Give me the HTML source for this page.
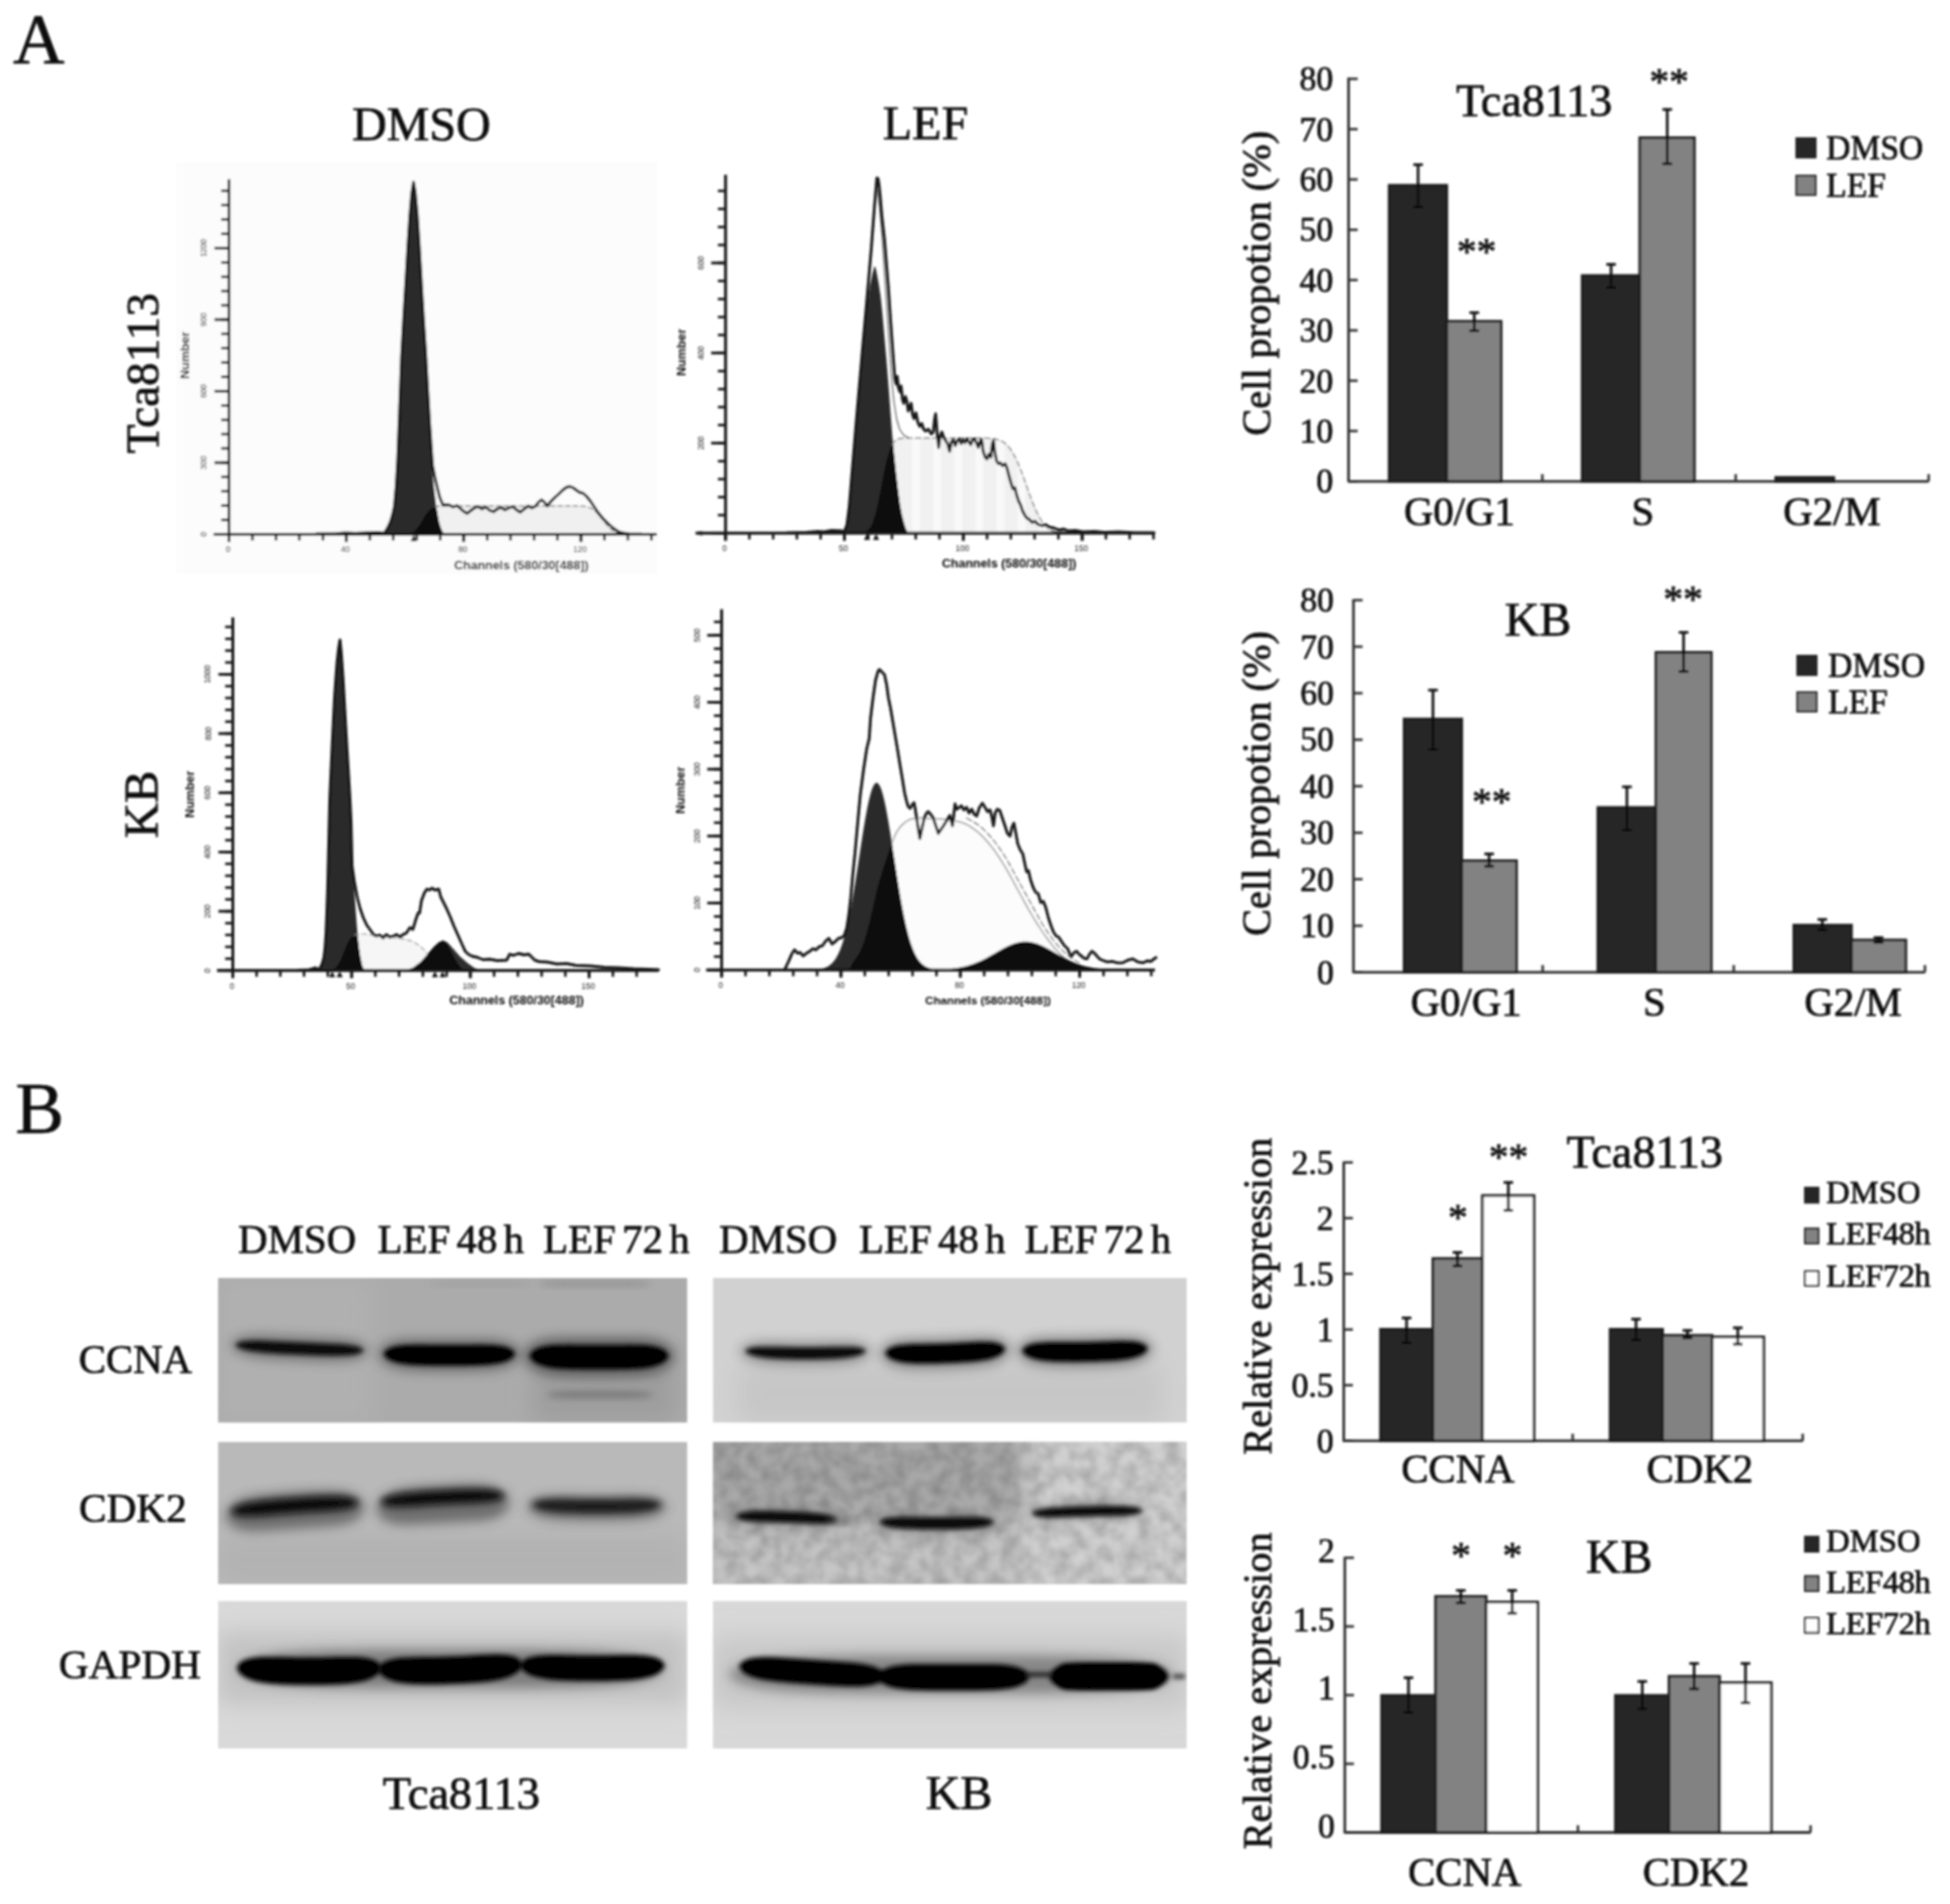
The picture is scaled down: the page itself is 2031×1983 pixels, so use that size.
<!DOCTYPE html>
<html><head><meta charset="utf-8"><title>Figure</title>
<style>html,body{margin:0;padding:0;background:#fff;}svg{display:block;}#wrap{width:2031px;height:1983px;overflow:hidden;}</style>
</head><body><div id="wrap">
<svg width="2031" height="1983" viewBox="0 0 2031 1983">
<rect width="2031" height="1983" fill="#fff"/>
<defs>
<filter id="b1" x="-20%" y="-50%" width="140%" height="200%"><feGaussianBlur stdDeviation="1"/></filter>
<filter id="b2" x="-20%" y="-80%" width="140%" height="260%"><feGaussianBlur stdDeviation="2.2"/></filter>
<filter id="b3" x="-20%" y="-80%" width="140%" height="260%"><feGaussianBlur stdDeviation="3.5"/></filter>
<filter id="b6" x="-20%" y="-100%" width="140%" height="300%"><feGaussianBlur stdDeviation="6"/></filter>
<filter id="b12" x="-30%" y="-100%" width="160%" height="300%"><feGaussianBlur stdDeviation="12"/></filter>
<filter id="noise" x="0" y="0" width="100%" height="100%" color-interpolation-filters="sRGB"><feTurbulence type="fractalNoise" baseFrequency="0.07" numOctaves="3" seed="5" result="n"/><feColorMatrix in="n" type="matrix" values="0 0 0 0 0  0 0 0 0 0  0 0 0 0 0  0.36 0 0 0 -0.115"/><feGaussianBlur stdDeviation="1.6"/></filter>
<filter id="softall" filterUnits="userSpaceOnUse" x="0" y="0" width="2031" height="1983"><feGaussianBlur stdDeviation="0.9"/></filter>
<filter id="soft" x="-5%" y="-5%" width="110%" height="110%"><feGaussianBlur stdDeviation="0.7"/></filter>
</defs>
<g filter="url(#softall)">
<text x="13.5" y="66.2" font-family="'Liberation Serif', serif" font-size="74.5" text-anchor="start" fill="#0a0a0a" stroke="#0a0a0a" stroke-width="0.7">A</text>
<text x="16" y="1180" font-family="'Liberation Serif', serif" font-size="76" text-anchor="start" fill="#0a0a0a" stroke="#0a0a0a" stroke-width="0.7">B</text>
<line x1="1404.6" y1="80.8" x2="1404.6" y2="502.3" stroke="#333" stroke-width="2.8"/>
<line x1="1404.6" y1="501.3" x2="2008.8" y2="501.3" stroke="#333" stroke-width="2.8"/>
<line x1="1404.6" y1="501.3" x2="1414.1" y2="501.3" stroke="#333" stroke-width="2.6"/>
<text x="1388.6" y="513.3" font-family="'Liberation Serif', serif" font-size="35" text-anchor="end" fill="#0a0a0a" stroke="#0a0a0a" stroke-width="0.7">0</text>
<line x1="1404.6" y1="448.9" x2="1414.1" y2="448.9" stroke="#333" stroke-width="2.6"/>
<text x="1388.6" y="460.9" font-family="'Liberation Serif', serif" font-size="35" text-anchor="end" fill="#0a0a0a" stroke="#0a0a0a" stroke-width="0.7">10</text>
<line x1="1404.6" y1="396.5" x2="1414.1" y2="396.5" stroke="#333" stroke-width="2.6"/>
<text x="1388.6" y="408.5" font-family="'Liberation Serif', serif" font-size="35" text-anchor="end" fill="#0a0a0a" stroke="#0a0a0a" stroke-width="0.7">20</text>
<line x1="1404.6" y1="344.1" x2="1414.1" y2="344.1" stroke="#333" stroke-width="2.6"/>
<text x="1388.6" y="356.1" font-family="'Liberation Serif', serif" font-size="35" text-anchor="end" fill="#0a0a0a" stroke="#0a0a0a" stroke-width="0.7">30</text>
<line x1="1404.6" y1="291.7" x2="1414.1" y2="291.7" stroke="#333" stroke-width="2.6"/>
<text x="1388.6" y="303.7" font-family="'Liberation Serif', serif" font-size="35" text-anchor="end" fill="#0a0a0a" stroke="#0a0a0a" stroke-width="0.7">40</text>
<line x1="1404.6" y1="239.3" x2="1414.1" y2="239.3" stroke="#333" stroke-width="2.6"/>
<text x="1388.6" y="251.3" font-family="'Liberation Serif', serif" font-size="35" text-anchor="end" fill="#0a0a0a" stroke="#0a0a0a" stroke-width="0.7">50</text>
<line x1="1404.6" y1="186.89999999999998" x2="1414.1" y2="186.89999999999998" stroke="#333" stroke-width="2.6"/>
<text x="1388.6" y="198.89999999999998" font-family="'Liberation Serif', serif" font-size="35" text-anchor="end" fill="#0a0a0a" stroke="#0a0a0a" stroke-width="0.7">60</text>
<line x1="1404.6" y1="134.5" x2="1414.1" y2="134.5" stroke="#333" stroke-width="2.6"/>
<text x="1388.6" y="146.5" font-family="'Liberation Serif', serif" font-size="35" text-anchor="end" fill="#0a0a0a" stroke="#0a0a0a" stroke-width="0.7">70</text>
<line x1="1404.6" y1="82.09999999999997" x2="1414.1" y2="82.09999999999997" stroke="#333" stroke-width="2.6"/>
<text x="1388.6" y="94.09999999999997" font-family="'Liberation Serif', serif" font-size="35" text-anchor="end" fill="#0a0a0a" stroke="#0a0a0a" stroke-width="0.7">80</text>
<line x1="1606.4" y1="501.3" x2="1606.4" y2="493.8" stroke="#333" stroke-width="2.6"/>
<line x1="1807.8" y1="501.3" x2="1807.8" y2="493.8" stroke="#333" stroke-width="2.6"/>
<line x1="2008.8" y1="501.3" x2="2008.8" y2="493.8" stroke="#333" stroke-width="2.6"/>
<rect x="1446.8" y="193.0" width="60.1" height="308.3" fill="#262626" stroke="#1c1c1c" stroke-width="2.7"/>
<rect x="1506.9" y="334.6" width="56.6" height="166.7" fill="#828282" stroke="#1c1c1c" stroke-width="2.7"/>
<rect x="1647.8" y="287.0" width="60.1" height="214.3" fill="#262626" stroke="#1c1c1c" stroke-width="2.7"/>
<rect x="1707.9" y="143.4" width="56.9" height="357.9" fill="#828282" stroke="#1c1c1c" stroke-width="2.7"/>
<rect x="1849.5" y="497.2" width="60.5" height="4.1" fill="#262626" stroke="#1c1c1c" stroke-width="2.7"/>
<line x1="1477" y1="171.5" x2="1477" y2="215.6" stroke="#0a0a0a" stroke-width="2.7"/>
<line x1="1472" y1="171.5" x2="1482" y2="171.5" stroke="#0a0a0a" stroke-width="2.7"/>
<line x1="1472" y1="215.6" x2="1482" y2="215.6" stroke="#0a0a0a" stroke-width="2.7"/>
<line x1="1535.5" y1="325.7" x2="1535.5" y2="344.4" stroke="#0a0a0a" stroke-width="2.7"/>
<line x1="1530.5" y1="325.7" x2="1540.5" y2="325.7" stroke="#0a0a0a" stroke-width="2.7"/>
<line x1="1530.5" y1="344.4" x2="1540.5" y2="344.4" stroke="#0a0a0a" stroke-width="2.7"/>
<line x1="1678" y1="275.3" x2="1678" y2="299.5" stroke="#0a0a0a" stroke-width="2.7"/>
<line x1="1673" y1="275.3" x2="1683" y2="275.3" stroke="#0a0a0a" stroke-width="2.7"/>
<line x1="1673" y1="299.5" x2="1683" y2="299.5" stroke="#0a0a0a" stroke-width="2.7"/>
<line x1="1736.5" y1="114" x2="1736.5" y2="170.7" stroke="#0a0a0a" stroke-width="2.7"/>
<line x1="1731.5" y1="114" x2="1741.5" y2="114" stroke="#0a0a0a" stroke-width="2.7"/>
<line x1="1731.5" y1="170.7" x2="1741.5" y2="170.7" stroke="#0a0a0a" stroke-width="2.7"/>
<text x="1322.5" y="295" font-family="'Liberation Serif', serif" font-size="42" text-anchor="middle" fill="#0a0a0a" stroke="#0a0a0a" stroke-width="0.7" transform="rotate(-90 1322.5 295)">Cell propotion (%)</text>
<text x="1597.8" y="121" font-family="'Liberation Serif', serif" font-size="48" text-anchor="middle" fill="#0a0a0a" stroke="#0a0a0a" stroke-width="0.7">Tca8113</text>
<rect x="1871.0" y="144.0" width="20.0" height="20.0" fill="#262626" stroke="#222" stroke-width="2"/>
<text x="1902" y="166" font-family="'Liberation Serif', serif" font-size="35" text-anchor="start" fill="#0a0a0a" stroke="#0a0a0a" stroke-width="0.7">DMSO</text>
<rect x="1871.0" y="183.0" width="20.0" height="20.0" fill="#828282" stroke="#222" stroke-width="2"/>
<text x="1902" y="205" font-family="'Liberation Serif', serif" font-size="35" text-anchor="start" fill="#0a0a0a" stroke="#0a0a0a" stroke-width="0.7">LEF</text>
<text x="1520" y="546.6" font-family="'Liberation Serif', serif" font-size="42.5" text-anchor="middle" fill="#0a0a0a" stroke="#0a0a0a" stroke-width="0.7">G0/G1</text>
<text x="1711" y="546.6" font-family="'Liberation Serif', serif" font-size="42.5" text-anchor="middle" fill="#0a0a0a" stroke="#0a0a0a" stroke-width="0.7">S</text>
<text x="1908" y="546.6" font-family="'Liberation Serif', serif" font-size="42.5" text-anchor="middle" fill="#0a0a0a" stroke="#0a0a0a" stroke-width="0.7">G2/M</text>
<text x="1538" y="274.5" font-family="'Liberation Serif', serif" font-size="41" text-anchor="middle" fill="#0a0a0a" stroke="#0a0a0a" stroke-width="0.7">**</text>
<text x="1738.5" y="97.5" font-family="'Liberation Serif', serif" font-size="41" text-anchor="middle" fill="#0a0a0a" stroke="#0a0a0a" stroke-width="0.7">**</text>
<line x1="1409.7" y1="624.1" x2="1409.7" y2="1013.6" stroke="#333" stroke-width="2.8"/>
<line x1="1409.7" y1="1012.6" x2="2004.9" y2="1012.6" stroke="#333" stroke-width="2.8"/>
<line x1="1409.7" y1="1012.6" x2="1419.2" y2="1012.6" stroke="#333" stroke-width="2.6"/>
<text x="1389.2" y="1024.6" font-family="'Liberation Serif', serif" font-size="35" text-anchor="end" fill="#0a0a0a" stroke="#0a0a0a" stroke-width="0.7">0</text>
<line x1="1409.7" y1="964.16" x2="1419.2" y2="964.16" stroke="#333" stroke-width="2.6"/>
<text x="1389.2" y="976.16" font-family="'Liberation Serif', serif" font-size="35" text-anchor="end" fill="#0a0a0a" stroke="#0a0a0a" stroke-width="0.7">10</text>
<line x1="1409.7" y1="915.72" x2="1419.2" y2="915.72" stroke="#333" stroke-width="2.6"/>
<text x="1389.2" y="927.72" font-family="'Liberation Serif', serif" font-size="35" text-anchor="end" fill="#0a0a0a" stroke="#0a0a0a" stroke-width="0.7">20</text>
<line x1="1409.7" y1="867.28" x2="1419.2" y2="867.28" stroke="#333" stroke-width="2.6"/>
<text x="1389.2" y="879.28" font-family="'Liberation Serif', serif" font-size="35" text-anchor="end" fill="#0a0a0a" stroke="#0a0a0a" stroke-width="0.7">30</text>
<line x1="1409.7" y1="818.84" x2="1419.2" y2="818.84" stroke="#333" stroke-width="2.6"/>
<text x="1389.2" y="830.84" font-family="'Liberation Serif', serif" font-size="35" text-anchor="end" fill="#0a0a0a" stroke="#0a0a0a" stroke-width="0.7">40</text>
<line x1="1409.7" y1="770.4" x2="1419.2" y2="770.4" stroke="#333" stroke-width="2.6"/>
<text x="1389.2" y="782.4" font-family="'Liberation Serif', serif" font-size="35" text-anchor="end" fill="#0a0a0a" stroke="#0a0a0a" stroke-width="0.7">50</text>
<line x1="1409.7" y1="721.96" x2="1419.2" y2="721.96" stroke="#333" stroke-width="2.6"/>
<text x="1389.2" y="733.96" font-family="'Liberation Serif', serif" font-size="35" text-anchor="end" fill="#0a0a0a" stroke="#0a0a0a" stroke-width="0.7">60</text>
<line x1="1409.7" y1="673.52" x2="1419.2" y2="673.52" stroke="#333" stroke-width="2.6"/>
<text x="1389.2" y="685.52" font-family="'Liberation Serif', serif" font-size="35" text-anchor="end" fill="#0a0a0a" stroke="#0a0a0a" stroke-width="0.7">70</text>
<line x1="1409.7" y1="625.0799999999999" x2="1419.2" y2="625.0799999999999" stroke="#333" stroke-width="2.6"/>
<text x="1389.2" y="637.0799999999999" font-family="'Liberation Serif', serif" font-size="35" text-anchor="end" fill="#0a0a0a" stroke="#0a0a0a" stroke-width="0.7">80</text>
<line x1="1606.8" y1="1012.6" x2="1606.8" y2="1005.1" stroke="#333" stroke-width="2.6"/>
<line x1="1805.8" y1="1012.6" x2="1805.8" y2="1005.1" stroke="#333" stroke-width="2.6"/>
<line x1="2004.9" y1="1012.6" x2="2004.9" y2="1005.1" stroke="#333" stroke-width="2.6"/>
<rect x="1462.4" y="748.8" width="60.1" height="263.8" fill="#262626" stroke="#1c1c1c" stroke-width="2.7"/>
<rect x="1522.5" y="896.4" width="57.0" height="116.2" fill="#828282" stroke="#1c1c1c" stroke-width="2.7"/>
<rect x="1664.2" y="841.0" width="60.5" height="171.6" fill="#262626" stroke="#1c1c1c" stroke-width="2.7"/>
<rect x="1724.7" y="679.4" width="57.7" height="333.2" fill="#828282" stroke="#1c1c1c" stroke-width="2.7"/>
<rect x="1868.3" y="963.5" width="60.1" height="49.1" fill="#262626" stroke="#1c1c1c" stroke-width="2.7"/>
<rect x="1928.4" y="979.0" width="56.6" height="33.6" fill="#828282" stroke="#1c1c1c" stroke-width="2.7"/>
<line x1="1492.5" y1="718.8" x2="1492.5" y2="780.4" stroke="#0a0a0a" stroke-width="2.7"/>
<line x1="1487.5" y1="718.8" x2="1497.5" y2="718.8" stroke="#0a0a0a" stroke-width="2.7"/>
<line x1="1487.5" y1="780.4" x2="1497.5" y2="780.4" stroke="#0a0a0a" stroke-width="2.7"/>
<line x1="1551" y1="889.3" x2="1551" y2="902.2" stroke="#0a0a0a" stroke-width="2.7"/>
<line x1="1546" y1="889.3" x2="1556" y2="889.3" stroke="#0a0a0a" stroke-width="2.7"/>
<line x1="1546" y1="902.2" x2="1556" y2="902.2" stroke="#0a0a0a" stroke-width="2.7"/>
<line x1="1694.5" y1="819.5" x2="1694.5" y2="864.4" stroke="#0a0a0a" stroke-width="2.7"/>
<line x1="1689.5" y1="819.5" x2="1699.5" y2="819.5" stroke="#0a0a0a" stroke-width="2.7"/>
<line x1="1689.5" y1="864.4" x2="1699.5" y2="864.4" stroke="#0a0a0a" stroke-width="2.7"/>
<line x1="1753.5" y1="658.7" x2="1753.5" y2="699.3" stroke="#0a0a0a" stroke-width="2.7"/>
<line x1="1748.5" y1="658.7" x2="1758.5" y2="658.7" stroke="#0a0a0a" stroke-width="2.7"/>
<line x1="1748.5" y1="699.3" x2="1758.5" y2="699.3" stroke="#0a0a0a" stroke-width="2.7"/>
<line x1="1898" y1="957.6" x2="1898" y2="968.5" stroke="#0a0a0a" stroke-width="2.7"/>
<line x1="1893" y1="957.6" x2="1903" y2="957.6" stroke="#0a0a0a" stroke-width="2.7"/>
<line x1="1893" y1="968.5" x2="1903" y2="968.5" stroke="#0a0a0a" stroke-width="2.7"/>
<line x1="1956.5" y1="976.5" x2="1956.5" y2="981.5" stroke="#0a0a0a" stroke-width="2.7"/>
<line x1="1951.5" y1="976.5" x2="1961.5" y2="976.5" stroke="#0a0a0a" stroke-width="2.7"/>
<line x1="1951.5" y1="981.5" x2="1961.5" y2="981.5" stroke="#0a0a0a" stroke-width="2.7"/>
<text x="1322.5" y="816" font-family="'Liberation Serif', serif" font-size="42" text-anchor="middle" fill="#0a0a0a" stroke="#0a0a0a" stroke-width="0.7" transform="rotate(-90 1322.5 816)">Cell propotion (%)</text>
<text x="1602" y="662" font-family="'Liberation Serif', serif" font-size="50" text-anchor="middle" fill="#0a0a0a" stroke="#0a0a0a" stroke-width="0.7">KB</text>
<rect x="1872.0" y="683.0" width="20.0" height="20.0" fill="#262626" stroke="#222" stroke-width="2"/>
<text x="1904" y="705" font-family="'Liberation Serif', serif" font-size="35" text-anchor="start" fill="#0a0a0a" stroke="#0a0a0a" stroke-width="0.7">DMSO</text>
<rect x="1872.0" y="721.0" width="20.0" height="20.0" fill="#828282" stroke="#222" stroke-width="2"/>
<text x="1904" y="743" font-family="'Liberation Serif', serif" font-size="35" text-anchor="start" fill="#0a0a0a" stroke="#0a0a0a" stroke-width="0.7">LEF</text>
<text x="1527" y="1058.3" font-family="'Liberation Serif', serif" font-size="42.5" text-anchor="middle" fill="#0a0a0a" stroke="#0a0a0a" stroke-width="0.7">G0/G1</text>
<text x="1723" y="1058.3" font-family="'Liberation Serif', serif" font-size="42.5" text-anchor="middle" fill="#0a0a0a" stroke="#0a0a0a" stroke-width="0.7">S</text>
<text x="1930" y="1058.3" font-family="'Liberation Serif', serif" font-size="42.5" text-anchor="middle" fill="#0a0a0a" stroke="#0a0a0a" stroke-width="0.7">G2/M</text>
<text x="1553.7" y="847.5" font-family="'Liberation Serif', serif" font-size="41" text-anchor="middle" fill="#0a0a0a" stroke="#0a0a0a" stroke-width="0.7">**</text>
<text x="1753" y="636.5" font-family="'Liberation Serif', serif" font-size="41" text-anchor="middle" fill="#0a0a0a" stroke="#0a0a0a" stroke-width="0.7">**</text>
<line x1="1399.6" y1="1209.8" x2="1399.6" y2="1501.7" stroke="#333" stroke-width="2.8"/>
<line x1="1399.6" y1="1500.7" x2="1877.6" y2="1500.7" stroke="#333" stroke-width="2.8"/>
<line x1="1399.6" y1="1500.7" x2="1409.1" y2="1500.7" stroke="#333" stroke-width="2.6"/>
<text x="1389.1" y="1512.7" font-family="'Liberation Serif', serif" font-size="35" text-anchor="end" fill="#0a0a0a" stroke="#0a0a0a" stroke-width="0.7">0</text>
<line x1="1399.6" y1="1442.7" x2="1409.1" y2="1442.7" stroke="#333" stroke-width="2.6"/>
<text x="1389.1" y="1454.7" font-family="'Liberation Serif', serif" font-size="35" text-anchor="end" fill="#0a0a0a" stroke="#0a0a0a" stroke-width="0.7">0.5</text>
<line x1="1399.6" y1="1384.7" x2="1409.1" y2="1384.7" stroke="#333" stroke-width="2.6"/>
<text x="1389.1" y="1396.7" font-family="'Liberation Serif', serif" font-size="35" text-anchor="end" fill="#0a0a0a" stroke="#0a0a0a" stroke-width="0.7">1</text>
<line x1="1399.6" y1="1326.7" x2="1409.1" y2="1326.7" stroke="#333" stroke-width="2.6"/>
<text x="1389.1" y="1338.7" font-family="'Liberation Serif', serif" font-size="35" text-anchor="end" fill="#0a0a0a" stroke="#0a0a0a" stroke-width="0.7">1.5</text>
<line x1="1399.6" y1="1268.7" x2="1409.1" y2="1268.7" stroke="#333" stroke-width="2.6"/>
<text x="1389.1" y="1280.7" font-family="'Liberation Serif', serif" font-size="35" text-anchor="end" fill="#0a0a0a" stroke="#0a0a0a" stroke-width="0.7">2</text>
<line x1="1399.6" y1="1210.7" x2="1409.1" y2="1210.7" stroke="#333" stroke-width="2.6"/>
<text x="1389.1" y="1222.7" font-family="'Liberation Serif', serif" font-size="35" text-anchor="end" fill="#0a0a0a" stroke="#0a0a0a" stroke-width="0.7">2.5</text>
<line x1="1638" y1="1500.7" x2="1638" y2="1493.2" stroke="#333" stroke-width="2.6"/>
<line x1="1877.6" y1="1500.7" x2="1877.6" y2="1493.2" stroke="#333" stroke-width="2.6"/>
<rect x="1437.8" y="1384.4" width="54.6" height="116.3" fill="#262626" stroke="#1c1c1c" stroke-width="2.7"/>
<rect x="1492.4" y="1310.7" width="51.6" height="190.0" fill="#828282" stroke="#1c1c1c" stroke-width="2.7"/>
<rect x="1544.0" y="1245.1" width="53.8" height="255.6" fill="#ffffff" stroke="#1c1c1c" stroke-width="2.7"/>
<rect x="1677.0" y="1384.4" width="54.7" height="116.3" fill="#262626" stroke="#1c1c1c" stroke-width="2.7"/>
<rect x="1731.7" y="1390.7" width="51.5" height="110.0" fill="#828282" stroke="#1c1c1c" stroke-width="2.7"/>
<rect x="1783.2" y="1392.3" width="53.8" height="108.4" fill="#ffffff" stroke="#1c1c1c" stroke-width="2.7"/>
<line x1="1465" y1="1372.7" x2="1465" y2="1398.5" stroke="#0a0a0a" stroke-width="2.7"/>
<line x1="1460" y1="1372.7" x2="1470" y2="1372.7" stroke="#0a0a0a" stroke-width="2.7"/>
<line x1="1460" y1="1398.5" x2="1470" y2="1398.5" stroke="#0a0a0a" stroke-width="2.7"/>
<line x1="1518" y1="1304.4" x2="1518" y2="1318.5" stroke="#0a0a0a" stroke-width="2.7"/>
<line x1="1513" y1="1304.4" x2="1523" y2="1304.4" stroke="#0a0a0a" stroke-width="2.7"/>
<line x1="1513" y1="1318.5" x2="1523" y2="1318.5" stroke="#0a0a0a" stroke-width="2.7"/>
<line x1="1571" y1="1231.5" x2="1571" y2="1260.7" stroke="#0a0a0a" stroke-width="2.7"/>
<line x1="1566" y1="1231.5" x2="1576" y2="1231.5" stroke="#0a0a0a" stroke-width="2.7"/>
<line x1="1566" y1="1260.7" x2="1576" y2="1260.7" stroke="#0a0a0a" stroke-width="2.7"/>
<line x1="1704" y1="1373.9" x2="1704" y2="1395.4" stroke="#0a0a0a" stroke-width="2.7"/>
<line x1="1699" y1="1373.9" x2="1709" y2="1373.9" stroke="#0a0a0a" stroke-width="2.7"/>
<line x1="1699" y1="1395.4" x2="1709" y2="1395.4" stroke="#0a0a0a" stroke-width="2.7"/>
<line x1="1757.5" y1="1385.6" x2="1757.5" y2="1393.4" stroke="#0a0a0a" stroke-width="2.7"/>
<line x1="1752.5" y1="1385.6" x2="1762.5" y2="1385.6" stroke="#0a0a0a" stroke-width="2.7"/>
<line x1="1752.5" y1="1393.4" x2="1762.5" y2="1393.4" stroke="#0a0a0a" stroke-width="2.7"/>
<line x1="1810" y1="1382.9" x2="1810" y2="1400" stroke="#0a0a0a" stroke-width="2.7"/>
<line x1="1805" y1="1382.9" x2="1815" y2="1382.9" stroke="#0a0a0a" stroke-width="2.7"/>
<line x1="1805" y1="1400" x2="1815" y2="1400" stroke="#0a0a0a" stroke-width="2.7"/>
<text x="1324" y="1350" font-family="'Liberation Serif', serif" font-size="42" text-anchor="middle" fill="#0a0a0a" stroke="#0a0a0a" stroke-width="0.7" transform="rotate(-90 1324 1350)">Relative expression</text>
<text x="1713" y="1216" font-family="'Liberation Serif', serif" font-size="48" text-anchor="middle" fill="#0a0a0a" stroke="#0a0a0a" stroke-width="0.7">Tca8113</text>
<rect x="1880.0" y="1237.0" width="14.0" height="15.5" fill="#262626" stroke="#222" stroke-width="2"/>
<text x="1902" y="1253" font-family="'Liberation Serif', serif" font-size="34" text-anchor="start" fill="#0a0a0a" stroke="#0a0a0a" stroke-width="0.7">DMSO</text>
<rect x="1880.0" y="1279.5" width="14.0" height="15.5" fill="#828282" stroke="#222" stroke-width="2"/>
<text x="1902" y="1296" font-family="'Liberation Serif', serif" font-size="34" text-anchor="start" fill="#0a0a0a" stroke="#0a0a0a" stroke-width="0.7" letter-spacing="-0.5">LEF48h</text>
<rect x="1880.0" y="1324.0" width="14.0" height="15.0" fill="#ffffff" stroke="#222" stroke-width="2"/>
<text x="1902" y="1340.2" font-family="'Liberation Serif', serif" font-size="34" text-anchor="start" fill="#0a0a0a" stroke="#0a0a0a" stroke-width="0.7" letter-spacing="-0.5">LEF72h</text>
<text x="1518.5" y="1543.7" font-family="'Liberation Serif', serif" font-size="42.5" text-anchor="middle" fill="#0a0a0a" stroke="#0a0a0a" stroke-width="0.7">CCNA</text>
<text x="1770.5" y="1543.7" font-family="'Liberation Serif', serif" font-size="42.5" text-anchor="middle" fill="#0a0a0a" stroke="#0a0a0a" stroke-width="0.7">CDK2</text>
<text x="1518.6" y="1280.5" font-family="'Liberation Serif', serif" font-size="41" text-anchor="middle" fill="#0a0a0a" stroke="#0a0a0a" stroke-width="0.7">*</text>
<text x="1571.3" y="1217.5" font-family="'Liberation Serif', serif" font-size="41" text-anchor="middle" fill="#0a0a0a" stroke="#0a0a0a" stroke-width="0.7">**</text>
<line x1="1400.7" y1="1621.4" x2="1400.7" y2="1909.5" stroke="#333" stroke-width="2.8"/>
<line x1="1400.7" y1="1908.5" x2="1885.8" y2="1908.5" stroke="#333" stroke-width="2.8"/>
<line x1="1400.7" y1="1908.5" x2="1410.2" y2="1908.5" stroke="#333" stroke-width="2.6"/>
<text x="1390.2" y="1913.5" font-family="'Liberation Serif', serif" font-size="35" text-anchor="end" fill="#0a0a0a" stroke="#0a0a0a" stroke-width="0.7">0</text>
<line x1="1400.7" y1="1836.975" x2="1410.2" y2="1836.975" stroke="#333" stroke-width="2.6"/>
<text x="1390.2" y="1841.975" font-family="'Liberation Serif', serif" font-size="35" text-anchor="end" fill="#0a0a0a" stroke="#0a0a0a" stroke-width="0.7">0.5</text>
<line x1="1400.7" y1="1765.45" x2="1410.2" y2="1765.45" stroke="#333" stroke-width="2.6"/>
<text x="1390.2" y="1770.45" font-family="'Liberation Serif', serif" font-size="35" text-anchor="end" fill="#0a0a0a" stroke="#0a0a0a" stroke-width="0.7">1</text>
<line x1="1400.7" y1="1693.925" x2="1410.2" y2="1693.925" stroke="#333" stroke-width="2.6"/>
<text x="1390.2" y="1698.925" font-family="'Liberation Serif', serif" font-size="35" text-anchor="end" fill="#0a0a0a" stroke="#0a0a0a" stroke-width="0.7">1.5</text>
<line x1="1400.7" y1="1622.4" x2="1410.2" y2="1622.4" stroke="#333" stroke-width="2.6"/>
<text x="1390.2" y="1627.4" font-family="'Liberation Serif', serif" font-size="35" text-anchor="end" fill="#0a0a0a" stroke="#0a0a0a" stroke-width="0.7">2</text>
<line x1="1643.5" y1="1908.5" x2="1643.5" y2="1901.0" stroke="#333" stroke-width="2.6"/>
<line x1="1885.8" y1="1908.5" x2="1885.8" y2="1901.0" stroke="#333" stroke-width="2.6"/>
<rect x="1439.0" y="1765.7" width="56.2" height="142.8" fill="#262626" stroke="#1c1c1c" stroke-width="2.7"/>
<rect x="1495.2" y="1662.6" width="52.7" height="245.9" fill="#828282" stroke="#1c1c1c" stroke-width="2.7"/>
<rect x="1547.9" y="1668.5" width="53.8" height="240.0" fill="#ffffff" stroke="#1c1c1c" stroke-width="2.7"/>
<rect x="1682.5" y="1765.7" width="55.8" height="142.8" fill="#262626" stroke="#1c1c1c" stroke-width="2.7"/>
<rect x="1738.3" y="1745.8" width="52.7" height="162.7" fill="#828282" stroke="#1c1c1c" stroke-width="2.7"/>
<rect x="1791.0" y="1752.4" width="53.9" height="156.1" fill="#ffffff" stroke="#1c1c1c" stroke-width="2.7"/>
<line x1="1467" y1="1747.3" x2="1467" y2="1783.6" stroke="#0a0a0a" stroke-width="2.7"/>
<line x1="1462" y1="1747.3" x2="1472" y2="1747.3" stroke="#0a0a0a" stroke-width="2.7"/>
<line x1="1462" y1="1783.6" x2="1472" y2="1783.6" stroke="#0a0a0a" stroke-width="2.7"/>
<line x1="1521.5" y1="1656.4" x2="1521.5" y2="1669.3" stroke="#0a0a0a" stroke-width="2.7"/>
<line x1="1516.5" y1="1656.4" x2="1526.5" y2="1656.4" stroke="#0a0a0a" stroke-width="2.7"/>
<line x1="1516.5" y1="1669.3" x2="1526.5" y2="1669.3" stroke="#0a0a0a" stroke-width="2.7"/>
<line x1="1575" y1="1656.4" x2="1575" y2="1680.2" stroke="#0a0a0a" stroke-width="2.7"/>
<line x1="1570" y1="1656.4" x2="1580" y2="1656.4" stroke="#0a0a0a" stroke-width="2.7"/>
<line x1="1570" y1="1680.2" x2="1580" y2="1680.2" stroke="#0a0a0a" stroke-width="2.7"/>
<line x1="1710.5" y1="1751.2" x2="1710.5" y2="1779.7" stroke="#0a0a0a" stroke-width="2.7"/>
<line x1="1705.5" y1="1751.2" x2="1715.5" y2="1751.2" stroke="#0a0a0a" stroke-width="2.7"/>
<line x1="1705.5" y1="1779.7" x2="1715.5" y2="1779.7" stroke="#0a0a0a" stroke-width="2.7"/>
<line x1="1764.5" y1="1732.5" x2="1764.5" y2="1759" stroke="#0a0a0a" stroke-width="2.7"/>
<line x1="1759.5" y1="1732.5" x2="1769.5" y2="1732.5" stroke="#0a0a0a" stroke-width="2.7"/>
<line x1="1759.5" y1="1759" x2="1769.5" y2="1759" stroke="#0a0a0a" stroke-width="2.7"/>
<line x1="1818" y1="1732.5" x2="1818" y2="1773.5" stroke="#0a0a0a" stroke-width="2.7"/>
<line x1="1813" y1="1732.5" x2="1823" y2="1732.5" stroke="#0a0a0a" stroke-width="2.7"/>
<line x1="1813" y1="1773.5" x2="1823" y2="1773.5" stroke="#0a0a0a" stroke-width="2.7"/>
<text x="1324" y="1761" font-family="'Liberation Serif', serif" font-size="42" text-anchor="middle" fill="#0a0a0a" stroke="#0a0a0a" stroke-width="0.7" transform="rotate(-90 1324 1761)">Relative expression</text>
<text x="1686.5" y="1638" font-family="'Liberation Serif', serif" font-size="50" text-anchor="middle" fill="#0a0a0a" stroke="#0a0a0a" stroke-width="0.7">KB</text>
<rect x="1880.0" y="1600.5" width="14.0" height="15.5" fill="#262626" stroke="#222" stroke-width="2"/>
<text x="1902" y="1616.3" font-family="'Liberation Serif', serif" font-size="34" text-anchor="start" fill="#0a0a0a" stroke="#0a0a0a" stroke-width="0.7">DMSO</text>
<rect x="1880.0" y="1641.5" width="14.0" height="15.5" fill="#828282" stroke="#222" stroke-width="2"/>
<text x="1902" y="1658.6" font-family="'Liberation Serif', serif" font-size="34" text-anchor="start" fill="#0a0a0a" stroke="#0a0a0a" stroke-width="0.7" letter-spacing="-0.5">LEF48h</text>
<rect x="1880.0" y="1685.0" width="14.0" height="15.5" fill="#ffffff" stroke="#222" stroke-width="2"/>
<text x="1902" y="1701.8" font-family="'Liberation Serif', serif" font-size="34" text-anchor="start" fill="#0a0a0a" stroke="#0a0a0a" stroke-width="0.7" letter-spacing="-0.5">LEF72h</text>
<text x="1525.5" y="1963.9" font-family="'Liberation Serif', serif" font-size="42.5" text-anchor="middle" fill="#0a0a0a" stroke="#0a0a0a" stroke-width="0.7">CCNA</text>
<text x="1766.5" y="1963.9" font-family="'Liberation Serif', serif" font-size="42.5" text-anchor="middle" fill="#0a0a0a" stroke="#0a0a0a" stroke-width="0.7">CDK2</text>
<text x="1521.7" y="1633" font-family="'Liberation Serif', serif" font-size="41" text-anchor="middle" fill="#0a0a0a" stroke="#0a0a0a" stroke-width="0.7">*</text>
<text x="1575.2" y="1633" font-family="'Liberation Serif', serif" font-size="41" text-anchor="middle" fill="#0a0a0a" stroke="#0a0a0a" stroke-width="0.7">*</text>
<g>
<rect x="183.0" y="169.0" width="501.0" height="429.0" fill="#fcfcfc"/>
<path d="M415.0,556.4 L415.0,556.4 L416.0,556.4 L417.0,556.4 L418.0,556.4 L419.0,556.4 L420.0,556.3 L421.0,556.3 L422.0,556.3 L423.0,556.2 L424.0,556.1 L425.0,555.9 L426.0,555.7 L427.0,555.5 L428.0,555.1 L429.0,554.7 L430.0,554.1 L431.0,553.5 L432.0,552.7 L433.0,551.7 L434.0,550.6 L435.0,549.4 L436.0,548.0 L437.0,546.5 L438.0,545.0 L439.0,543.3 L440.0,541.6 L441.0,540.0 L442.0,538.3 L443.0,536.8 L444.0,535.3 L445.0,533.9 L446.0,532.7 L447.0,531.6 L448.0,530.6 L449.0,529.8 L450.0,529.2 L451.0,528.6 L452.0,528.2 L453.0,527.8 L454.0,527.6 L455.0,527.4 L456.0,527.2 L457.0,527.1 L458.0,527.0 L459.0,527.0 L460.0,527.0 L461.0,526.9 L462.0,526.9 L463.0,526.9 L464.0,526.9 L465.0,526.9 L466.0,526.9 L467.0,526.9 L468.0,526.9 L469.0,526.9 L470.0,526.9 L471.0,526.9 L472.0,526.9 L473.0,526.9 L474.0,526.9 L475.0,526.9 L476.0,526.9 L477.0,526.9 L478.0,526.9 L479.0,526.9 L480.0,526.9 L481.0,526.9 L482.0,526.9 L483.0,526.9 L484.0,526.9 L485.0,526.9 L486.0,526.9 L487.0,526.9 L488.0,526.9 L489.0,526.9 L490.0,526.9 L491.0,526.9 L492.0,526.9 L493.0,526.9 L494.0,526.9 L495.0,526.9 L496.0,526.9 L497.0,526.9 L498.0,526.9 L499.0,526.9 L500.0,526.9 L501.0,526.9 L502.0,526.9 L503.0,526.9 L504.0,526.9 L505.0,526.9 L506.0,526.9 L507.0,526.9 L508.0,526.9 L509.0,526.9 L510.0,526.9 L511.0,526.9 L512.0,526.9 L513.0,526.9 L514.0,526.9 L515.0,526.9 L516.0,526.9 L517.0,526.9 L518.0,526.9 L519.0,526.9 L520.0,526.9 L521.0,526.9 L522.0,526.9 L523.0,526.9 L524.0,526.9 L525.0,526.9 L526.0,526.9 L527.0,526.9 L528.0,526.9 L529.0,526.9 L530.0,526.9 L531.0,526.9 L532.0,526.9 L533.0,526.9 L534.0,526.9 L535.0,526.9 L536.0,526.9 L537.0,526.9 L538.0,526.9 L539.0,526.9 L540.0,526.9 L541.0,526.9 L542.0,526.9 L543.0,526.9 L544.0,526.9 L545.0,526.9 L546.0,526.9 L547.0,526.9 L548.0,526.9 L549.0,526.9 L550.0,526.9 L551.0,526.9 L552.0,526.9 L553.0,526.9 L554.0,526.9 L555.0,526.9 L556.0,526.9 L557.0,526.9 L558.0,526.9 L559.0,526.9 L560.0,526.9 L561.0,526.9 L562.0,526.9 L563.0,526.9 L564.0,526.9 L565.0,526.9 L566.0,526.9 L567.0,526.9 L568.0,526.9 L569.0,526.9 L570.0,526.9 L571.0,526.9 L572.0,526.9 L573.0,526.9 L574.0,526.9 L575.0,526.9 L576.0,526.9 L577.0,526.9 L578.0,526.9 L579.0,526.9 L580.0,526.9 L581.0,526.9 L582.0,526.9 L583.0,526.9 L584.0,526.9 L585.0,526.9 L586.0,526.9 L587.0,526.9 L588.0,526.9 L589.0,526.9 L590.0,526.9 L591.0,526.9 L592.0,526.9 L593.0,526.9 L594.0,526.9 L595.0,526.9 L596.0,526.9 L597.0,526.9 L598.0,526.9 L599.0,526.9 L600.0,526.9 L601.0,526.9 L602.0,527.0 L603.0,527.0 L604.0,527.0 L605.0,527.1 L606.0,527.1 L607.0,527.2 L608.0,527.3 L609.0,527.4 L610.0,527.6 L611.0,527.8 L612.0,528.0 L613.0,528.3 L614.0,528.7 L615.0,529.1 L616.0,529.6 L617.0,530.2 L618.0,530.8 L619.0,531.6 L620.0,532.4 L621.0,533.3 L622.0,534.3 L623.0,535.4 L624.0,536.6 L625.0,537.8 L626.0,539.1 L627.0,540.3 L628.0,541.6 L629.0,543.0 L630.0,544.2 L631.0,545.5 L632.0,546.7 L633.0,547.9 L634.0,549.0 L635.0,550.0 L636.0,550.9 L637.0,551.7 L638.0,552.5 L639.0,553.1 L640.0,553.7 L641.0,554.2 L642.0,554.6 L643.0,555.0 L644.0,555.3 L645.0,555.5 L646.0,555.7 L647.0,555.9 L648.0,556.0 L649.0,556.1 L650.0,556.2 L651.0,556.2 L652.0,556.3 L653.0,556.3 L654.0,556.3 L655.0,556.4 L656.0,556.4 L657.0,556.4 L658.0,556.4 L659.0,556.4 L660.0,556.4 L660.0,556.4 Z" fill="#f0f0f0"/>
<path d="M399.0,556.4 L399.0,556.4 L401.3,554.7 L404.0,550.0 L406.7,544.0 L408.8,537.0 L410.7,528.0 L412.5,508.0 L414.1,480.0 L416.0,430.0 L418.1,373.3 L420.3,333.0 L422.7,293.3 L424.7,258.0 L426.7,226.7 L428.7,203.0 L430.7,190.7 L432.7,203.0 L434.7,226.7 L436.7,258.0 L438.7,293.3 L441.0,333.0 L443.5,373.3 L445.5,413.0 L447.5,453.3 L449.7,482.0 L452.0,506.7 L454.5,528.0 L457.3,544.0 L459.5,551.0 L461.3,554.7 L463.5,556.4 L463.5,556.4 Z" fill="#2b2b2b"/>
<path d="M415.0,556.4 L415.0,556.4 L416.0,556.4 L417.0,556.4 L418.0,556.4 L419.0,556.4 L420.0,556.3 L421.0,556.3 L422.0,556.3 L423.0,556.2 L424.0,556.1 L425.0,555.9 L426.0,555.7 L427.0,555.5 L428.0,555.1 L429.0,554.7 L430.0,554.1 L431.0,553.5 L432.0,552.7 L433.0,551.7 L434.0,550.6 L435.0,549.4 L436.0,548.0 L437.0,546.5 L438.0,545.0 L439.0,543.3 L440.0,541.6 L441.0,540.0 L442.0,538.3 L443.0,536.8 L444.0,535.3 L445.0,533.9 L446.0,532.7 L447.0,531.6 L448.0,530.6 L449.0,529.8 L450.0,529.2 L451.0,528.6 L452.0,528.2 L453.0,527.8 L454.0,527.6 L455.0,530.9 L456.0,536.6 L457.0,542.3 L458.0,546.2 L459.0,549.4 L460.0,552.0 L461.0,554.1 L462.0,555.2 L463.0,556.0 L463.0,556.4 Z" fill="#0c0c0c"/>
<path d="M453.0,527.8 L454.0,527.6 L455.0,527.4 L456.0,527.2 L457.0,527.1 L458.0,527.0 L459.0,527.0 L460.0,527.0 L461.0,526.9 L462.0,526.9 L463.0,526.9 L464.0,526.9 L465.0,526.9 L466.0,526.9 L467.0,526.9 L468.0,526.9 L469.0,526.9 L470.0,526.9 L471.0,526.9 L472.0,526.9 L473.0,526.9 L474.0,526.9 L475.0,526.9 L476.0,526.9 L477.0,526.9 L478.0,526.9 L479.0,526.9 L480.0,526.9 L481.0,526.9 L482.0,526.9 L483.0,526.9 L484.0,526.9 L485.0,526.9 L486.0,526.9 L487.0,526.9 L488.0,526.9 L489.0,526.9 L490.0,526.9 L491.0,526.9 L492.0,526.9 L493.0,526.9 L494.0,526.9 L495.0,526.9 L496.0,526.9 L497.0,526.9 L498.0,526.9 L499.0,526.9 L500.0,526.9 L501.0,526.9 L502.0,526.9 L503.0,526.9 L504.0,526.9 L505.0,526.9 L506.0,526.9 L507.0,526.9 L508.0,526.9 L509.0,526.9 L510.0,526.9 L511.0,526.9 L512.0,526.9 L513.0,526.9 L514.0,526.9 L515.0,526.9 L516.0,526.9 L517.0,526.9 L518.0,526.9 L519.0,526.9 L520.0,526.9 L521.0,526.9 L522.0,526.9 L523.0,526.9 L524.0,526.9 L525.0,526.9 L526.0,526.9 L527.0,526.9 L528.0,526.9 L529.0,526.9 L530.0,526.9 L531.0,526.9 L532.0,526.9 L533.0,526.9 L534.0,526.9 L535.0,526.9 L536.0,526.9 L537.0,526.9 L538.0,526.9 L539.0,526.9 L540.0,526.9 L541.0,526.9 L542.0,526.9 L543.0,526.9 L544.0,526.9 L545.0,526.9 L546.0,526.9 L547.0,526.9 L548.0,526.9 L549.0,526.9 L550.0,526.9 L551.0,526.9 L552.0,526.9 L553.0,526.9 L554.0,526.9 L555.0,526.9 L556.0,526.9 L557.0,526.9 L558.0,526.9 L559.0,526.9 L560.0,526.9 L561.0,526.9 L562.0,526.9 L563.0,526.9 L564.0,526.9 L565.0,526.9 L566.0,526.9 L567.0,526.9 L568.0,526.9 L569.0,526.9 L570.0,526.9 L571.0,526.9 L572.0,526.9 L573.0,526.9 L574.0,526.9 L575.0,526.9 L576.0,526.9 L577.0,526.9 L578.0,526.9 L579.0,526.9 L580.0,526.9 L581.0,526.9 L582.0,526.9 L583.0,526.9 L584.0,526.9 L585.0,526.9 L586.0,526.9 L587.0,526.9 L588.0,526.9 L589.0,526.9 L590.0,526.9 L591.0,526.9 L592.0,526.9 L593.0,526.9 L594.0,526.9 L595.0,526.9 L596.0,526.9 L597.0,526.9 L598.0,526.9 L599.0,526.9 L600.0,526.9 L601.0,526.9 L602.0,527.0 L603.0,527.0 L604.0,527.0 L605.0,527.1 L606.0,527.1 L607.0,527.2 L608.0,527.3 L609.0,527.4 L610.0,527.6 L611.0,527.8 L612.0,528.0 L613.0,528.3 L614.0,528.7 L615.0,529.1 L616.0,529.6 L617.0,530.2 L618.0,530.8 L619.0,531.6 L620.0,532.4 L621.0,533.3 L622.0,534.3 L623.0,535.4 L624.0,536.6 L625.0,537.8 L626.0,539.1 L627.0,540.3 L628.0,541.6 L629.0,543.0 L630.0,544.2 L631.0,545.5 L632.0,546.7 L633.0,547.9 L634.0,549.0 L635.0,550.0 L636.0,550.9 L637.0,551.7 L638.0,552.5 L639.0,553.1 L640.0,553.7 L641.0,554.2 L642.0,554.6 L643.0,555.0 L644.0,555.3 L645.0,555.5 L646.0,555.7 L647.0,555.9 L648.0,556.0 L649.0,556.1 L650.0,556.2 L651.0,556.2 L652.0,556.3 L653.0,556.3 L654.0,556.3" fill="none" stroke="#777" stroke-width="1.2" stroke-linejoin="round" stroke-linecap="round" stroke-dasharray="5 3"/>
<path d="M330.0,556.0 L350.0,555.8 L360.0,555.0 L370.0,555.5 L385.0,554.8 L395.0,554.5 L399.0,555.4 L401.3,553.7 L404.0,549.0 L406.7,543.0 L408.8,536.0 L410.7,527.0 L412.5,507.0 L414.1,479.0 L416.0,429.0 L418.1,372.3 L420.3,332.0 L422.7,292.3 L424.7,257.0 L426.7,225.7 L428.7,202.0 L430.7,189.7 L432.5,200.0 L434.7,224.0 L436.7,255.0 L438.7,290.0 L441.0,330.0 L443.5,368.0 L445.5,405.0 L447.5,440.0 L449.0,462.0 L450.5,484.6 L453.0,497.0 L455.5,508.0 L458.0,518.0 L461.3,526.0 L464.0,525.5 L468.0,526.0 L472.0,528.0 L476.0,526.5 L480.0,530.0 L483.5,533.0 L486.7,534.7 L490.0,532.0 L494.0,529.0 L498.0,527.5 L502.0,530.0 L506.0,528.0 L510.0,531.5 L514.0,533.0 L518.0,530.0 L522.0,528.5 L526.0,531.0 L530.0,529.0 L534.0,527.5 L538.0,531.0 L542.0,533.5 L546.0,530.0 L550.0,527.0 L554.0,529.0 L558.0,527.0 L560.0,524.0 L564.0,520.5 L567.0,523.0 L570.0,527.0 L574.0,522.0 L578.0,518.0 L582.0,514.5 L586.0,510.5 L590.0,507.5 L593.3,506.7 L597.0,508.0 L601.0,511.0 L604.0,513.0 L607.0,513.5 L611.0,517.0 L615.0,522.0 L619.0,528.0 L623.0,534.0 L628.0,540.0 L633.0,545.0 L638.0,549.5 L643.0,553.0 L648.0,555.0 L655.0,556.0 L668.0,556.2" fill="none" stroke="#161616" stroke-width="2.9" stroke-linejoin="round" stroke-linecap="round"/>
<line x1="238.5" y1="186.7" x2="238.5" y2="563.4" stroke="#161616" stroke-width="3"/>
<line x1="222.6" y1="556.4" x2="683.9" y2="556.4" stroke="#161616" stroke-width="3"/>
<line x1="230.5" y1="556.4" x2="238.5" y2="556.4" stroke="#161616" stroke-width="2.6"/>
<line x1="230.5" y1="541.5" x2="238.5" y2="541.5" stroke="#161616" stroke-width="2.6"/>
<line x1="230.5" y1="526.6" x2="238.5" y2="526.6" stroke="#161616" stroke-width="2.6"/>
<line x1="230.5" y1="511.70000000000005" x2="238.5" y2="511.70000000000005" stroke="#161616" stroke-width="2.6"/>
<line x1="230.5" y1="496.80000000000007" x2="238.5" y2="496.80000000000007" stroke="#161616" stroke-width="2.6"/>
<line x1="230.5" y1="481.9000000000001" x2="238.5" y2="481.9000000000001" stroke="#161616" stroke-width="2.6"/>
<line x1="230.5" y1="467.0000000000001" x2="238.5" y2="467.0000000000001" stroke="#161616" stroke-width="2.6"/>
<line x1="230.5" y1="452.10000000000014" x2="238.5" y2="452.10000000000014" stroke="#161616" stroke-width="2.6"/>
<line x1="230.5" y1="437.20000000000016" x2="238.5" y2="437.20000000000016" stroke="#161616" stroke-width="2.6"/>
<line x1="230.5" y1="422.3000000000002" x2="238.5" y2="422.3000000000002" stroke="#161616" stroke-width="2.6"/>
<line x1="230.5" y1="407.4000000000002" x2="238.5" y2="407.4000000000002" stroke="#161616" stroke-width="2.6"/>
<line x1="230.5" y1="392.5000000000002" x2="238.5" y2="392.5000000000002" stroke="#161616" stroke-width="2.6"/>
<line x1="230.5" y1="377.60000000000025" x2="238.5" y2="377.60000000000025" stroke="#161616" stroke-width="2.6"/>
<line x1="230.5" y1="362.7000000000003" x2="238.5" y2="362.7000000000003" stroke="#161616" stroke-width="2.6"/>
<line x1="230.5" y1="347.8000000000003" x2="238.5" y2="347.8000000000003" stroke="#161616" stroke-width="2.6"/>
<line x1="230.5" y1="332.9000000000003" x2="238.5" y2="332.9000000000003" stroke="#161616" stroke-width="2.6"/>
<line x1="230.5" y1="318.00000000000034" x2="238.5" y2="318.00000000000034" stroke="#161616" stroke-width="2.6"/>
<line x1="230.5" y1="303.10000000000036" x2="238.5" y2="303.10000000000036" stroke="#161616" stroke-width="2.6"/>
<line x1="230.5" y1="288.2000000000004" x2="238.5" y2="288.2000000000004" stroke="#161616" stroke-width="2.6"/>
<line x1="230.5" y1="273.3000000000004" x2="238.5" y2="273.3000000000004" stroke="#161616" stroke-width="2.6"/>
<line x1="230.5" y1="258.40000000000043" x2="238.5" y2="258.40000000000043" stroke="#161616" stroke-width="2.6"/>
<line x1="230.5" y1="243.50000000000043" x2="238.5" y2="243.50000000000043" stroke="#161616" stroke-width="2.6"/>
<line x1="230.5" y1="228.60000000000042" x2="238.5" y2="228.60000000000042" stroke="#161616" stroke-width="2.6"/>
<line x1="230.5" y1="213.70000000000041" x2="238.5" y2="213.70000000000041" stroke="#161616" stroke-width="2.6"/>
<line x1="230.5" y1="198.8000000000004" x2="238.5" y2="198.8000000000004" stroke="#161616" stroke-width="2.6"/>
<line x1="223.5" y1="556.4" x2="238.5" y2="556.4" stroke="#161616" stroke-width="2.8"/>
<text x="215.5" y="556.4" font-family="'Liberation Sans', sans-serif" font-size="8.5" text-anchor="middle" fill="#222" transform="rotate(-90 215.5 556.4)">0</text>
<line x1="223.5" y1="481.9" x2="238.5" y2="481.9" stroke="#161616" stroke-width="2.8"/>
<text x="215.5" y="481.9" font-family="'Liberation Sans', sans-serif" font-size="8.5" text-anchor="middle" fill="#222" transform="rotate(-90 215.5 481.9)">300</text>
<line x1="223.5" y1="407.4" x2="238.5" y2="407.4" stroke="#161616" stroke-width="2.8"/>
<text x="215.5" y="407.4" font-family="'Liberation Sans', sans-serif" font-size="8.5" text-anchor="middle" fill="#222" transform="rotate(-90 215.5 407.4)">600</text>
<line x1="223.5" y1="332.9" x2="238.5" y2="332.9" stroke="#161616" stroke-width="2.8"/>
<text x="215.5" y="332.9" font-family="'Liberation Sans', sans-serif" font-size="8.5" text-anchor="middle" fill="#222" transform="rotate(-90 215.5 332.9)">900</text>
<line x1="223.5" y1="258.4" x2="238.5" y2="258.4" stroke="#161616" stroke-width="2.8"/>
<text x="215.5" y="258.4" font-family="'Liberation Sans', sans-serif" font-size="8.5" text-anchor="middle" fill="#222" transform="rotate(-90 215.5 258.4)">1200</text>
<line x1="238.5" y1="556.4" x2="238.5" y2="562.9" stroke="#161616" stroke-width="2.6"/>
<line x1="262.94" y1="556.4" x2="262.94" y2="562.9" stroke="#161616" stroke-width="2.6"/>
<line x1="287.38" y1="556.4" x2="287.38" y2="562.9" stroke="#161616" stroke-width="2.6"/>
<line x1="311.82" y1="556.4" x2="311.82" y2="562.9" stroke="#161616" stroke-width="2.6"/>
<line x1="336.26" y1="556.4" x2="336.26" y2="562.9" stroke="#161616" stroke-width="2.6"/>
<line x1="360.7" y1="556.4" x2="360.7" y2="562.9" stroke="#161616" stroke-width="2.6"/>
<line x1="385.14" y1="556.4" x2="385.14" y2="562.9" stroke="#161616" stroke-width="2.6"/>
<line x1="409.58" y1="556.4" x2="409.58" y2="562.9" stroke="#161616" stroke-width="2.6"/>
<line x1="434.02" y1="556.4" x2="434.02" y2="562.9" stroke="#161616" stroke-width="2.6"/>
<line x1="458.46" y1="556.4" x2="458.46" y2="562.9" stroke="#161616" stroke-width="2.6"/>
<line x1="482.9" y1="556.4" x2="482.9" y2="562.9" stroke="#161616" stroke-width="2.6"/>
<line x1="507.34" y1="556.4" x2="507.34" y2="562.9" stroke="#161616" stroke-width="2.6"/>
<line x1="531.78" y1="556.4" x2="531.78" y2="562.9" stroke="#161616" stroke-width="2.6"/>
<line x1="556.22" y1="556.4" x2="556.22" y2="562.9" stroke="#161616" stroke-width="2.6"/>
<line x1="580.6600000000001" y1="556.4" x2="580.6600000000001" y2="562.9" stroke="#161616" stroke-width="2.6"/>
<line x1="605.1000000000001" y1="556.4" x2="605.1000000000001" y2="562.9" stroke="#161616" stroke-width="2.6"/>
<line x1="629.5400000000002" y1="556.4" x2="629.5400000000002" y2="562.9" stroke="#161616" stroke-width="2.6"/>
<line x1="653.9800000000002" y1="556.4" x2="653.9800000000002" y2="562.9" stroke="#161616" stroke-width="2.6"/>
<line x1="678.4200000000003" y1="556.4" x2="678.4200000000003" y2="562.9" stroke="#161616" stroke-width="2.6"/>
<line x1="238.5" y1="556.4" x2="238.5" y2="564.4" stroke="#161616" stroke-width="3"/>
<text x="237.5" y="575.4" font-family="'Liberation Sans', sans-serif" font-size="8.5" text-anchor="middle" fill="#222">0</text>
<line x1="360.7" y1="556.4" x2="360.7" y2="564.4" stroke="#161616" stroke-width="3"/>
<text x="359.7" y="575.4" font-family="'Liberation Sans', sans-serif" font-size="8.5" text-anchor="middle" fill="#222">40</text>
<line x1="482.9" y1="556.4" x2="482.9" y2="564.4" stroke="#161616" stroke-width="3"/>
<text x="481.9" y="575.4" font-family="'Liberation Sans', sans-serif" font-size="8.5" text-anchor="middle" fill="#222">80</text>
<line x1="605.1" y1="556.4" x2="605.1" y2="564.4" stroke="#161616" stroke-width="3"/>
<text x="604.1" y="575.4" font-family="'Liberation Sans', sans-serif" font-size="8.5" text-anchor="middle" fill="#222">120</text>
<text x="197" y="370" font-family="'Liberation Sans', sans-serif" font-size="13" text-anchor="middle" fill="#111" font-weight="bold" transform="rotate(-90 197 370)" textLength="49" lengthAdjust="spacingAndGlyphs">Number</text>
<text x="543" y="593" font-family="'Liberation Sans', sans-serif" font-size="12.5" text-anchor="middle" fill="#0c0c0c" font-weight="bold" textLength="140" lengthAdjust="spacingAndGlyphs">Channels (580/30[488])</text>
<path d="M895.0,555.3 L895.0,555.2 L896.0,555.1 L897.0,555.0 L898.0,554.9 L899.0,554.7 L900.0,554.5 L901.0,554.1 L902.0,553.7 L903.0,553.0 L904.0,552.2 L905.0,551.2 L906.0,549.9 L907.0,548.2 L908.0,546.3 L909.0,543.9 L910.0,541.1 L911.0,537.9 L912.0,534.3 L913.0,530.3 L914.0,525.9 L915.0,521.2 L916.0,516.2 L917.0,511.1 L918.0,505.8 L919.0,500.5 L920.0,495.4 L921.0,490.4 L922.0,485.7 L923.0,481.3 L924.0,477.3 L925.0,473.7 L926.0,470.5 L927.0,467.7 L928.0,465.3 L929.0,463.4 L930.0,461.7 L931.0,460.4 L932.0,459.4 L933.0,458.6 L934.0,457.9 L935.0,457.5 L936.0,457.1 L937.0,456.9 L938.0,456.7 L939.0,456.6 L940.0,456.5 L941.0,456.4 L942.0,456.4 L943.0,456.3 L944.0,456.3 L945.0,456.3 L946.0,456.3 L947.0,456.3 L948.0,456.3 L949.0,456.3 L950.0,456.3 L951.0,456.3 L952.0,456.3 L953.0,456.3 L954.0,456.3 L955.0,456.3 L956.0,456.3 L957.0,456.3 L958.0,456.3 L959.0,456.3 L960.0,456.3 L961.0,456.3 L962.0,456.3 L963.0,456.3 L964.0,456.3 L965.0,456.3 L966.0,456.3 L967.0,456.3 L968.0,456.3 L969.0,456.3 L970.0,456.3 L971.0,456.3 L972.0,456.3 L973.0,456.3 L974.0,456.3 L975.0,456.3 L976.0,456.3 L977.0,456.3 L978.0,456.3 L979.0,456.3 L980.0,456.3 L981.0,456.3 L982.0,456.3 L983.0,456.3 L984.0,456.3 L985.0,456.3 L986.0,456.3 L987.0,456.3 L988.0,456.3 L989.0,456.3 L990.0,456.3 L991.0,456.3 L992.0,456.3 L993.0,456.3 L994.0,456.3 L995.0,456.3 L996.0,456.3 L997.0,456.3 L998.0,456.3 L999.0,456.3 L1000.0,456.3 L1001.0,456.3 L1002.0,456.3 L1003.0,456.3 L1004.0,456.3 L1005.0,456.3 L1006.0,456.3 L1007.0,456.3 L1008.0,456.3 L1009.0,456.3 L1010.0,456.3 L1011.0,456.3 L1012.0,456.3 L1013.0,456.3 L1014.0,456.3 L1015.0,456.3 L1016.0,456.3 L1017.0,456.3 L1018.0,456.3 L1019.0,456.3 L1020.0,456.3 L1021.0,456.3 L1022.0,456.3 L1023.0,456.4 L1024.0,456.4 L1025.0,456.4 L1026.0,456.4 L1027.0,456.4 L1028.0,456.5 L1029.0,456.5 L1030.0,456.6 L1031.0,456.6 L1032.0,456.7 L1033.0,456.8 L1034.0,456.9 L1035.0,457.1 L1036.0,457.2 L1037.0,457.4 L1038.0,457.6 L1039.0,457.9 L1040.0,458.2 L1041.0,458.6 L1042.0,459.0 L1043.0,459.4 L1044.0,460.0 L1045.0,460.6 L1046.0,461.3 L1047.0,462.0 L1048.0,462.9 L1049.0,463.9 L1050.0,464.9 L1051.0,466.1 L1052.0,467.4 L1053.0,468.8 L1054.0,470.4 L1055.0,472.0 L1056.0,473.8 L1057.0,475.7 L1058.0,477.7 L1059.0,479.8 L1060.0,482.1 L1061.0,484.4 L1062.0,486.8 L1063.0,489.4 L1064.0,492.0 L1065.0,494.7 L1066.0,497.4 L1067.0,500.2 L1068.0,503.0 L1069.0,505.8 L1070.0,508.6 L1071.0,511.4 L1072.0,514.2 L1073.0,516.9 L1074.0,519.6 L1075.0,522.2 L1076.0,524.8 L1077.0,527.2 L1078.0,529.5 L1079.0,531.8 L1080.0,533.9 L1081.0,535.9 L1082.0,537.8 L1083.0,539.6 L1084.0,541.2 L1085.0,542.8 L1086.0,544.2 L1087.0,545.5 L1088.0,546.7 L1089.0,547.7 L1090.0,548.7 L1091.0,549.6 L1092.0,550.3 L1093.0,551.0 L1094.0,551.6 L1095.0,552.2 L1096.0,552.6 L1097.0,553.0 L1098.0,553.4 L1099.0,553.7 L1100.0,554.0 L1101.0,554.2 L1102.0,554.4 L1103.0,554.5 L1104.0,554.7 L1105.0,554.8 L1106.0,554.9 L1107.0,555.0 L1108.0,555.0 L1109.0,555.1 L1110.0,555.1 L1111.0,555.2 L1112.0,555.2 L1113.0,555.2 L1114.0,555.2 L1115.0,555.2 L1116.0,555.3 L1117.0,555.3 L1118.0,555.3 L1119.0,555.3 L1120.0,555.3 L1120.0,555.3 Z" fill="#f1f1f1"/>
<clipPath id="cS2"><path d="M895.0,555.3 L895.0,555.2 L896.0,555.1 L897.0,555.0 L898.0,554.9 L899.0,554.7 L900.0,554.5 L901.0,554.1 L902.0,553.7 L903.0,553.0 L904.0,552.2 L905.0,551.2 L906.0,549.9 L907.0,548.2 L908.0,546.3 L909.0,543.9 L910.0,541.1 L911.0,537.9 L912.0,534.3 L913.0,530.3 L914.0,525.9 L915.0,521.2 L916.0,516.2 L917.0,511.1 L918.0,505.8 L919.0,500.5 L920.0,495.4 L921.0,490.4 L922.0,485.7 L923.0,481.3 L924.0,477.3 L925.0,473.7 L926.0,470.5 L927.0,467.7 L928.0,465.3 L929.0,463.4 L930.0,461.7 L931.0,460.4 L932.0,459.4 L933.0,458.6 L934.0,457.9 L935.0,457.5 L936.0,457.1 L937.0,456.9 L938.0,456.7 L939.0,456.6 L940.0,456.5 L941.0,456.4 L942.0,456.4 L943.0,456.3 L944.0,456.3 L945.0,456.3 L946.0,456.3 L947.0,456.3 L948.0,456.3 L949.0,456.3 L950.0,456.3 L951.0,456.3 L952.0,456.3 L953.0,456.3 L954.0,456.3 L955.0,456.3 L956.0,456.3 L957.0,456.3 L958.0,456.3 L959.0,456.3 L960.0,456.3 L961.0,456.3 L962.0,456.3 L963.0,456.3 L964.0,456.3 L965.0,456.3 L966.0,456.3 L967.0,456.3 L968.0,456.3 L969.0,456.3 L970.0,456.3 L971.0,456.3 L972.0,456.3 L973.0,456.3 L974.0,456.3 L975.0,456.3 L976.0,456.3 L977.0,456.3 L978.0,456.3 L979.0,456.3 L980.0,456.3 L981.0,456.3 L982.0,456.3 L983.0,456.3 L984.0,456.3 L985.0,456.3 L986.0,456.3 L987.0,456.3 L988.0,456.3 L989.0,456.3 L990.0,456.3 L991.0,456.3 L992.0,456.3 L993.0,456.3 L994.0,456.3 L995.0,456.3 L996.0,456.3 L997.0,456.3 L998.0,456.3 L999.0,456.3 L1000.0,456.3 L1001.0,456.3 L1002.0,456.3 L1003.0,456.3 L1004.0,456.3 L1005.0,456.3 L1006.0,456.3 L1007.0,456.3 L1008.0,456.3 L1009.0,456.3 L1010.0,456.3 L1011.0,456.3 L1012.0,456.3 L1013.0,456.3 L1014.0,456.3 L1015.0,456.3 L1016.0,456.3 L1017.0,456.3 L1018.0,456.3 L1019.0,456.3 L1020.0,456.3 L1021.0,456.3 L1022.0,456.3 L1023.0,456.4 L1024.0,456.4 L1025.0,456.4 L1026.0,456.4 L1027.0,456.4 L1028.0,456.5 L1029.0,456.5 L1030.0,456.6 L1031.0,456.6 L1032.0,456.7 L1033.0,456.8 L1034.0,456.9 L1035.0,457.1 L1036.0,457.2 L1037.0,457.4 L1038.0,457.6 L1039.0,457.9 L1040.0,458.2 L1041.0,458.6 L1042.0,459.0 L1043.0,459.4 L1044.0,460.0 L1045.0,460.6 L1046.0,461.3 L1047.0,462.0 L1048.0,462.9 L1049.0,463.9 L1050.0,464.9 L1051.0,466.1 L1052.0,467.4 L1053.0,468.8 L1054.0,470.4 L1055.0,472.0 L1056.0,473.8 L1057.0,475.7 L1058.0,477.7 L1059.0,479.8 L1060.0,482.1 L1061.0,484.4 L1062.0,486.8 L1063.0,489.4 L1064.0,492.0 L1065.0,494.7 L1066.0,497.4 L1067.0,500.2 L1068.0,503.0 L1069.0,505.8 L1070.0,508.6 L1071.0,511.4 L1072.0,514.2 L1073.0,516.9 L1074.0,519.6 L1075.0,522.2 L1076.0,524.8 L1077.0,527.2 L1078.0,529.5 L1079.0,531.8 L1080.0,533.9 L1081.0,535.9 L1082.0,537.8 L1083.0,539.6 L1084.0,541.2 L1085.0,542.8 L1086.0,544.2 L1087.0,545.5 L1088.0,546.7 L1089.0,547.7 L1090.0,548.7 L1091.0,549.6 L1092.0,550.3 L1093.0,551.0 L1094.0,551.6 L1095.0,552.2 L1096.0,552.6 L1097.0,553.0 L1098.0,553.4 L1099.0,553.7 L1100.0,554.0 L1101.0,554.2 L1102.0,554.4 L1103.0,554.5 L1104.0,554.7 L1105.0,554.8 L1106.0,554.9 L1107.0,555.0 L1108.0,555.0 L1109.0,555.1 L1110.0,555.1 L1111.0,555.2 L1112.0,555.2 L1113.0,555.2 L1114.0,555.2 L1115.0,555.2 L1116.0,555.3 L1117.0,555.3 L1118.0,555.3 L1119.0,555.3 L1120.0,555.3 L1120.0,555.3 Z"/></clipPath>
<path d="M950,555.3 L958,555.3 L958,455.29999999999995 L950,455.29999999999995 Z" fill="#fafafa" opacity="0.9" clip-path="url(#cS2)"/>
<path d="M972,555.3 L980,555.3 L980,455.29999999999995 L972,455.29999999999995 Z" fill="#fafafa" opacity="0.9" clip-path="url(#cS2)"/>
<path d="M994,555.3 L1002,555.3 L1002,455.29999999999995 L994,455.29999999999995 Z" fill="#fafafa" opacity="0.9" clip-path="url(#cS2)"/>
<path d="M1016,555.3 L1024,555.3 L1024,455.29999999999995 L1016,455.29999999999995 Z" fill="#fafafa" opacity="0.9" clip-path="url(#cS2)"/>
<path d="M1038,555.3 L1046,555.3 L1046,455.29999999999995 L1038,455.29999999999995 Z" fill="#fafafa" opacity="0.9" clip-path="url(#cS2)"/>
<path d="M1060,555.3 L1068,555.3 L1068,455.29999999999995 L1060,455.29999999999995 Z" fill="#fafafa" opacity="0.9" clip-path="url(#cS2)"/>
<path d="M1082,555.3 L1090,555.3 L1090,455.29999999999995 L1082,455.29999999999995 Z" fill="#fafafa" opacity="0.9" clip-path="url(#cS2)"/>
<path d="M878.5,555.3 L878.5,555.3 L879.2,554.1 L882.1,546.7 L884.5,528.0 L886.7,501.3 L892.0,437.3 L897.3,376.0 L902.0,325.0 L906.0,298.0 L908.7,285.0 L910.7,277.3 L912.0,279.0 L913.3,285.3 L915.3,296.0 L917.3,309.3 L919.3,329.0 L921.3,352.0 L923.3,375.0 L925.3,400.0 L927.3,427.0 L929.3,453.3 L931.3,474.0 L933.3,493.3 L935.3,510.0 L937.3,525.3 L939.3,536.0 L941.3,544.0 L943.3,550.5 L945.3,554.7 L947.0,555.3 L947.0,555.3 Z" fill="#2b2b2b"/>
<path d="M895.0,555.3 L895.0,555.2 L896.0,555.1 L897.0,555.0 L898.0,554.9 L899.0,554.7 L900.0,554.5 L901.0,554.1 L902.0,553.7 L903.0,553.0 L904.0,552.2 L905.0,551.2 L906.0,549.9 L907.0,548.2 L908.0,546.3 L909.0,543.9 L910.0,541.1 L911.0,537.9 L912.0,534.3 L913.0,530.3 L914.0,525.9 L915.0,521.2 L916.0,516.2 L917.0,511.1 L918.0,505.8 L919.0,500.5 L920.0,495.4 L921.0,490.4 L922.0,485.7 L923.0,481.3 L924.0,477.3 L925.0,473.7 L926.0,470.5 L927.0,467.7 L928.0,465.3 L929.0,463.4 L930.0,461.7 L931.0,470.9 L932.0,480.8 L933.0,490.4 L934.0,499.1 L935.0,507.5 L936.0,515.4 L937.0,523.0 L938.0,529.0 L939.0,534.4 L940.0,538.8 L941.0,542.8 L942.0,546.3 L943.0,549.5 L944.0,552.0 L945.0,554.1 L946.0,554.9 L947.0,555.3 L947.0,555.3 Z" fill="#0c0c0c"/>
<path d="M929.0,463.4 L930.0,461.7 L931.0,460.4 L932.0,459.4 L933.0,458.6 L934.0,457.9 L935.0,457.5 L936.0,457.1 L937.0,456.9 L938.0,456.7 L939.0,456.6 L940.0,456.5 L941.0,456.4 L942.0,456.4 L943.0,456.3 L944.0,456.3 L945.0,456.3 L946.0,456.3 L947.0,456.3 L948.0,456.3 L949.0,456.3 L950.0,456.3 L951.0,456.3 L952.0,456.3 L953.0,456.3 L954.0,456.3 L955.0,456.3 L956.0,456.3 L957.0,456.3 L958.0,456.3 L959.0,456.3 L960.0,456.3 L961.0,456.3 L962.0,456.3 L963.0,456.3 L964.0,456.3 L965.0,456.3 L966.0,456.3 L967.0,456.3 L968.0,456.3 L969.0,456.3 L970.0,456.3 L971.0,456.3 L972.0,456.3 L973.0,456.3 L974.0,456.3 L975.0,456.3 L976.0,456.3 L977.0,456.3 L978.0,456.3 L979.0,456.3 L980.0,456.3 L981.0,456.3 L982.0,456.3 L983.0,456.3 L984.0,456.3 L985.0,456.3 L986.0,456.3 L987.0,456.3 L988.0,456.3 L989.0,456.3 L990.0,456.3 L991.0,456.3 L992.0,456.3 L993.0,456.3 L994.0,456.3 L995.0,456.3 L996.0,456.3 L997.0,456.3 L998.0,456.3 L999.0,456.3 L1000.0,456.3 L1001.0,456.3 L1002.0,456.3 L1003.0,456.3 L1004.0,456.3 L1005.0,456.3 L1006.0,456.3 L1007.0,456.3 L1008.0,456.3 L1009.0,456.3 L1010.0,456.3 L1011.0,456.3 L1012.0,456.3 L1013.0,456.3 L1014.0,456.3 L1015.0,456.3 L1016.0,456.3 L1017.0,456.3 L1018.0,456.3 L1019.0,456.3 L1020.0,456.3 L1021.0,456.3 L1022.0,456.3 L1023.0,456.4 L1024.0,456.4 L1025.0,456.4 L1026.0,456.4 L1027.0,456.4 L1028.0,456.5 L1029.0,456.5 L1030.0,456.6 L1031.0,456.6 L1032.0,456.7 L1033.0,456.8 L1034.0,456.9 L1035.0,457.1 L1036.0,457.2 L1037.0,457.4 L1038.0,457.6 L1039.0,457.9 L1040.0,458.2 L1041.0,458.6 L1042.0,459.0 L1043.0,459.4 L1044.0,460.0 L1045.0,460.6 L1046.0,461.3 L1047.0,462.0 L1048.0,462.9 L1049.0,463.9 L1050.0,464.9 L1051.0,466.1 L1052.0,467.4 L1053.0,468.8 L1054.0,470.4 L1055.0,472.0 L1056.0,473.8 L1057.0,475.7 L1058.0,477.7 L1059.0,479.8 L1060.0,482.1 L1061.0,484.4 L1062.0,486.8 L1063.0,489.4 L1064.0,492.0 L1065.0,494.7 L1066.0,497.4 L1067.0,500.2 L1068.0,503.0 L1069.0,505.8 L1070.0,508.6 L1071.0,511.4 L1072.0,514.2 L1073.0,516.9 L1074.0,519.6 L1075.0,522.2 L1076.0,524.8 L1077.0,527.2 L1078.0,529.5 L1079.0,531.8 L1080.0,533.9 L1081.0,535.9 L1082.0,537.8 L1083.0,539.6 L1084.0,541.2 L1085.0,542.8 L1086.0,544.2 L1087.0,545.5 L1088.0,546.7 L1089.0,547.7 L1090.0,548.7 L1091.0,549.6 L1092.0,550.3 L1093.0,551.0 L1094.0,551.6 L1095.0,552.2 L1096.0,552.6 L1097.0,553.0 L1098.0,553.4 L1099.0,553.7 L1100.0,554.0 L1101.0,554.2 L1102.0,554.4 L1103.0,554.5 L1104.0,554.7 L1105.0,554.8 L1106.0,554.9 L1107.0,555.0 L1108.0,555.0 L1109.0,555.1 L1110.0,555.1 L1111.0,555.2 L1112.0,555.2 L1113.0,555.2 L1114.0,555.2" fill="none" stroke="#666" stroke-width="1.2" stroke-linejoin="round" stroke-linecap="round" stroke-dasharray="6 3"/>
<path d="M913.5,197.0 L916.0,215.0 L918.5,243.0 L921.0,280.0 L923.5,318.0 L926.0,356.0 L928.5,392.0 L931.0,418.0 L934.0,437.0 L937.0,447.0 L941.0,453.0 L946.0,456.0" fill="none" stroke="#555" stroke-width="1.1" stroke-linejoin="round" stroke-linecap="round"/>
<path d="M820.0,555.0 L840.0,554.5 L852.0,553.5 L858.0,554.0 L866.0,552.5 L873.0,552.8 L877.0,553.0 L879.2,554.1 L882.1,546.7 L884.5,528.0 L886.7,501.3 L892.0,437.3 L897.3,376.0 L902.7,314.7 L907.5,258.7 L910.7,216.0 L913.3,185.4 L914.5,186.0 L915.6,193.0 L916.8,205.0 L918.5,225.0 L921.3,250.0 L923.3,275.0 L925.3,300.0 L927.3,330.0 L929.3,358.0 L932.0,394.0 L933.3,400.0 L934.5,392.0 L935.8,404.0 L937.3,408.0 L938.5,402.0 L940.0,416.0 L941.3,420.0 L943.0,413.0 L944.6,418.0 L946.0,428.0 L947.5,424.0 L949.0,420.0 L950.5,432.0 L952.0,436.0 L954.0,430.0 L956.0,440.0 L958.0,444.0 L960.0,441.0 L962.0,447.0 L964.0,449.0 L967.0,447.0 L970.0,452.0 L972.0,450.0 L973.5,436.0 L974.5,431.0 L976.0,450.0 L977.6,466.0 L979.0,455.0 L981.0,450.0 L983.0,456.0 L985.0,459.0 L987.0,462.0 L989.0,470.0 L991.0,460.0 L993.0,458.0 L995.0,464.0 L997.0,459.0 L999.0,457.0 L1001.0,462.0 L1003.0,458.0 L1005.0,461.0 L1007.0,457.0 L1009.0,460.0 L1011.0,463.0 L1013.0,458.0 L1015.0,457.0 L1017.0,461.0 L1019.0,466.0 L1021.0,459.0 L1022.5,458.0 L1024.0,470.0 L1026.0,476.0 L1028.0,478.0 L1030.0,473.0 L1032.0,476.0 L1033.5,462.0 L1034.7,459.0 L1036.0,470.0 L1038.0,480.0 L1040.0,483.0 L1042.0,482.0 L1044.0,485.0 L1047.0,483.0 L1049.0,488.0 L1051.0,496.0 L1053.0,503.0 L1055.0,509.0 L1057.0,508.0 L1059.0,516.0 L1061.0,522.0 L1063.0,526.0 L1065.0,532.0 L1067.0,536.0 L1069.0,539.0 L1072.0,541.0 L1075.0,544.0 L1078.0,543.0 L1081.0,546.0 L1085.0,547.5 L1089.0,546.5 L1093.0,549.0 L1098.0,550.0 L1103.0,552.0 L1108.0,551.0 L1113.0,553.0 L1120.0,552.5 L1128.0,554.0 L1140.0,553.5 L1150.0,554.5 L1165.0,554.0 L1180.0,554.8 L1202.0,555.0" fill="none" stroke="#161616" stroke-width="2.9" stroke-linejoin="round" stroke-linecap="round"/>
<line x1="755.7" y1="182" x2="755.7" y2="562.3" stroke="#161616" stroke-width="3"/>
<line x1="724.5" y1="555.3" x2="1202.9" y2="555.3" stroke="#161616" stroke-width="3"/>
<line x1="747.7" y1="555.3" x2="755.7" y2="555.3" stroke="#161616" stroke-width="2.6"/>
<line x1="747.7" y1="536.54" x2="755.7" y2="536.54" stroke="#161616" stroke-width="2.6"/>
<line x1="747.7" y1="517.78" x2="755.7" y2="517.78" stroke="#161616" stroke-width="2.6"/>
<line x1="747.7" y1="499.02" x2="755.7" y2="499.02" stroke="#161616" stroke-width="2.6"/>
<line x1="747.7" y1="480.26" x2="755.7" y2="480.26" stroke="#161616" stroke-width="2.6"/>
<line x1="747.7" y1="461.5" x2="755.7" y2="461.5" stroke="#161616" stroke-width="2.6"/>
<line x1="747.7" y1="442.74" x2="755.7" y2="442.74" stroke="#161616" stroke-width="2.6"/>
<line x1="747.7" y1="423.98" x2="755.7" y2="423.98" stroke="#161616" stroke-width="2.6"/>
<line x1="747.7" y1="405.22" x2="755.7" y2="405.22" stroke="#161616" stroke-width="2.6"/>
<line x1="747.7" y1="386.46000000000004" x2="755.7" y2="386.46000000000004" stroke="#161616" stroke-width="2.6"/>
<line x1="747.7" y1="367.70000000000005" x2="755.7" y2="367.70000000000005" stroke="#161616" stroke-width="2.6"/>
<line x1="747.7" y1="348.94000000000005" x2="755.7" y2="348.94000000000005" stroke="#161616" stroke-width="2.6"/>
<line x1="747.7" y1="330.18000000000006" x2="755.7" y2="330.18000000000006" stroke="#161616" stroke-width="2.6"/>
<line x1="747.7" y1="311.4200000000001" x2="755.7" y2="311.4200000000001" stroke="#161616" stroke-width="2.6"/>
<line x1="747.7" y1="292.6600000000001" x2="755.7" y2="292.6600000000001" stroke="#161616" stroke-width="2.6"/>
<line x1="747.7" y1="273.9000000000001" x2="755.7" y2="273.9000000000001" stroke="#161616" stroke-width="2.6"/>
<line x1="747.7" y1="255.1400000000001" x2="755.7" y2="255.1400000000001" stroke="#161616" stroke-width="2.6"/>
<line x1="747.7" y1="236.3800000000001" x2="755.7" y2="236.3800000000001" stroke="#161616" stroke-width="2.6"/>
<line x1="747.7" y1="217.62000000000012" x2="755.7" y2="217.62000000000012" stroke="#161616" stroke-width="2.6"/>
<line x1="747.7" y1="198.86000000000013" x2="755.7" y2="198.86000000000013" stroke="#161616" stroke-width="2.6"/>
<line x1="740.7" y1="555.3" x2="755.7" y2="555.3" stroke="#161616" stroke-width="2.8"/>
<text x="732.7" y="555.3" font-family="'Liberation Sans', sans-serif" font-size="8.5" text-anchor="middle" fill="#222" transform="rotate(-90 732.7 555.3)">0</text>
<line x1="740.7" y1="461.5" x2="755.7" y2="461.5" stroke="#161616" stroke-width="2.8"/>
<text x="732.7" y="461.5" font-family="'Liberation Sans', sans-serif" font-size="8.5" text-anchor="middle" fill="#222" transform="rotate(-90 732.7 461.5)">200</text>
<line x1="740.7" y1="367.7" x2="755.7" y2="367.7" stroke="#161616" stroke-width="2.8"/>
<text x="732.7" y="367.7" font-family="'Liberation Sans', sans-serif" font-size="8.5" text-anchor="middle" fill="#222" transform="rotate(-90 732.7 367.7)">400</text>
<line x1="740.7" y1="273.9" x2="755.7" y2="273.9" stroke="#161616" stroke-width="2.8"/>
<text x="732.7" y="273.9" font-family="'Liberation Sans', sans-serif" font-size="8.5" text-anchor="middle" fill="#222" transform="rotate(-90 732.7 273.9)">600</text>
<line x1="755.7" y1="555.3" x2="755.7" y2="561.8" stroke="#161616" stroke-width="2.6"/>
<line x1="780.46" y1="555.3" x2="780.46" y2="561.8" stroke="#161616" stroke-width="2.6"/>
<line x1="805.22" y1="555.3" x2="805.22" y2="561.8" stroke="#161616" stroke-width="2.6"/>
<line x1="829.98" y1="555.3" x2="829.98" y2="561.8" stroke="#161616" stroke-width="2.6"/>
<line x1="854.74" y1="555.3" x2="854.74" y2="561.8" stroke="#161616" stroke-width="2.6"/>
<line x1="879.5" y1="555.3" x2="879.5" y2="561.8" stroke="#161616" stroke-width="2.6"/>
<line x1="904.26" y1="555.3" x2="904.26" y2="561.8" stroke="#161616" stroke-width="2.6"/>
<line x1="929.02" y1="555.3" x2="929.02" y2="561.8" stroke="#161616" stroke-width="2.6"/>
<line x1="953.78" y1="555.3" x2="953.78" y2="561.8" stroke="#161616" stroke-width="2.6"/>
<line x1="978.54" y1="555.3" x2="978.54" y2="561.8" stroke="#161616" stroke-width="2.6"/>
<line x1="1003.3" y1="555.3" x2="1003.3" y2="561.8" stroke="#161616" stroke-width="2.6"/>
<line x1="1028.06" y1="555.3" x2="1028.06" y2="561.8" stroke="#161616" stroke-width="2.6"/>
<line x1="1052.82" y1="555.3" x2="1052.82" y2="561.8" stroke="#161616" stroke-width="2.6"/>
<line x1="1077.58" y1="555.3" x2="1077.58" y2="561.8" stroke="#161616" stroke-width="2.6"/>
<line x1="1102.34" y1="555.3" x2="1102.34" y2="561.8" stroke="#161616" stroke-width="2.6"/>
<line x1="1127.1" y1="555.3" x2="1127.1" y2="561.8" stroke="#161616" stroke-width="2.6"/>
<line x1="1151.86" y1="555.3" x2="1151.86" y2="561.8" stroke="#161616" stroke-width="2.6"/>
<line x1="1176.62" y1="555.3" x2="1176.62" y2="561.8" stroke="#161616" stroke-width="2.6"/>
<line x1="1201.3799999999999" y1="555.3" x2="1201.3799999999999" y2="561.8" stroke="#161616" stroke-width="2.6"/>
<line x1="755.7" y1="555.3" x2="755.7" y2="563.3" stroke="#161616" stroke-width="3"/>
<text x="754.7" y="574.3" font-family="'Liberation Sans', sans-serif" font-size="8.5" text-anchor="middle" fill="#222">0</text>
<line x1="879.5" y1="555.3" x2="879.5" y2="563.3" stroke="#161616" stroke-width="3"/>
<text x="878.5" y="574.3" font-family="'Liberation Sans', sans-serif" font-size="8.5" text-anchor="middle" fill="#222">50</text>
<line x1="1003.3" y1="555.3" x2="1003.3" y2="563.3" stroke="#161616" stroke-width="3"/>
<text x="1002.3" y="574.3" font-family="'Liberation Sans', sans-serif" font-size="8.5" text-anchor="middle" fill="#222">100</text>
<line x1="1127.1" y1="555.3" x2="1127.1" y2="563.3" stroke="#161616" stroke-width="3"/>
<text x="1126.1" y="574.3" font-family="'Liberation Sans', sans-serif" font-size="8.5" text-anchor="middle" fill="#222">150</text>
<text x="714" y="367" font-family="'Liberation Sans', sans-serif" font-size="13" text-anchor="middle" fill="#111" font-weight="bold" transform="rotate(-90 714 367)" textLength="49" lengthAdjust="spacingAndGlyphs">Number</text>
<text x="1051" y="591" font-family="'Liberation Sans', sans-serif" font-size="12.5" text-anchor="middle" fill="#0c0c0c" font-weight="bold" textLength="140" lengthAdjust="spacingAndGlyphs">Channels (580/30[488])</text>
<path d="M340.0,1010.8 L340.0,1010.7 L341.0,1010.7 L342.0,1010.7 L343.0,1010.6 L344.0,1010.4 L345.0,1010.2 L346.0,1009.9 L347.0,1009.5 L348.0,1009.0 L349.0,1008.3 L350.0,1007.3 L351.0,1006.2 L352.0,1004.8 L353.0,1003.1 L354.0,1001.2 L355.0,999.1 L356.0,996.8 L357.0,994.3 L358.0,991.8 L359.0,989.3 L360.0,986.8 L361.0,984.5 L362.0,982.4 L363.0,980.5 L364.0,978.8 L365.0,977.4 L366.0,976.3 L367.0,975.3 L368.0,974.6 L369.0,974.1 L370.0,973.7 L371.0,973.4 L372.0,973.2 L373.0,973.0 L374.0,972.9 L375.0,972.9 L376.0,972.9 L377.0,972.8 L378.0,972.8 L379.0,972.8 L380.0,972.8 L381.0,972.9 L382.0,973.0 L383.0,973.2 L384.0,973.3 L385.0,973.4 L386.0,973.5 L387.0,973.6 L388.0,973.8 L389.0,973.9 L390.0,974.0 L391.0,974.1 L392.0,974.2 L393.0,974.4 L394.0,974.5 L395.0,974.6 L396.0,974.7 L397.0,974.8 L398.0,975.0 L399.0,975.1 L400.0,975.2 L401.0,975.3 L402.0,975.4 L403.0,975.6 L404.0,975.7 L405.0,975.8 L406.0,975.9 L407.0,976.1 L408.0,976.2 L409.0,976.3 L410.0,976.4 L411.0,976.6 L412.0,976.7 L413.0,976.8 L414.0,977.0 L415.0,977.1 L416.0,977.2 L417.0,977.4 L418.0,977.6 L419.0,977.7 L420.0,977.9 L421.0,978.1 L422.0,978.3 L423.0,978.6 L424.0,978.8 L425.0,979.1 L426.0,979.4 L427.0,979.7 L428.0,980.1 L429.0,980.5 L430.0,980.9 L431.0,981.4 L432.0,981.9 L433.0,982.5 L434.0,983.1 L435.0,983.8 L436.0,984.5 L437.0,985.2 L438.0,986.0 L439.0,986.9 L440.0,987.8 L441.0,988.7 L442.0,989.7 L443.0,990.7 L444.0,991.7 L445.0,992.7 L446.0,993.8 L447.0,994.8 L448.0,995.9 L449.0,996.9 L450.0,998.0 L451.0,999.0 L452.0,1000.0 L453.0,1000.9 L454.0,1001.8 L455.0,1002.7 L456.0,1003.5 L457.0,1004.3 L458.0,1005.0 L459.0,1005.7 L460.0,1006.3 L461.0,1006.9 L462.0,1007.4 L463.0,1007.8 L464.0,1008.3 L465.0,1008.6 L466.0,1009.0 L467.0,1009.2 L468.0,1009.5 L469.0,1009.7 L470.0,1009.9 L470.0,1010.8 Z" fill="#f6f6f6"/>
<path d="M330.0,1010.8 L330.0,1010.8 L333.3,1009.5 L335.5,1005.0 L337.3,998.7 L338.5,989.0 L339.5,974.7 L340.4,953.0 L341.3,926.7 L342.4,880.0 L343.5,833.3 L344.7,806.0 L345.9,780.0 L347.2,753.0 L348.5,726.7 L349.9,706.0 L351.2,689.3 L352.7,676.0 L354.1,667.5 L355.6,683.0 L357.3,708.0 L359.3,744.0 L361.3,780.0 L363.0,810.0 L364.5,838.7 L365.6,862.0 L366.7,886.7 L368.3,915.0 L369.9,940.0 L371.2,958.0 L372.5,974.7 L373.8,986.0 L375.2,996.0 L377.0,1005.0 L378.7,1009.5 L381.0,1010.8 L381.0,1010.8 Z" fill="#2b2b2b"/>
<path d="M340.0,1010.8 L340.0,1010.7 L341.0,1010.7 L342.0,1010.7 L343.0,1010.6 L344.0,1010.4 L345.0,1010.2 L346.0,1009.9 L347.0,1009.5 L348.0,1009.0 L349.0,1008.3 L350.0,1007.3 L351.0,1006.2 L352.0,1004.8 L353.0,1003.1 L354.0,1001.2 L355.0,999.1 L356.0,996.8 L357.0,994.3 L358.0,991.8 L359.0,989.3 L360.0,986.8 L361.0,984.5 L362.0,982.4 L363.0,980.5 L364.0,978.8 L365.0,977.4 L366.0,976.3 L367.0,975.3 L368.0,974.6 L369.0,974.1 L370.0,973.7 L371.0,973.4 L372.0,973.2 L373.0,979.0 L374.0,987.4 L375.0,994.6 L376.0,1000.0 L377.0,1005.0 L378.0,1007.6 L379.0,1009.7 L380.0,1010.2 L381.0,1010.8 L381.0,1010.8 Z" fill="#0c0c0c"/>
<path d="M369.0,974.1 L370.0,973.7 L371.0,973.4 L372.0,973.2 L373.0,973.0 L374.0,972.9 L375.0,972.9 L376.0,972.9 L377.0,972.8 L378.0,972.8 L379.0,972.8 L380.0,972.8 L381.0,972.9 L382.0,973.0 L383.0,973.2 L384.0,973.3 L385.0,973.4 L386.0,973.5 L387.0,973.6 L388.0,973.8 L389.0,973.9 L390.0,974.0 L391.0,974.1 L392.0,974.2 L393.0,974.4 L394.0,974.5 L395.0,974.6 L396.0,974.7 L397.0,974.8 L398.0,975.0 L399.0,975.1 L400.0,975.2 L401.0,975.3 L402.0,975.4 L403.0,975.6 L404.0,975.7 L405.0,975.8 L406.0,975.9 L407.0,976.1 L408.0,976.2 L409.0,976.3 L410.0,976.4 L411.0,976.6 L412.0,976.7 L413.0,976.8 L414.0,977.0 L415.0,977.1 L416.0,977.2 L417.0,977.4 L418.0,977.6 L419.0,977.7 L420.0,977.9 L421.0,978.1 L422.0,978.3 L423.0,978.6 L424.0,978.8 L425.0,979.1 L426.0,979.4 L427.0,979.7 L428.0,980.1 L429.0,980.5 L430.0,980.9 L431.0,981.4 L432.0,981.9 L433.0,982.5 L434.0,983.1 L435.0,983.8 L436.0,984.5 L437.0,985.2 L438.0,986.0 L439.0,986.9 L440.0,987.8 L441.0,988.7 L442.0,989.7 L443.0,990.7 L444.0,991.7 L445.0,992.7 L446.0,993.8 L447.0,994.8 L448.0,995.9 L449.0,996.9 L450.0,998.0 L451.0,999.0 L452.0,1000.0 L453.0,1000.9 L454.0,1001.8 L455.0,1002.7 L456.0,1003.5 L457.0,1004.3 L458.0,1005.0 L459.0,1005.7 L460.0,1006.3 L461.0,1006.9 L462.0,1007.4 L463.0,1007.8 L464.0,1008.3 L465.0,1008.6 L466.0,1009.0 L467.0,1009.2 L468.0,1009.5 L469.0,1009.7 L470.0,1009.9" fill="none" stroke="#888" stroke-width="1.1" stroke-linejoin="round" stroke-linecap="round" stroke-dasharray="5 3"/>
<path d="M419.0,1010.8 L419.0,1010.8 L425.0,1009.5 L430.0,1008.0 L438.0,1002.0 L446.0,993.0 L452.0,986.0 L457.0,981.5 L461.5,979.4 L466.0,981.5 L472.0,988.0 L479.0,996.0 L487.0,1003.0 L494.0,1008.0 L499.0,1010.0 L503.0,1010.8 L503.0,1010.8 Z" fill="#2e2e2e"/>
<path d="M419.0,1010.8 L419.0,1010.8 L425.0,1009.5 L430.0,1008.0 L438.0,1002.0 L446.0,993.0 L452.0,986.0 L457.0,981.5 L461.5,979.4 L465.0,982.5 L469.0,989.0 L473.0,997.0 L477.0,1004.0 L481.0,1009.0 L484.0,1010.8 L484.0,1010.8 Z" fill="#0a0a0a"/>
<path d="M310.0,1010.5 L322.0,1010.0 L329.0,1008.0 L330.0,1009.8 L333.3,1008.5 L335.5,1004.0 L337.3,997.7 L338.5,988.0 L339.5,973.7 L340.4,952.0 L341.3,925.7 L342.4,879.0 L343.5,832.3 L344.7,805.0 L345.9,779.0 L347.2,752.0 L348.5,725.7 L349.9,705.0 L351.2,688.3 L352.7,675.0 L354.1,666.5 L355.6,682.0 L357.3,707.0 L359.3,743.0 L361.3,778.0 L363.0,806.0 L364.5,832.0 L365.6,855.0 L366.7,902.0 L369.0,918.0 L372.0,934.0 L375.0,946.0 L378.5,956.0 L382.0,963.5 L386.0,969.0 L389.0,973.5 L392.0,974.9 L395.5,973.9 L399.0,976.9 L402.5,973.4 L406.0,976.2 L409.5,975.2 L413.0,973.3 L416.5,976.0 L420.0,973.2 L423.0,972.0 L427.0,966.0 L430.0,968.0 L433.0,958.0 L435.4,951.0 L437.0,951.0 L439.0,938.0 L442.0,930.0 L444.6,926.0 L447.0,927.0 L450.0,925.0 L453.0,927.0 L457.0,926.0 L459.0,934.0 L462.0,940.0 L465.0,946.0 L469.0,955.0 L473.0,965.0 L477.0,974.0 L481.0,983.0 L484.6,990.8 L488.0,994.0 L492.0,996.0 L497.0,997.0 L503.0,999.5 L510.0,999.0 L518.0,1000.5 L527.7,1000.0 L530.8,993.8 L535.0,995.0 L540.0,993.0 L546.0,994.5 L550.8,993.8 L554.0,997.0 L557.0,1000.0 L561.5,1001.5 L570.0,1002.0 L580.0,1004.0 L590.0,1003.5 L600.0,1005.5 L615.0,1006.0 L630.0,1007.5 L645.0,1008.0 L660.0,1009.0 L675.0,1009.5 L686.0,1010.0" fill="none" stroke="#161616" stroke-width="2.9" stroke-linejoin="round" stroke-linecap="round"/>
<line x1="242.5" y1="643" x2="242.5" y2="1017.8" stroke="#161616" stroke-width="3"/>
<line x1="226" y1="1010.8" x2="686" y2="1010.8" stroke="#161616" stroke-width="3"/>
<line x1="234.5" y1="1010.8" x2="242.5" y2="1010.8" stroke="#161616" stroke-width="2.6"/>
<line x1="234.5" y1="998.4599999999999" x2="242.5" y2="998.4599999999999" stroke="#161616" stroke-width="2.6"/>
<line x1="234.5" y1="986.1199999999999" x2="242.5" y2="986.1199999999999" stroke="#161616" stroke-width="2.6"/>
<line x1="234.5" y1="973.7799999999999" x2="242.5" y2="973.7799999999999" stroke="#161616" stroke-width="2.6"/>
<line x1="234.5" y1="961.4399999999998" x2="242.5" y2="961.4399999999998" stroke="#161616" stroke-width="2.6"/>
<line x1="234.5" y1="949.0999999999998" x2="242.5" y2="949.0999999999998" stroke="#161616" stroke-width="2.6"/>
<line x1="234.5" y1="936.7599999999998" x2="242.5" y2="936.7599999999998" stroke="#161616" stroke-width="2.6"/>
<line x1="234.5" y1="924.4199999999997" x2="242.5" y2="924.4199999999997" stroke="#161616" stroke-width="2.6"/>
<line x1="234.5" y1="912.0799999999997" x2="242.5" y2="912.0799999999997" stroke="#161616" stroke-width="2.6"/>
<line x1="234.5" y1="899.7399999999997" x2="242.5" y2="899.7399999999997" stroke="#161616" stroke-width="2.6"/>
<line x1="234.5" y1="887.3999999999996" x2="242.5" y2="887.3999999999996" stroke="#161616" stroke-width="2.6"/>
<line x1="234.5" y1="875.0599999999996" x2="242.5" y2="875.0599999999996" stroke="#161616" stroke-width="2.6"/>
<line x1="234.5" y1="862.7199999999996" x2="242.5" y2="862.7199999999996" stroke="#161616" stroke-width="2.6"/>
<line x1="234.5" y1="850.3799999999995" x2="242.5" y2="850.3799999999995" stroke="#161616" stroke-width="2.6"/>
<line x1="234.5" y1="838.0399999999995" x2="242.5" y2="838.0399999999995" stroke="#161616" stroke-width="2.6"/>
<line x1="234.5" y1="825.6999999999995" x2="242.5" y2="825.6999999999995" stroke="#161616" stroke-width="2.6"/>
<line x1="234.5" y1="813.3599999999994" x2="242.5" y2="813.3599999999994" stroke="#161616" stroke-width="2.6"/>
<line x1="234.5" y1="801.0199999999994" x2="242.5" y2="801.0199999999994" stroke="#161616" stroke-width="2.6"/>
<line x1="234.5" y1="788.6799999999994" x2="242.5" y2="788.6799999999994" stroke="#161616" stroke-width="2.6"/>
<line x1="234.5" y1="776.3399999999993" x2="242.5" y2="776.3399999999993" stroke="#161616" stroke-width="2.6"/>
<line x1="234.5" y1="763.9999999999993" x2="242.5" y2="763.9999999999993" stroke="#161616" stroke-width="2.6"/>
<line x1="234.5" y1="751.6599999999993" x2="242.5" y2="751.6599999999993" stroke="#161616" stroke-width="2.6"/>
<line x1="234.5" y1="739.3199999999993" x2="242.5" y2="739.3199999999993" stroke="#161616" stroke-width="2.6"/>
<line x1="234.5" y1="726.9799999999992" x2="242.5" y2="726.9799999999992" stroke="#161616" stroke-width="2.6"/>
<line x1="234.5" y1="714.6399999999992" x2="242.5" y2="714.6399999999992" stroke="#161616" stroke-width="2.6"/>
<line x1="234.5" y1="702.2999999999992" x2="242.5" y2="702.2999999999992" stroke="#161616" stroke-width="2.6"/>
<line x1="234.5" y1="689.9599999999991" x2="242.5" y2="689.9599999999991" stroke="#161616" stroke-width="2.6"/>
<line x1="234.5" y1="677.6199999999991" x2="242.5" y2="677.6199999999991" stroke="#161616" stroke-width="2.6"/>
<line x1="234.5" y1="665.2799999999991" x2="242.5" y2="665.2799999999991" stroke="#161616" stroke-width="2.6"/>
<line x1="234.5" y1="652.939999999999" x2="242.5" y2="652.939999999999" stroke="#161616" stroke-width="2.6"/>
<line x1="227.5" y1="1010.8" x2="242.5" y2="1010.8" stroke="#161616" stroke-width="2.8"/>
<text x="219.5" y="1010.8" font-family="'Liberation Sans', sans-serif" font-size="8.5" text-anchor="middle" fill="#222" transform="rotate(-90 219.5 1010.8)">0</text>
<line x1="227.5" y1="949.1" x2="242.5" y2="949.1" stroke="#161616" stroke-width="2.8"/>
<text x="219.5" y="949.1" font-family="'Liberation Sans', sans-serif" font-size="8.5" text-anchor="middle" fill="#222" transform="rotate(-90 219.5 949.1)">200</text>
<line x1="227.5" y1="887.4" x2="242.5" y2="887.4" stroke="#161616" stroke-width="2.8"/>
<text x="219.5" y="887.4" font-family="'Liberation Sans', sans-serif" font-size="8.5" text-anchor="middle" fill="#222" transform="rotate(-90 219.5 887.4)">400</text>
<line x1="227.5" y1="825.7" x2="242.5" y2="825.7" stroke="#161616" stroke-width="2.8"/>
<text x="219.5" y="825.7" font-family="'Liberation Sans', sans-serif" font-size="8.5" text-anchor="middle" fill="#222" transform="rotate(-90 219.5 825.7)">600</text>
<line x1="227.5" y1="764" x2="242.5" y2="764" stroke="#161616" stroke-width="2.8"/>
<text x="219.5" y="764" font-family="'Liberation Sans', sans-serif" font-size="8.5" text-anchor="middle" fill="#222" transform="rotate(-90 219.5 764)">800</text>
<line x1="227.5" y1="702.3" x2="242.5" y2="702.3" stroke="#161616" stroke-width="2.8"/>
<text x="219.5" y="702.3" font-family="'Liberation Sans', sans-serif" font-size="8.5" text-anchor="middle" fill="#222" transform="rotate(-90 219.5 702.3)">1000</text>
<line x1="242.5" y1="1010.8" x2="242.5" y2="1017.3" stroke="#161616" stroke-width="2.6"/>
<line x1="267.24" y1="1010.8" x2="267.24" y2="1017.3" stroke="#161616" stroke-width="2.6"/>
<line x1="291.98" y1="1010.8" x2="291.98" y2="1017.3" stroke="#161616" stroke-width="2.6"/>
<line x1="316.72" y1="1010.8" x2="316.72" y2="1017.3" stroke="#161616" stroke-width="2.6"/>
<line x1="341.46000000000004" y1="1010.8" x2="341.46000000000004" y2="1017.3" stroke="#161616" stroke-width="2.6"/>
<line x1="366.20000000000005" y1="1010.8" x2="366.20000000000005" y2="1017.3" stroke="#161616" stroke-width="2.6"/>
<line x1="390.94000000000005" y1="1010.8" x2="390.94000000000005" y2="1017.3" stroke="#161616" stroke-width="2.6"/>
<line x1="415.68000000000006" y1="1010.8" x2="415.68000000000006" y2="1017.3" stroke="#161616" stroke-width="2.6"/>
<line x1="440.4200000000001" y1="1010.8" x2="440.4200000000001" y2="1017.3" stroke="#161616" stroke-width="2.6"/>
<line x1="465.1600000000001" y1="1010.8" x2="465.1600000000001" y2="1017.3" stroke="#161616" stroke-width="2.6"/>
<line x1="489.9000000000001" y1="1010.8" x2="489.9000000000001" y2="1017.3" stroke="#161616" stroke-width="2.6"/>
<line x1="514.6400000000001" y1="1010.8" x2="514.6400000000001" y2="1017.3" stroke="#161616" stroke-width="2.6"/>
<line x1="539.3800000000001" y1="1010.8" x2="539.3800000000001" y2="1017.3" stroke="#161616" stroke-width="2.6"/>
<line x1="564.1200000000001" y1="1010.8" x2="564.1200000000001" y2="1017.3" stroke="#161616" stroke-width="2.6"/>
<line x1="588.8600000000001" y1="1010.8" x2="588.8600000000001" y2="1017.3" stroke="#161616" stroke-width="2.6"/>
<line x1="613.6000000000001" y1="1010.8" x2="613.6000000000001" y2="1017.3" stroke="#161616" stroke-width="2.6"/>
<line x1="638.3400000000001" y1="1010.8" x2="638.3400000000001" y2="1017.3" stroke="#161616" stroke-width="2.6"/>
<line x1="663.0800000000002" y1="1010.8" x2="663.0800000000002" y2="1017.3" stroke="#161616" stroke-width="2.6"/>
<line x1="242.5" y1="1010.8" x2="242.5" y2="1018.8" stroke="#161616" stroke-width="3"/>
<text x="241.5" y="1029.8" font-family="'Liberation Sans', sans-serif" font-size="8.5" text-anchor="middle" fill="#222">0</text>
<line x1="366.2" y1="1010.8" x2="366.2" y2="1018.8" stroke="#161616" stroke-width="3"/>
<text x="365.2" y="1029.8" font-family="'Liberation Sans', sans-serif" font-size="8.5" text-anchor="middle" fill="#222">50</text>
<line x1="489.9" y1="1010.8" x2="489.9" y2="1018.8" stroke="#161616" stroke-width="3"/>
<text x="488.9" y="1029.8" font-family="'Liberation Sans', sans-serif" font-size="8.5" text-anchor="middle" fill="#222">100</text>
<line x1="613.6" y1="1010.8" x2="613.6" y2="1018.8" stroke="#161616" stroke-width="3"/>
<text x="612.6" y="1029.8" font-family="'Liberation Sans', sans-serif" font-size="8.5" text-anchor="middle" fill="#222">150</text>
<text x="202" y="827.2" font-family="'Liberation Sans', sans-serif" font-size="13" text-anchor="middle" fill="#111" font-weight="bold" transform="rotate(-90 202 827.2)" textLength="49" lengthAdjust="spacingAndGlyphs">Number</text>
<text x="538" y="1046" font-family="'Liberation Sans', sans-serif" font-size="12.5" text-anchor="middle" fill="#0c0c0c" font-weight="bold" textLength="140" lengthAdjust="spacingAndGlyphs">Channels (580/30[488])</text>
<path d="M880.0,1010.2 L880.0,1010.2 L881.6,1010.2 L884.0,1009.0 L885.3,1007.4 L886.8,1005.2 L888.4,1002.6 L890.0,1000.0 L891.7,997.6 L893.5,995.1 L895.4,992.1 L897.3,988.0 L898.9,983.7 L900.4,978.8 L902.1,973.3 L903.7,967.4 L905.3,961.3 L906.9,954.8 L908.5,947.6 L910.1,940.4 L911.7,933.2 L913.3,926.7 L914.9,920.7 L916.6,914.9 L918.3,909.5 L919.9,904.5 L921.3,900.0 L923.2,894.0 L924.8,889.1 L926.7,884.0 L928.1,880.3 L929.6,876.3 L931.2,872.3 L932.9,868.6 L934.7,865.3 L936.1,863.3 L937.5,861.5 L939.1,859.8 L940.6,858.3 L942.2,856.9 L943.8,855.7 L945.3,854.7 L946.8,853.9 L948.3,853.3 L949.9,852.8 L951.4,852.5 L952.9,852.3 L954.5,852.1 L956.0,852.0 L957.5,851.9 L959.0,851.9 L960.4,852.0 L961.9,852.1 L963.5,852.3 L965.0,852.4 L966.7,852.5 L968.2,852.6 L969.8,852.6 L971.5,852.6 L973.2,852.7 L974.9,852.7 L976.6,852.8 L978.3,852.9 L980.0,853.0 L981.7,853.1 L983.3,853.3 L985.0,853.4 L986.6,853.6 L988.3,853.8 L990.0,854.1 L991.6,854.4 L993.3,854.7 L995.0,855.1 L996.6,855.4 L998.3,855.8 L1000.0,856.2 L1001.7,856.7 L1003.4,857.3 L1005.0,857.9 L1006.7,858.7 L1008.4,859.6 L1010.0,860.5 L1011.7,861.6 L1013.4,862.7 L1015.0,863.9 L1016.7,865.2 L1018.3,866.5 L1020.0,868.0 L1021.7,869.5 L1023.3,871.2 L1025.0,872.9 L1026.6,874.7 L1028.3,876.6 L1030.0,878.5 L1031.6,880.6 L1033.3,882.7 L1035.0,884.9 L1036.6,887.2 L1038.3,889.6 L1040.0,892.1 L1041.7,894.7 L1043.4,897.3 L1045.0,900.0 L1046.7,902.7 L1048.4,905.5 L1050.0,908.4 L1051.7,911.4 L1053.4,914.5 L1055.0,917.5 L1056.7,920.6 L1058.3,923.7 L1060.0,926.7 L1061.7,929.7 L1063.3,932.8 L1065.0,935.8 L1066.6,938.9 L1068.3,941.9 L1070.0,944.9 L1071.6,947.8 L1073.3,950.7 L1075.0,953.5 L1076.6,956.3 L1078.3,959.1 L1080.0,961.8 L1081.7,964.4 L1083.4,967.0 L1085.0,969.5 L1086.7,972.0 L1088.4,974.4 L1090.0,976.7 L1091.7,979.0 L1093.4,981.2 L1095.0,983.4 L1096.7,985.4 L1098.3,987.4 L1100.0,989.3 L1101.7,991.1 L1103.3,992.8 L1105.0,994.4 L1106.6,996.0 L1108.3,997.4 L1110.0,998.8 L1111.6,1000.1 L1113.3,1001.3 L1115.0,1002.4 L1116.6,1003.5 L1118.3,1004.4 L1120.0,1005.3 L1121.7,1006.0 L1123.4,1006.8 L1125.0,1007.4 L1126.7,1008.0 L1128.5,1008.5 L1130.3,1008.9 L1132.3,1009.3 L1134.2,1009.5 L1136.0,1009.7 L1137.6,1009.9 L1139.0,1010.1 L1140.0,1010.2 L1140.0,1010.2 Z" fill="#fcfcfc"/>
<path d="M880.0,1010.2 L881.6,1010.2 L884.0,1009.0 L885.3,1007.4 L886.8,1005.2 L888.4,1002.6 L890.0,1000.0 L891.7,997.6 L893.5,995.1 L895.4,992.1 L897.3,988.0 L898.9,983.7 L900.4,978.8 L902.1,973.3 L903.7,967.4 L905.3,961.3 L906.9,954.8 L908.5,947.6 L910.1,940.4 L911.7,933.2 L913.3,926.7 L914.9,920.7 L916.6,914.9 L918.3,909.5 L919.9,904.5 L921.3,900.0 L923.2,894.0 L924.8,889.1 L926.7,884.0 L928.1,880.3 L929.6,876.3 L931.2,872.3 L932.9,868.6 L934.7,865.3 L936.1,863.3 L937.5,861.5 L939.1,859.8 L940.6,858.3 L942.2,856.9 L943.8,855.7 L945.3,854.7 L946.8,853.9 L948.3,853.3 L949.9,852.8 L951.4,852.5 L952.9,852.3 L954.5,852.1 L956.0,852.0 L957.5,851.9 L959.0,851.9 L960.4,852.0 L961.9,852.1 L963.5,852.3 L965.0,852.4 L966.7,852.5 L968.2,852.6 L969.8,852.6 L971.5,852.6 L973.2,852.7 L974.9,852.7 L976.6,852.8 L978.3,852.9 L980.0,853.0 L981.7,853.1 L983.3,853.3 L985.0,853.4 L986.6,853.6 L988.3,853.8 L990.0,854.1 L991.6,854.4 L993.3,854.7 L995.0,855.1 L996.6,855.4 L998.3,855.8 L1000.0,856.2 L1001.7,856.7 L1003.4,857.3 L1005.0,857.9 L1006.7,858.7 L1008.4,859.6 L1010.0,860.5 L1011.7,861.6 L1013.4,862.7 L1015.0,863.9 L1016.7,865.2 L1018.3,866.5 L1020.0,868.0 L1021.7,869.5 L1023.3,871.2 L1025.0,872.9 L1026.6,874.7 L1028.3,876.6 L1030.0,878.5 L1031.6,880.6 L1033.3,882.7 L1035.0,884.9 L1036.6,887.2 L1038.3,889.6 L1040.0,892.1 L1041.7,894.7 L1043.4,897.3 L1045.0,900.0 L1046.7,902.7 L1048.4,905.5 L1050.0,908.4 L1051.7,911.4 L1053.4,914.5 L1055.0,917.5 L1056.7,920.6 L1058.3,923.7 L1060.0,926.7 L1061.7,929.7 L1063.3,932.8 L1065.0,935.8 L1066.6,938.9 L1068.3,941.9 L1070.0,944.9 L1071.6,947.8 L1073.3,950.7 L1075.0,953.5 L1076.6,956.3 L1078.3,959.1 L1080.0,961.8 L1081.7,964.4 L1083.4,967.0 L1085.0,969.5 L1086.7,972.0 L1088.4,974.4 L1090.0,976.7 L1091.7,979.0 L1093.4,981.2 L1095.0,983.4 L1096.7,985.4 L1098.3,987.4 L1100.0,989.3 L1101.7,991.1 L1103.3,992.8 L1105.0,994.4 L1106.6,996.0 L1108.3,997.4 L1110.0,998.8 L1111.6,1000.1 L1113.3,1001.3 L1115.0,1002.4 L1116.6,1003.5 L1118.3,1004.4 L1120.0,1005.3 L1121.7,1006.0 L1123.4,1006.8 L1125.0,1007.4 L1126.7,1008.0 L1128.5,1008.5 L1130.3,1008.9 L1132.3,1009.3 L1134.2,1009.5 L1136.0,1009.7 L1137.6,1009.9 L1139.0,1010.1 L1140.0,1010.2" fill="none" stroke="#8a8a8a" stroke-width="1.3" stroke-linejoin="round" stroke-linecap="round"/>
<path d="M852.0,1010.2 L852.0,1009.6 L853.0,1009.4 L854.0,1009.3 L855.0,1009.1 L856.0,1008.9 L857.0,1008.7 L858.0,1008.4 L859.0,1008.0 L860.0,1007.6 L861.0,1007.2 L862.0,1006.7 L863.0,1006.1 L864.0,1005.4 L865.0,1004.6 L866.0,1003.8 L867.0,1002.8 L868.0,1001.6 L869.0,1000.4 L870.0,999.0 L871.0,997.4 L872.0,995.6 L873.0,993.7 L874.0,991.6 L875.0,989.2 L876.0,986.6 L877.0,983.8 L878.0,980.8 L879.0,977.4 L880.0,973.9 L881.0,970.0 L882.0,965.9 L883.0,961.6 L884.0,956.9 L885.0,952.0 L886.0,946.9 L887.0,941.5 L888.0,935.9 L889.0,930.0 L890.0,924.0 L891.0,917.8 L892.0,911.5 L893.0,905.0 L894.0,898.5 L895.0,891.9 L896.0,885.4 L897.0,878.8 L898.0,872.4 L899.0,866.1 L900.0,860.0 L901.0,854.1 L902.0,848.4 L903.0,843.1 L904.0,838.1 L905.0,833.5 L906.0,829.4 L907.0,825.7 L908.0,822.6 L909.0,820.0 L910.0,817.9 L911.0,816.4 L912.0,815.5 L913.0,815.2 L914.0,815.5 L915.0,816.4 L916.0,817.9 L917.0,820.0 L918.0,822.6 L919.0,825.7 L920.0,829.4 L921.0,833.5 L922.0,838.1 L923.0,843.1 L924.0,848.4 L925.0,854.1 L926.0,860.0 L927.0,866.1 L928.0,872.4 L929.0,878.8 L930.0,885.4 L931.0,891.9 L932.0,898.5 L933.0,905.0 L934.0,911.5 L935.0,917.8 L936.0,924.0 L937.0,930.0 L938.0,935.9 L939.0,941.5 L940.0,946.9 L941.0,952.0 L942.0,956.9 L943.0,961.6 L944.0,965.9 L945.0,970.0 L946.0,973.9 L947.0,977.4 L948.0,980.8 L949.0,983.8 L950.0,986.6 L951.0,989.2 L952.0,991.6 L953.0,993.7 L954.0,995.6 L955.0,997.4 L956.0,999.0 L957.0,1000.4 L958.0,1001.6 L959.0,1002.8 L960.0,1003.8 L961.0,1004.6 L962.0,1005.4 L963.0,1006.1 L964.0,1006.7 L965.0,1007.2 L966.0,1007.6 L967.0,1008.0 L968.0,1008.4 L969.0,1008.7 L970.0,1008.9 L971.0,1009.1 L972.0,1009.3 L973.0,1009.4 L974.0,1009.6 L975.0,1009.7 L976.0,1009.8 L976.0,1010.2 Z" fill="#2b2b2b"/>
<path d="M880.0,1010.2 L880.0,1010.2 L881.0,1010.2 L882.0,1010.0 L883.0,1009.5 L884.0,1009.0 L885.0,1007.8 L886.0,1006.4 L887.0,1004.8 L888.0,1003.2 L889.0,1001.6 L890.0,1000.0 L891.0,998.6 L892.0,997.2 L893.0,995.8 L894.0,994.3 L895.0,992.7 L896.0,990.8 L897.0,988.6 L898.0,986.1 L899.0,983.3 L900.0,980.2 L901.0,976.9 L902.0,973.5 L903.0,969.9 L904.0,966.2 L905.0,962.4 L906.0,958.4 L907.0,954.3 L908.0,949.9 L909.0,945.4 L910.0,940.8 L911.0,936.4 L912.0,932.0 L913.0,927.9 L914.0,924.1 L915.0,920.5 L916.0,917.1 L917.0,913.7 L918.0,910.5 L919.0,907.3 L920.0,904.1 L921.0,900.9 L922.0,897.8 L923.0,894.6 L924.0,891.6 L925.0,888.6 L926.0,885.9 L927.0,883.2 L928.0,880.5 L929.0,878.8 L930.0,885.4 L931.0,891.9 L932.0,898.5 L933.0,905.0 L934.0,911.5 L935.0,917.8 L936.0,924.0 L937.0,930.0 L938.0,935.9 L939.0,941.5 L940.0,946.9 L941.0,952.0 L942.0,956.9 L943.0,961.6 L944.0,965.9 L945.0,970.0 L946.0,973.9 L947.0,977.4 L948.0,980.8 L949.0,983.8 L950.0,986.6 L951.0,989.2 L952.0,991.6 L953.0,993.7 L954.0,995.6 L955.0,997.4 L956.0,999.0 L957.0,1000.4 L958.0,1001.6 L959.0,1002.8 L960.0,1003.8 L961.0,1004.6 L962.0,1005.4 L963.0,1006.1 L964.0,1006.7 L965.0,1007.2 L966.0,1007.6 L967.0,1008.0 L968.0,1008.4 L969.0,1008.7 L970.0,1008.9 L971.0,1009.1 L972.0,1009.3 L973.0,1009.4 L974.0,1009.6 L975.0,1009.7 L976.0,1009.8 L977.0,1009.8 L978.0,1009.9 L978.0,1010.2 Z" fill="#0c0c0c"/>
<path d="M968.0,1010.2 L968.0,1010.0 L969.0,1010.0 L970.0,1010.0 L971.0,1010.0 L972.0,1010.0 L973.0,1009.9 L974.0,1009.9 L975.0,1009.9 L976.0,1009.8 L977.0,1009.8 L978.0,1009.8 L979.0,1009.7 L980.0,1009.7 L981.0,1009.6 L982.0,1009.6 L983.0,1009.5 L984.0,1009.4 L985.0,1009.4 L986.0,1009.3 L987.0,1009.2 L988.0,1009.1 L989.0,1009.1 L990.0,1009.0 L991.0,1008.9 L992.0,1008.7 L993.0,1008.6 L994.0,1008.5 L995.0,1008.4 L996.0,1008.2 L997.0,1008.1 L998.0,1007.9 L999.0,1007.7 L1000.0,1007.5 L1001.0,1007.3 L1002.0,1007.1 L1003.0,1006.9 L1004.0,1006.7 L1005.0,1006.5 L1006.0,1006.2 L1007.0,1005.9 L1008.0,1005.7 L1009.0,1005.4 L1010.0,1005.1 L1011.0,1004.8 L1012.0,1004.4 L1013.0,1004.1 L1014.0,1003.7 L1015.0,1003.4 L1016.0,1003.0 L1017.0,1002.6 L1018.0,1002.2 L1019.0,1001.7 L1020.0,1001.3 L1021.0,1000.9 L1022.0,1000.4 L1023.0,999.9 L1024.0,999.4 L1025.0,998.9 L1026.0,998.4 L1027.0,997.9 L1028.0,997.4 L1029.0,996.8 L1030.0,996.3 L1031.0,995.7 L1032.0,995.2 L1033.0,994.6 L1034.0,994.0 L1035.0,993.5 L1036.0,992.9 L1037.0,992.3 L1038.0,991.7 L1039.0,991.2 L1040.0,990.6 L1041.0,990.0 L1042.0,989.4 L1043.0,988.9 L1044.0,988.3 L1045.0,987.8 L1046.0,987.3 L1047.0,986.7 L1048.0,986.2 L1049.0,985.8 L1050.0,985.3 L1051.0,984.8 L1052.0,984.4 L1053.0,984.0 L1054.0,983.6 L1055.0,983.2 L1056.0,982.8 L1057.0,982.5 L1058.0,982.2 L1059.0,981.9 L1060.0,981.7 L1061.0,981.4 L1062.0,981.2 L1063.0,981.1 L1064.0,980.9 L1065.0,980.8 L1066.0,980.8 L1067.0,980.7 L1068.0,980.7 L1069.0,980.7 L1070.0,980.8 L1071.0,980.8 L1072.0,980.9 L1073.0,981.1 L1074.0,981.2 L1075.0,981.4 L1076.0,981.7 L1077.0,981.9 L1078.0,982.2 L1079.0,982.5 L1080.0,982.8 L1081.0,983.2 L1082.0,983.6 L1083.0,984.0 L1084.0,984.4 L1085.0,984.8 L1086.0,985.3 L1087.0,985.8 L1088.0,986.2 L1089.0,986.7 L1090.0,987.3 L1091.0,987.8 L1092.0,988.3 L1093.0,988.9 L1094.0,989.4 L1095.0,990.0 L1096.0,990.6 L1097.0,991.2 L1098.0,991.7 L1099.0,992.3 L1100.0,992.9 L1101.0,993.5 L1102.0,994.0 L1103.0,994.6 L1104.0,995.2 L1105.0,995.7 L1106.0,996.3 L1107.0,996.8 L1108.0,997.4 L1109.0,997.9 L1110.0,998.4 L1111.0,998.9 L1112.0,999.4 L1113.0,999.9 L1114.0,1000.4 L1115.0,1000.9 L1116.0,1001.3 L1117.0,1001.7 L1118.0,1002.2 L1119.0,1002.6 L1120.0,1003.0 L1121.0,1003.4 L1122.0,1003.7 L1123.0,1004.1 L1124.0,1004.4 L1125.0,1004.8 L1126.0,1005.1 L1127.0,1005.4 L1128.0,1005.7 L1129.0,1005.9 L1130.0,1006.2 L1131.0,1006.5 L1132.0,1006.7 L1133.0,1006.9 L1134.0,1007.1 L1135.0,1007.3 L1136.0,1007.5 L1137.0,1007.7 L1138.0,1007.9 L1139.0,1008.1 L1140.0,1008.2 L1141.0,1008.4 L1142.0,1008.5 L1143.0,1008.6 L1144.0,1008.7 L1145.0,1008.9 L1146.0,1009.0 L1147.0,1009.1 L1148.0,1009.1 L1149.0,1009.2 L1150.0,1009.3 L1151.0,1009.4 L1152.0,1009.4 L1153.0,1009.5 L1154.0,1009.6 L1155.0,1009.6 L1156.0,1009.7 L1157.0,1009.7 L1158.0,1009.8 L1159.0,1009.8 L1160.0,1009.8 L1161.0,1009.9 L1162.0,1009.9 L1163.0,1009.9 L1164.0,1010.0 L1165.0,1010.0 L1166.0,1010.0 L1166.0,1010.2 Z" fill="#0e0e0e"/>
<path d="M1006.7,852.0 L1007.7,852.6 L1009.1,853.3 L1010.7,854.2 L1012.5,855.2 L1014.4,856.3 L1016.4,857.4 L1018.2,858.7 L1020.0,860.0 L1021.7,861.4 L1023.3,862.8 L1025.0,864.4 L1026.6,866.0 L1028.3,867.7 L1030.0,869.5 L1031.6,871.3 L1033.3,873.3 L1035.0,875.3 L1036.6,877.5 L1038.3,879.7 L1040.0,882.0 L1041.7,884.4 L1043.4,886.8 L1045.0,889.4 L1046.7,892.0 L1048.4,894.7 L1050.0,897.6 L1051.7,900.6 L1053.4,903.7 L1055.0,906.8 L1056.7,909.9 L1058.3,913.0 L1060.0,916.0 L1061.7,919.0 L1063.3,922.0 L1065.0,925.0 L1066.6,928.0 L1068.3,931.0 L1070.0,934.0 L1071.6,937.0 L1073.3,940.0 L1075.0,943.0 L1076.6,946.1 L1078.3,949.2 L1080.0,952.3 L1081.7,955.4 L1083.4,958.4 L1085.0,961.3 L1086.7,964.0 L1088.4,966.6 L1090.0,969.2 L1091.7,971.6 L1093.4,974.0 L1095.0,976.3 L1096.7,978.5 L1098.3,980.7 L1100.0,982.7 L1101.7,984.7 L1103.4,986.6 L1105.1,988.4 L1106.8,990.1 L1108.5,991.7 L1110.2,993.2 L1111.8,994.7 L1113.3,996.0 L1115.1,997.4 L1116.9,998.7 L1118.6,999.8 L1120.3,1000.8 L1121.8,1001.7 L1123.1,1002.4 L1124.0,1003.0" fill="none" stroke="#777" stroke-width="1.2" stroke-linejoin="round" stroke-linecap="round" stroke-dasharray="6 3"/>
<path d="M817.3,1009.9 L821.3,1001.3 L824.8,993.3 L827.5,989.3 L830.7,992.8 L833.3,992.0 L836.5,995.5 L840.0,992.8 L843.5,990.7 L846.7,988.0 L849.9,989.3 L853.3,985.9 L856.8,984.8 L860.0,980.0 L863.2,977.3 L866.7,983.2 L870.1,980.5 L873.3,977.3 L876.0,976.8 L879.2,974.7 L881.9,966.7 L884.0,953.3 L886.1,934.7 L888.0,913.3 L890.7,886.7 L893.3,857.3 L896.0,828.0 L899.5,801.3 L902.7,780.0 L905.3,769.3 L906.7,748.0 L909.3,726.7 L912.0,708.0 L914.7,698.7 L916.0,697.3 L918.7,700.0 L921.3,702.7 L923.5,713.3 L925.3,726.7 L927.5,737.3 L929.3,748.0 L932.0,764.0 L934.7,780.0 L937.3,796.0 L940.0,812.0 L942.1,825.3 L944.0,833.3 L945.9,840.0 L948.0,841.9 L950.1,838.1 L952.0,836.0 L953.3,842.7 L954.7,852.0 L956.5,864.0 L958.1,873.3 L960.0,864.0 L962.7,852.0 L964.8,847.2 L966.7,845.3 L969.3,848.0 L972.0,852.0 L974.7,860.0 L977.3,868.0 L980.0,864.0 L982.7,860.0 L985.9,854.7 L989.3,849.3 L990.7,854.7 L992.0,860.0 L993.3,849.3 L994.7,837.3 L996.5,842.7 L998.7,841.3 L1001.3,839.2 L1004.0,843.5 L1006.7,840.8 L1009.3,846.7 L1012.0,842.7 L1014.7,848.0 L1017.3,849.9 L1020.0,841.3 L1023.2,836.5 L1025.9,840.8 L1028.5,845.3 L1031.2,843.5 L1033.3,852.0 L1034.7,860.0 L1036.5,846.7 L1038.7,842.7 L1041.3,844.0 L1044.0,852.0 L1046.7,860.0 L1049.3,868.0 L1052.0,870.7 L1054.1,861.3 L1056.0,857.3 L1058.1,868.0 L1060.0,878.7 L1062.7,885.3 L1065.3,889.3 L1067.5,900.0 L1069.3,908.0 L1071.2,906.7 L1073.3,916.0 L1076.0,924.0 L1078.7,929.3 L1081.3,930.7 L1084.0,940.0 L1086.7,938.7 L1089.3,945.3 L1092.0,956.0 L1094.7,964.0 L1097.3,970.7 L1100.0,974.7 L1102.7,976.0 L1105.3,980.0 L1108.5,984.8 L1112.0,988.0 L1114.1,993.3 L1116.0,996.0 L1118.7,992.0 L1121.3,990.7 L1124.0,993.9 L1126.7,996.0 L1129.3,998.1 L1132.0,998.7 L1134.7,993.9 L1137.3,990.7 L1140.0,992.8 L1142.7,996.0 L1145.3,998.7 L1148.0,1000.0 L1153.3,1001.9 L1158.7,1001.3 L1164.0,1002.9 L1169.3,1002.7 L1174.7,1000.0 L1180.0,998.7 L1185.3,1001.9 L1190.7,1002.7 L1194.7,1000.8 L1198.7,1001.3 L1201.3,999.2 L1204.0,997.3" fill="none" stroke="#161616" stroke-width="2.9" stroke-linejoin="round" stroke-linecap="round"/>
<line x1="751.6" y1="634.6" x2="751.6" y2="1017.2" stroke="#161616" stroke-width="3"/>
<line x1="735.5" y1="1010.2" x2="1203" y2="1010.2" stroke="#161616" stroke-width="3"/>
<line x1="743.6" y1="1010.2" x2="751.6" y2="1010.2" stroke="#161616" stroke-width="2.6"/>
<line x1="743.6" y1="996.26" x2="751.6" y2="996.26" stroke="#161616" stroke-width="2.6"/>
<line x1="743.6" y1="982.3199999999999" x2="751.6" y2="982.3199999999999" stroke="#161616" stroke-width="2.6"/>
<line x1="743.6" y1="968.3799999999999" x2="751.6" y2="968.3799999999999" stroke="#161616" stroke-width="2.6"/>
<line x1="743.6" y1="954.4399999999998" x2="751.6" y2="954.4399999999998" stroke="#161616" stroke-width="2.6"/>
<line x1="743.6" y1="940.4999999999998" x2="751.6" y2="940.4999999999998" stroke="#161616" stroke-width="2.6"/>
<line x1="743.6" y1="926.5599999999997" x2="751.6" y2="926.5599999999997" stroke="#161616" stroke-width="2.6"/>
<line x1="743.6" y1="912.6199999999997" x2="751.6" y2="912.6199999999997" stroke="#161616" stroke-width="2.6"/>
<line x1="743.6" y1="898.6799999999996" x2="751.6" y2="898.6799999999996" stroke="#161616" stroke-width="2.6"/>
<line x1="743.6" y1="884.7399999999996" x2="751.6" y2="884.7399999999996" stroke="#161616" stroke-width="2.6"/>
<line x1="743.6" y1="870.7999999999995" x2="751.6" y2="870.7999999999995" stroke="#161616" stroke-width="2.6"/>
<line x1="743.6" y1="856.8599999999994" x2="751.6" y2="856.8599999999994" stroke="#161616" stroke-width="2.6"/>
<line x1="743.6" y1="842.9199999999994" x2="751.6" y2="842.9199999999994" stroke="#161616" stroke-width="2.6"/>
<line x1="743.6" y1="828.9799999999993" x2="751.6" y2="828.9799999999993" stroke="#161616" stroke-width="2.6"/>
<line x1="743.6" y1="815.0399999999993" x2="751.6" y2="815.0399999999993" stroke="#161616" stroke-width="2.6"/>
<line x1="743.6" y1="801.0999999999992" x2="751.6" y2="801.0999999999992" stroke="#161616" stroke-width="2.6"/>
<line x1="743.6" y1="787.1599999999992" x2="751.6" y2="787.1599999999992" stroke="#161616" stroke-width="2.6"/>
<line x1="743.6" y1="773.2199999999991" x2="751.6" y2="773.2199999999991" stroke="#161616" stroke-width="2.6"/>
<line x1="743.6" y1="759.2799999999991" x2="751.6" y2="759.2799999999991" stroke="#161616" stroke-width="2.6"/>
<line x1="743.6" y1="745.339999999999" x2="751.6" y2="745.339999999999" stroke="#161616" stroke-width="2.6"/>
<line x1="743.6" y1="731.399999999999" x2="751.6" y2="731.399999999999" stroke="#161616" stroke-width="2.6"/>
<line x1="743.6" y1="717.4599999999989" x2="751.6" y2="717.4599999999989" stroke="#161616" stroke-width="2.6"/>
<line x1="743.6" y1="703.5199999999988" x2="751.6" y2="703.5199999999988" stroke="#161616" stroke-width="2.6"/>
<line x1="743.6" y1="689.5799999999988" x2="751.6" y2="689.5799999999988" stroke="#161616" stroke-width="2.6"/>
<line x1="743.6" y1="675.6399999999987" x2="751.6" y2="675.6399999999987" stroke="#161616" stroke-width="2.6"/>
<line x1="743.6" y1="661.6999999999987" x2="751.6" y2="661.6999999999987" stroke="#161616" stroke-width="2.6"/>
<line x1="743.6" y1="647.7599999999986" x2="751.6" y2="647.7599999999986" stroke="#161616" stroke-width="2.6"/>
<line x1="736.6" y1="1010.2" x2="751.6" y2="1010.2" stroke="#161616" stroke-width="2.8"/>
<text x="728.6" y="1010.2" font-family="'Liberation Sans', sans-serif" font-size="8.5" text-anchor="middle" fill="#222" transform="rotate(-90 728.6 1010.2)">0</text>
<line x1="736.6" y1="940.5" x2="751.6" y2="940.5" stroke="#161616" stroke-width="2.8"/>
<text x="728.6" y="940.5" font-family="'Liberation Sans', sans-serif" font-size="8.5" text-anchor="middle" fill="#222" transform="rotate(-90 728.6 940.5)">100</text>
<line x1="736.6" y1="870.8" x2="751.6" y2="870.8" stroke="#161616" stroke-width="2.8"/>
<text x="728.6" y="870.8" font-family="'Liberation Sans', sans-serif" font-size="8.5" text-anchor="middle" fill="#222" transform="rotate(-90 728.6 870.8)">200</text>
<line x1="736.6" y1="801.1" x2="751.6" y2="801.1" stroke="#161616" stroke-width="2.8"/>
<text x="728.6" y="801.1" font-family="'Liberation Sans', sans-serif" font-size="8.5" text-anchor="middle" fill="#222" transform="rotate(-90 728.6 801.1)">300</text>
<line x1="736.6" y1="731.4" x2="751.6" y2="731.4" stroke="#161616" stroke-width="2.8"/>
<text x="728.6" y="731.4" font-family="'Liberation Sans', sans-serif" font-size="8.5" text-anchor="middle" fill="#222" transform="rotate(-90 728.6 731.4)">400</text>
<line x1="736.6" y1="661.7" x2="751.6" y2="661.7" stroke="#161616" stroke-width="2.8"/>
<text x="728.6" y="661.7" font-family="'Liberation Sans', sans-serif" font-size="8.5" text-anchor="middle" fill="#222" transform="rotate(-90 728.6 661.7)">500</text>
<line x1="751.6" y1="1010.2" x2="751.6" y2="1016.7" stroke="#161616" stroke-width="2.6"/>
<line x1="776.46" y1="1010.2" x2="776.46" y2="1016.7" stroke="#161616" stroke-width="2.6"/>
<line x1="801.32" y1="1010.2" x2="801.32" y2="1016.7" stroke="#161616" stroke-width="2.6"/>
<line x1="826.1800000000001" y1="1010.2" x2="826.1800000000001" y2="1016.7" stroke="#161616" stroke-width="2.6"/>
<line x1="851.0400000000001" y1="1010.2" x2="851.0400000000001" y2="1016.7" stroke="#161616" stroke-width="2.6"/>
<line x1="875.9000000000001" y1="1010.2" x2="875.9000000000001" y2="1016.7" stroke="#161616" stroke-width="2.6"/>
<line x1="900.7600000000001" y1="1010.2" x2="900.7600000000001" y2="1016.7" stroke="#161616" stroke-width="2.6"/>
<line x1="925.6200000000001" y1="1010.2" x2="925.6200000000001" y2="1016.7" stroke="#161616" stroke-width="2.6"/>
<line x1="950.4800000000001" y1="1010.2" x2="950.4800000000001" y2="1016.7" stroke="#161616" stroke-width="2.6"/>
<line x1="975.3400000000001" y1="1010.2" x2="975.3400000000001" y2="1016.7" stroke="#161616" stroke-width="2.6"/>
<line x1="1000.2000000000002" y1="1010.2" x2="1000.2000000000002" y2="1016.7" stroke="#161616" stroke-width="2.6"/>
<line x1="1025.0600000000002" y1="1010.2" x2="1025.0600000000002" y2="1016.7" stroke="#161616" stroke-width="2.6"/>
<line x1="1049.92" y1="1010.2" x2="1049.92" y2="1016.7" stroke="#161616" stroke-width="2.6"/>
<line x1="1074.78" y1="1010.2" x2="1074.78" y2="1016.7" stroke="#161616" stroke-width="2.6"/>
<line x1="1099.6399999999999" y1="1010.2" x2="1099.6399999999999" y2="1016.7" stroke="#161616" stroke-width="2.6"/>
<line x1="1124.4999999999998" y1="1010.2" x2="1124.4999999999998" y2="1016.7" stroke="#161616" stroke-width="2.6"/>
<line x1="1149.3599999999997" y1="1010.2" x2="1149.3599999999997" y2="1016.7" stroke="#161616" stroke-width="2.6"/>
<line x1="1174.2199999999996" y1="1010.2" x2="1174.2199999999996" y2="1016.7" stroke="#161616" stroke-width="2.6"/>
<line x1="1199.0799999999995" y1="1010.2" x2="1199.0799999999995" y2="1016.7" stroke="#161616" stroke-width="2.6"/>
<line x1="751.6" y1="1010.2" x2="751.6" y2="1018.2" stroke="#161616" stroke-width="3"/>
<text x="750.6" y="1029.2" font-family="'Liberation Sans', sans-serif" font-size="8.5" text-anchor="middle" fill="#222">0</text>
<line x1="875.9" y1="1010.2" x2="875.9" y2="1018.2" stroke="#161616" stroke-width="3"/>
<text x="874.9" y="1029.2" font-family="'Liberation Sans', sans-serif" font-size="8.5" text-anchor="middle" fill="#222">40</text>
<line x1="1000.2" y1="1010.2" x2="1000.2" y2="1018.2" stroke="#161616" stroke-width="3"/>
<text x="999.2" y="1029.2" font-family="'Liberation Sans', sans-serif" font-size="8.5" text-anchor="middle" fill="#222">80</text>
<line x1="1124.5" y1="1010.2" x2="1124.5" y2="1018.2" stroke="#161616" stroke-width="3"/>
<text x="1123.5" y="1029.2" font-family="'Liberation Sans', sans-serif" font-size="8.5" text-anchor="middle" fill="#222">120</text>
<text x="713" y="823" font-family="'Liberation Sans', sans-serif" font-size="13" text-anchor="middle" fill="#111" font-weight="bold" transform="rotate(-90 713 823)" textLength="49" lengthAdjust="spacingAndGlyphs">Number</text>
<text x="1029" y="1046" font-family="'Liberation Sans', sans-serif" font-size="11.696428571428571" text-anchor="middle" fill="#0c0c0c" font-weight="bold" textLength="131" lengthAdjust="spacingAndGlyphs">Channels (580/30[488])</text>
</g>
<g>
<path d="M427.6,563.4 L434.0,563.4 L430.8,557.4 Z" fill="#111"/>
<path d="M909.3,562.3 L915.7,562.3 L912.5,556.3 Z" fill="#111"/>
<path d="M899.8,562.3 L906.2,562.3 L903,556.3 Z" fill="#111"/>
<path d="M350.6,1017.8 L357.0,1017.8 L353.8,1011.8 Z" fill="#111"/>
<path d="M342.8,1017.8 L349.2,1017.8 L346,1011.8 Z" fill="#111"/>
<path d="M457.8,1017.8 L464.2,1017.8 L461,1011.8 Z" fill="#111"/>
<path d="M449.8,1017.8 L456.2,1017.8 L453,1011.8 Z" fill="#111"/>
</g>
<text x="439" y="146.3" font-family="'Liberation Serif', serif" font-size="50" text-anchor="middle" fill="#0a0a0a" stroke="#0a0a0a" stroke-width="0.7">DMSO</text>
<text x="964" y="145" font-family="'Liberation Serif', serif" font-size="50" text-anchor="middle" fill="#0a0a0a" stroke="#0a0a0a" stroke-width="0.7">LEF</text>
<text x="165" y="388.7" font-family="'Liberation Serif', serif" font-size="49.3" text-anchor="middle" fill="#0a0a0a" stroke="#0a0a0a" stroke-width="0.7" transform="rotate(-90 165 388.7)">Tca8113</text>
<text x="164" y="837.7" font-family="'Liberation Serif', serif" font-size="50.5" text-anchor="middle" fill="#0a0a0a" stroke="#0a0a0a" stroke-width="0.7" transform="rotate(-90 164 837.7)">KB</text>
<clipPath id="cL1"><rect x="227.2" y="1331" width="488.5" height="150.5"/></clipPath>
<rect x="227.2" y="1331.0" width="488.5" height="150.5" fill="#ababab"/>
<g clip-path="url(#cL1)">
<rect x="227.2" y="1331.0" width="160.0" height="150.5" fill="#b0b0b0" filter="url(#b12)"/>
<rect x="555.0" y="1420.0" width="150.0" height="62.0" fill="#9e9e9e" filter="url(#b12)"/>
<path d="M445.0,1337.0 L447.8,1336.2 L450.5,1335.8 L453.2,1335.6 L456.0,1335.4 L458.8,1335.3 L461.5,1335.2 L464.2,1335.1 L467.0,1335.1 L469.8,1335.1 L472.5,1335.0 L475.2,1335.0 L478.0,1335.0 L480.8,1335.0 L483.5,1335.0 L486.2,1335.0 L489.0,1335.0 L491.8,1335.0 L494.5,1335.0 L497.2,1335.0 L500.0,1335.0 L502.8,1335.0 L505.5,1335.0 L508.2,1335.0 L511.0,1335.0 L513.8,1335.0 L516.5,1335.0 L519.2,1335.0 L522.0,1335.0 L524.8,1335.0 L527.5,1335.0 L530.2,1335.1 L533.0,1335.1 L535.8,1335.1 L538.5,1335.2 L541.2,1335.3 L544.0,1335.4 L546.8,1335.6 L549.5,1335.8 L552.2,1336.2 L555.0,1337.0 L555.0,1337.0 L552.2,1337.8 L549.5,1338.2 L546.8,1338.4 L544.0,1338.6 L541.2,1338.7 L538.5,1338.8 L535.8,1338.9 L533.0,1338.9 L530.2,1338.9 L527.5,1339.0 L524.8,1339.0 L522.0,1339.0 L519.2,1339.0 L516.5,1339.0 L513.8,1339.0 L511.0,1339.0 L508.2,1339.0 L505.5,1339.0 L502.8,1339.0 L500.0,1339.0 L497.2,1339.0 L494.5,1339.0 L491.8,1339.0 L489.0,1339.0 L486.2,1339.0 L483.5,1339.0 L480.8,1339.0 L478.0,1339.0 L475.2,1339.0 L472.5,1339.0 L469.8,1338.9 L467.0,1338.9 L464.2,1338.9 L461.5,1338.8 L458.8,1338.7 L456.0,1338.6 L453.2,1338.4 L450.5,1338.2 L447.8,1337.8 L445.0,1337.0 Z" fill="#999" filter="url(#b3)" opacity="0.8"/>
<path d="M561.0,1337.0 L564.0,1336.0 L566.9,1335.5 L569.9,1335.2 L572.8,1335.0 L575.8,1334.9 L578.7,1334.8 L581.6,1334.7 L584.6,1334.6 L587.5,1334.6 L590.5,1334.5 L593.5,1334.5 L596.4,1334.5 L599.4,1334.5 L602.3,1334.5 L605.2,1334.5 L608.2,1334.5 L611.1,1334.5 L614.1,1334.5 L617.0,1334.5 L620.0,1334.5 L623.0,1334.5 L625.9,1334.5 L628.9,1334.5 L631.8,1334.5 L634.8,1334.5 L637.7,1334.5 L640.6,1334.5 L643.6,1334.5 L646.5,1334.5 L649.5,1334.5 L652.5,1334.6 L655.4,1334.6 L658.4,1334.7 L661.3,1334.8 L664.2,1334.9 L667.2,1335.0 L670.1,1335.2 L673.1,1335.5 L676.0,1336.0 L679.0,1337.0 L679.0,1337.0 L676.0,1338.0 L673.1,1338.5 L670.1,1338.8 L667.2,1339.0 L664.2,1339.1 L661.3,1339.2 L658.4,1339.3 L655.4,1339.4 L652.5,1339.4 L649.5,1339.5 L646.5,1339.5 L643.6,1339.5 L640.6,1339.5 L637.7,1339.5 L634.8,1339.5 L631.8,1339.5 L628.9,1339.5 L625.9,1339.5 L623.0,1339.5 L620.0,1339.5 L617.0,1339.5 L614.1,1339.5 L611.1,1339.5 L608.2,1339.5 L605.2,1339.5 L602.3,1339.5 L599.4,1339.5 L596.4,1339.5 L593.5,1339.5 L590.5,1339.5 L587.5,1339.4 L584.6,1339.4 L581.6,1339.3 L578.7,1339.2 L575.8,1339.1 L572.8,1339.0 L569.9,1338.8 L566.9,1338.5 L564.0,1338.0 L561.0,1337.0 Z" fill="#8a8a8a" filter="url(#b3)" opacity="0.9"/>
<path d="M240.0,1403.5 L243.6,1398.4 L247.2,1396.3 L250.8,1394.9 L254.4,1394.0 L258.0,1393.3 L261.6,1392.8 L265.2,1392.5 L268.8,1392.2 L272.4,1392.1 L276.0,1392.0 L279.6,1391.9 L283.2,1391.9 L286.8,1391.9 L290.4,1391.9 L294.0,1391.9 L297.6,1392.0 L301.2,1392.0 L304.8,1392.0 L308.4,1392.0 L312.0,1392.0 L315.6,1392.0 L319.2,1392.0 L322.8,1392.0 L326.4,1392.0 L330.0,1391.9 L333.6,1391.9 L337.2,1391.9 L340.8,1391.9 L344.4,1391.9 L348.0,1392.0 L351.6,1392.1 L355.2,1392.2 L358.8,1392.5 L362.4,1392.8 L366.0,1393.3 L369.6,1394.0 L373.2,1394.9 L376.8,1396.3 L380.4,1398.4 L384.0,1403.5 L384.0,1403.5 L380.4,1408.8 L376.8,1411.1 L373.2,1412.6 L369.6,1413.8 L366.0,1414.6 L362.4,1415.2 L358.8,1415.7 L355.2,1416.1 L351.6,1416.3 L348.0,1416.5 L344.4,1416.7 L340.8,1416.8 L337.2,1416.8 L333.6,1416.9 L330.0,1416.9 L326.4,1417.0 L322.8,1417.0 L319.2,1417.0 L315.6,1417.0 L312.0,1417.0 L308.4,1417.0 L304.8,1417.0 L301.2,1417.0 L297.6,1417.0 L294.0,1416.9 L290.4,1416.9 L286.8,1416.8 L283.2,1416.8 L279.6,1416.7 L276.0,1416.5 L272.4,1416.3 L268.8,1416.1 L265.2,1415.7 L261.6,1415.2 L258.0,1414.6 L254.4,1413.8 L250.8,1412.6 L247.2,1411.1 L243.6,1408.8 L240.0,1403.5 Z" fill="#3a3a3a" filter="url(#b6)" opacity="0.5" transform="rotate(2.5 312 1403.5)"/>
<path d="M245.0,1403.5 L248.3,1400.9 L251.7,1399.8 L255.1,1399.2 L258.4,1398.7 L261.8,1398.4 L265.1,1398.2 L268.4,1398.0 L271.8,1397.9 L275.1,1397.9 L278.5,1397.9 L281.9,1397.9 L285.2,1397.9 L288.6,1397.9 L291.9,1397.9 L295.2,1397.9 L298.6,1398.0 L301.9,1398.0 L305.3,1398.0 L308.6,1398.0 L312.0,1398.0 L315.4,1398.0 L318.7,1398.0 L322.1,1398.0 L325.4,1398.0 L328.8,1397.9 L332.1,1397.9 L335.4,1397.9 L338.8,1397.9 L342.1,1397.9 L345.5,1397.9 L348.9,1397.9 L352.2,1397.9 L355.6,1398.0 L358.9,1398.2 L362.2,1398.4 L365.6,1398.7 L368.9,1399.2 L372.3,1399.8 L375.6,1400.9 L379.0,1403.5 L379.0,1403.5 L375.6,1406.3 L372.3,1407.5 L368.9,1408.4 L365.6,1409.0 L362.2,1409.5 L358.9,1409.8 L355.6,1410.1 L352.2,1410.3 L348.9,1410.5 L345.5,1410.6 L342.1,1410.7 L338.8,1410.8 L335.4,1410.9 L332.1,1410.9 L328.8,1410.9 L325.4,1411.0 L322.1,1411.0 L318.7,1411.0 L315.4,1411.0 L312.0,1411.0 L308.6,1411.0 L305.3,1411.0 L301.9,1411.0 L298.6,1411.0 L295.2,1410.9 L291.9,1410.9 L288.6,1410.9 L285.2,1410.8 L281.9,1410.7 L278.5,1410.6 L275.1,1410.5 L271.8,1410.3 L268.4,1410.1 L265.1,1409.8 L261.8,1409.5 L258.4,1409.0 L255.1,1408.4 L251.7,1407.5 L248.3,1406.3 L245.0,1403.5 Z" fill="#0a0a0a" filter="url(#b2)" opacity="1.0" transform="rotate(2.5 312 1403.5)"/>
<path d="M393.0,1410.0 L396.8,1403.1 L400.5,1400.2 L404.2,1398.4 L408.0,1397.1 L411.8,1396.2 L415.5,1395.5 L419.2,1395.1 L423.0,1394.8 L426.8,1394.6 L430.5,1394.4 L434.2,1394.4 L438.0,1394.4 L441.8,1394.4 L445.5,1394.4 L449.2,1394.4 L453.0,1394.4 L456.8,1394.5 L460.5,1394.5 L464.2,1394.5 L468.0,1394.5 L471.8,1394.5 L475.5,1394.5 L479.2,1394.5 L483.0,1394.4 L486.8,1394.4 L490.5,1394.4 L494.2,1394.4 L498.0,1394.4 L501.8,1394.4 L505.5,1394.4 L509.2,1394.6 L513.0,1394.8 L516.8,1395.1 L520.5,1395.5 L524.2,1396.2 L528.0,1397.1 L531.8,1398.4 L535.5,1400.2 L539.2,1403.1 L543.0,1410.0 L543.0,1410.0 L539.2,1417.2 L535.5,1420.3 L531.8,1422.5 L528.0,1424.0 L524.2,1425.2 L520.5,1426.0 L516.8,1426.7 L513.0,1427.2 L509.2,1427.5 L505.5,1427.8 L501.8,1428.0 L498.0,1428.2 L494.2,1428.3 L490.5,1428.3 L486.8,1428.4 L483.0,1428.4 L479.2,1428.5 L475.5,1428.5 L471.8,1428.5 L468.0,1428.5 L464.2,1428.5 L460.5,1428.5 L456.8,1428.5 L453.0,1428.4 L449.2,1428.4 L445.5,1428.3 L441.8,1428.3 L438.0,1428.2 L434.2,1428.0 L430.5,1427.8 L426.8,1427.5 L423.0,1427.2 L419.2,1426.7 L415.5,1426.0 L411.8,1425.2 L408.0,1424.0 L404.2,1422.5 L400.5,1420.3 L396.8,1417.2 L393.0,1410.0 Z" fill="#3a3a3a" filter="url(#b6)" opacity="0.55"/>
<path d="M399.0,1410.0 L402.4,1405.6 L405.9,1403.8 L409.4,1402.6 L412.8,1401.8 L416.2,1401.3 L419.7,1400.9 L423.1,1400.6 L426.6,1400.5 L430.1,1400.4 L433.5,1400.3 L436.9,1400.3 L440.4,1400.3 L443.9,1400.4 L447.3,1400.4 L450.8,1400.4 L454.2,1400.4 L457.6,1400.5 L461.1,1400.5 L464.6,1400.5 L468.0,1400.5 L471.4,1400.5 L474.9,1400.5 L478.4,1400.5 L481.8,1400.4 L485.2,1400.4 L488.7,1400.4 L492.1,1400.4 L495.6,1400.3 L499.1,1400.3 L502.5,1400.3 L505.9,1400.4 L509.4,1400.5 L512.9,1400.6 L516.3,1400.9 L519.8,1401.3 L523.2,1401.8 L526.6,1402.6 L530.1,1403.8 L533.5,1405.6 L537.0,1410.0 L537.0,1410.0 L533.5,1414.7 L530.1,1416.8 L526.6,1418.2 L523.2,1419.2 L519.8,1420.0 L516.3,1420.6 L512.9,1421.1 L509.4,1421.4 L505.9,1421.7 L502.5,1421.9 L499.1,1422.1 L495.6,1422.2 L492.1,1422.3 L488.7,1422.3 L485.2,1422.4 L481.8,1422.4 L478.4,1422.5 L474.9,1422.5 L471.4,1422.5 L468.0,1422.5 L464.6,1422.5 L461.1,1422.5 L457.6,1422.5 L454.2,1422.4 L450.8,1422.4 L447.3,1422.3 L443.9,1422.3 L440.4,1422.2 L436.9,1422.1 L433.5,1421.9 L430.1,1421.7 L426.6,1421.4 L423.1,1421.1 L419.7,1420.6 L416.2,1420.0 L412.8,1419.2 L409.4,1418.2 L405.9,1416.8 L402.4,1414.7 L399.0,1410.0 Z" fill="#030303" filter="url(#b2)" opacity="1.0"/>
<path d="M544.0,1412.0 L548.0,1403.4 L552.0,1399.9 L556.0,1397.5 L560.0,1395.9 L564.0,1394.7 L568.0,1393.9 L572.0,1393.3 L576.0,1392.9 L580.0,1392.7 L584.0,1392.5 L588.0,1392.4 L592.0,1392.4 L596.0,1392.4 L600.0,1392.4 L604.0,1392.4 L608.0,1392.4 L612.0,1392.5 L616.0,1392.5 L620.0,1392.5 L624.0,1392.5 L628.0,1392.5 L632.0,1392.5 L636.0,1392.5 L640.0,1392.4 L644.0,1392.4 L648.0,1392.4 L652.0,1392.4 L656.0,1392.4 L660.0,1392.4 L664.0,1392.5 L668.0,1392.7 L672.0,1392.9 L676.0,1393.3 L680.0,1393.9 L684.0,1394.7 L688.0,1395.9 L692.0,1397.5 L696.0,1399.9 L700.0,1403.4 L704.0,1412.0 L704.0,1412.0 L700.0,1420.9 L696.0,1424.7 L692.0,1427.3 L688.0,1429.2 L684.0,1430.6 L680.0,1431.6 L676.0,1432.4 L672.0,1433.0 L668.0,1433.4 L664.0,1433.7 L660.0,1434.0 L656.0,1434.1 L652.0,1434.3 L648.0,1434.3 L644.0,1434.4 L640.0,1434.4 L636.0,1434.5 L632.0,1434.5 L628.0,1434.5 L624.0,1434.5 L620.0,1434.5 L616.0,1434.5 L612.0,1434.5 L608.0,1434.4 L604.0,1434.4 L600.0,1434.3 L596.0,1434.3 L592.0,1434.1 L588.0,1434.0 L584.0,1433.7 L580.0,1433.4 L576.0,1433.0 L572.0,1432.4 L568.0,1431.6 L564.0,1430.6 L560.0,1429.2 L556.0,1427.3 L552.0,1424.7 L548.0,1420.9 L544.0,1412.0 Z" fill="#3a3a3a" filter="url(#b6)" opacity="0.6"/>
<path d="M551.0,1412.0 L554.6,1406.7 L558.3,1404.6 L562.0,1403.2 L565.6,1402.2 L569.2,1401.6 L572.9,1401.1 L576.5,1400.8 L580.2,1400.6 L583.9,1400.4 L587.5,1400.4 L591.1,1400.3 L594.8,1400.3 L598.5,1400.4 L602.1,1400.4 L605.8,1400.4 L609.4,1400.4 L613.0,1400.5 L616.7,1400.5 L620.4,1400.5 L624.0,1400.5 L627.6,1400.5 L631.3,1400.5 L635.0,1400.5 L638.6,1400.4 L642.2,1400.4 L645.9,1400.4 L649.5,1400.4 L653.2,1400.3 L656.9,1400.3 L660.5,1400.4 L664.1,1400.4 L667.8,1400.6 L671.5,1400.8 L675.1,1401.1 L678.8,1401.6 L682.4,1402.2 L686.0,1403.2 L689.7,1404.6 L693.4,1406.7 L697.0,1412.0 L697.0,1412.0 L693.4,1417.6 L689.7,1420.0 L686.0,1421.6 L682.4,1422.8 L678.8,1423.7 L675.1,1424.4 L671.5,1425.0 L667.8,1425.4 L664.1,1425.7 L660.5,1425.9 L656.9,1426.1 L653.2,1426.2 L649.5,1426.3 L645.9,1426.3 L642.2,1426.4 L638.6,1426.4 L635.0,1426.5 L631.3,1426.5 L627.6,1426.5 L624.0,1426.5 L620.4,1426.5 L616.7,1426.5 L613.0,1426.5 L609.4,1426.4 L605.8,1426.4 L602.1,1426.3 L598.5,1426.3 L594.8,1426.2 L591.1,1426.1 L587.5,1425.9 L583.9,1425.7 L580.2,1425.4 L576.5,1425.0 L572.9,1424.4 L569.2,1423.7 L565.6,1422.8 L562.0,1421.6 L558.3,1420.0 L554.6,1417.6 L551.0,1412.0 Z" fill="#010101" filter="url(#b2)" opacity="1.0"/>
<path d="M569.0,1452.5 L571.8,1451.2 L574.6,1450.7 L577.4,1450.4 L580.2,1450.1 L583.0,1449.9 L585.8,1449.8 L588.6,1449.7 L591.4,1449.6 L594.2,1449.6 L597.0,1449.6 L599.8,1449.5 L602.6,1449.5 L605.4,1449.5 L608.2,1449.5 L611.0,1449.5 L613.8,1449.5 L616.6,1449.5 L619.4,1449.5 L622.2,1449.5 L625.0,1449.5 L627.8,1449.5 L630.6,1449.5 L633.4,1449.5 L636.2,1449.5 L639.0,1449.5 L641.8,1449.5 L644.6,1449.5 L647.4,1449.5 L650.2,1449.5 L653.0,1449.6 L655.8,1449.6 L658.6,1449.6 L661.4,1449.7 L664.2,1449.8 L667.0,1449.9 L669.8,1450.1 L672.6,1450.4 L675.4,1450.7 L678.2,1451.2 L681.0,1452.5 L681.0,1452.5 L678.2,1453.8 L675.4,1454.3 L672.6,1454.6 L669.8,1454.9 L667.0,1455.1 L664.2,1455.2 L661.4,1455.3 L658.6,1455.4 L655.8,1455.4 L653.0,1455.4 L650.2,1455.5 L647.4,1455.5 L644.6,1455.5 L641.8,1455.5 L639.0,1455.5 L636.2,1455.5 L633.4,1455.5 L630.6,1455.5 L627.8,1455.5 L625.0,1455.5 L622.2,1455.5 L619.4,1455.5 L616.6,1455.5 L613.8,1455.5 L611.0,1455.5 L608.2,1455.5 L605.4,1455.5 L602.6,1455.5 L599.8,1455.5 L597.0,1455.4 L594.2,1455.4 L591.4,1455.4 L588.6,1455.3 L585.8,1455.2 L583.0,1455.1 L580.2,1454.9 L577.4,1454.6 L574.6,1454.3 L571.8,1453.8 L569.0,1452.5 Z" fill="#6c6c6c" filter="url(#b3)" opacity="0.9"/>
</g>
<clipPath id="cL2"><rect x="227.2" y="1501.8" width="488.5" height="148"/></clipPath>
<rect x="227.2" y="1501.8" width="488.5" height="148.0" fill="#b9b9b9"/>
<g clip-path="url(#cL2)">
<rect x="227.2" y="1600.0" width="488.5" height="50.0" fill="#b2b2b2" filter="url(#b12)"/>
<path d="M234.0,1574.5 L237.7,1566.4 L241.3,1563.0 L244.9,1560.6 L248.6,1558.9 L252.2,1557.6 L255.9,1556.7 L259.6,1556.0 L263.2,1555.4 L266.9,1555.0 L270.5,1554.7 L274.1,1554.5 L277.8,1554.4 L281.4,1554.2 L285.1,1554.2 L288.8,1554.1 L292.4,1554.1 L296.1,1554.0 L299.7,1554.0 L303.4,1554.0 L307.0,1554.0 L310.6,1554.0 L314.3,1554.0 L317.9,1554.0 L321.6,1554.1 L325.2,1554.1 L328.9,1554.2 L332.6,1554.2 L336.2,1554.4 L339.9,1554.5 L343.5,1554.7 L347.1,1555.0 L350.8,1555.4 L354.4,1556.0 L358.1,1556.7 L361.8,1557.6 L365.4,1558.9 L369.1,1560.6 L372.7,1563.0 L376.4,1566.4 L380.0,1574.5 L380.0,1574.5 L376.4,1582.3 L372.7,1585.5 L369.1,1587.5 L365.4,1589.0 L361.8,1590.0 L358.1,1590.8 L354.4,1591.3 L350.8,1591.7 L347.1,1591.9 L343.5,1592.0 L339.9,1592.1 L336.2,1592.1 L332.6,1592.1 L328.9,1592.1 L325.2,1592.1 L321.6,1592.1 L317.9,1592.0 L314.3,1592.0 L310.6,1592.0 L307.0,1592.0 L303.4,1592.0 L299.7,1592.0 L296.1,1592.0 L292.4,1592.1 L288.8,1592.1 L285.1,1592.1 L281.4,1592.1 L277.8,1592.1 L274.1,1592.1 L270.5,1592.0 L266.9,1591.9 L263.2,1591.7 L259.6,1591.3 L255.9,1590.8 L252.2,1590.0 L248.6,1589.0 L244.9,1587.5 L241.3,1585.5 L237.7,1582.3 L234.0,1574.5 Z" fill="#3a3a3a" filter="url(#b6)" opacity="0.6" transform="rotate(-4 307 1569.5)"/>
<path d="M240.0,1569.5 L243.3,1566.0 L246.7,1564.5 L250.1,1563.4 L253.4,1562.6 L256.8,1562.0 L260.1,1561.6 L263.4,1561.2 L266.8,1560.9 L270.1,1560.7 L273.5,1560.5 L276.9,1560.4 L280.2,1560.3 L283.6,1560.2 L286.9,1560.1 L290.2,1560.1 L293.6,1560.1 L296.9,1560.0 L300.3,1560.0 L303.6,1560.0 L307.0,1560.0 L310.4,1560.0 L313.7,1560.0 L317.1,1560.0 L320.4,1560.1 L323.8,1560.1 L327.1,1560.1 L330.4,1560.2 L333.8,1560.3 L337.1,1560.4 L340.5,1560.5 L343.9,1560.7 L347.2,1560.9 L350.6,1561.2 L353.9,1561.6 L357.2,1562.0 L360.6,1562.6 L363.9,1563.4 L367.3,1564.5 L370.6,1566.0 L374.0,1569.5 L374.0,1569.5 L370.6,1572.7 L367.3,1573.9 L363.9,1574.7 L360.6,1575.3 L357.2,1575.7 L353.9,1575.9 L350.6,1576.1 L347.2,1576.2 L343.9,1576.2 L340.5,1576.2 L337.1,1576.2 L333.8,1576.2 L330.4,1576.2 L327.1,1576.1 L323.8,1576.1 L320.4,1576.1 L317.1,1576.0 L313.7,1576.0 L310.4,1576.0 L307.0,1576.0 L303.6,1576.0 L300.3,1576.0 L296.9,1576.0 L293.6,1576.1 L290.2,1576.1 L286.9,1576.1 L283.6,1576.2 L280.2,1576.2 L276.9,1576.2 L273.5,1576.2 L270.1,1576.2 L266.8,1576.2 L263.4,1576.1 L260.1,1575.9 L256.8,1575.7 L253.4,1575.3 L250.1,1574.7 L246.7,1573.9 L243.3,1572.7 L240.0,1569.5 Z" fill="#0a0a0a" filter="url(#b3)" opacity="1.0" transform="rotate(-4 307 1569.5)"/>
<path d="M391.0,1568.0 L394.5,1559.7 L398.0,1556.2 L401.5,1553.8 L405.0,1552.0 L408.5,1550.7 L412.0,1549.7 L415.5,1549.0 L419.0,1548.4 L422.5,1548.0 L426.0,1547.7 L429.5,1547.5 L433.0,1547.4 L436.5,1547.2 L440.0,1547.2 L443.5,1547.1 L447.0,1547.1 L450.5,1547.0 L454.0,1547.0 L457.5,1547.0 L461.0,1547.0 L464.5,1547.0 L468.0,1547.0 L471.5,1547.0 L475.0,1547.1 L478.5,1547.1 L482.0,1547.2 L485.5,1547.2 L489.0,1547.4 L492.5,1547.5 L496.0,1547.7 L499.5,1548.0 L503.0,1548.4 L506.5,1549.0 L510.0,1549.7 L513.5,1550.7 L517.0,1552.0 L520.5,1553.8 L524.0,1556.2 L527.5,1559.7 L531.0,1568.0 L531.0,1568.0 L527.5,1576.0 L524.0,1579.2 L520.5,1581.4 L517.0,1582.9 L513.5,1584.0 L510.0,1584.7 L506.5,1585.3 L503.0,1585.6 L499.5,1585.9 L496.0,1586.0 L492.5,1586.1 L489.0,1586.1 L485.5,1586.1 L482.0,1586.1 L478.5,1586.1 L475.0,1586.1 L471.5,1586.0 L468.0,1586.0 L464.5,1586.0 L461.0,1586.0 L457.5,1586.0 L454.0,1586.0 L450.5,1586.0 L447.0,1586.1 L443.5,1586.1 L440.0,1586.1 L436.5,1586.1 L433.0,1586.1 L429.5,1586.1 L426.0,1586.0 L422.5,1585.9 L419.0,1585.6 L415.5,1585.3 L412.0,1584.7 L408.5,1584.0 L405.0,1582.9 L401.5,1581.4 L398.0,1579.2 L394.5,1576.0 L391.0,1568.0 Z" fill="#3a3a3a" filter="url(#b6)" opacity="0.6" transform="rotate(-3 461 1561)"/>
<path d="M396.0,1561.0 L399.2,1557.7 L402.5,1556.3 L405.8,1555.3 L409.0,1554.5 L412.2,1553.9 L415.5,1553.5 L418.8,1553.2 L422.0,1552.9 L425.2,1552.7 L428.5,1552.5 L431.8,1552.4 L435.0,1552.3 L438.2,1552.2 L441.5,1552.1 L444.8,1552.1 L448.0,1552.1 L451.2,1552.0 L454.5,1552.0 L457.8,1552.0 L461.0,1552.0 L464.2,1552.0 L467.5,1552.0 L470.8,1552.0 L474.0,1552.1 L477.2,1552.1 L480.5,1552.1 L483.8,1552.2 L487.0,1552.3 L490.2,1552.4 L493.5,1552.5 L496.8,1552.7 L500.0,1552.9 L503.2,1553.2 L506.5,1553.5 L509.8,1553.9 L513.0,1554.5 L516.2,1555.3 L519.5,1556.3 L522.8,1557.7 L526.0,1561.0 L526.0,1561.0 L522.8,1564.0 L519.5,1565.2 L516.2,1565.9 L513.0,1566.4 L509.8,1566.7 L506.5,1567.0 L503.2,1567.1 L500.0,1567.2 L496.8,1567.2 L493.5,1567.2 L490.2,1567.2 L487.0,1567.2 L483.8,1567.2 L480.5,1567.1 L477.2,1567.1 L474.0,1567.1 L470.8,1567.0 L467.5,1567.0 L464.2,1567.0 L461.0,1567.0 L457.8,1567.0 L454.5,1567.0 L451.2,1567.0 L448.0,1567.1 L444.8,1567.1 L441.5,1567.1 L438.2,1567.2 L435.0,1567.2 L431.8,1567.2 L428.5,1567.2 L425.2,1567.2 L422.0,1567.2 L418.8,1567.1 L415.5,1567.0 L412.2,1566.7 L409.0,1566.4 L405.8,1565.9 L402.5,1565.2 L399.2,1564.0 L396.0,1561.0 Z" fill="#0e0e0e" filter="url(#b3)" opacity="1.0" transform="rotate(-3 461 1561)"/>
<path d="M548.0,1569.0 L551.7,1563.6 L555.4,1561.4 L559.0,1560.0 L562.7,1559.0 L566.4,1558.4 L570.0,1557.9 L573.7,1557.6 L577.4,1557.4 L581.1,1557.3 L584.8,1557.2 L588.4,1557.2 L592.1,1557.3 L595.8,1557.3 L599.5,1557.3 L603.1,1557.4 L606.8,1557.4 L610.5,1557.5 L614.1,1557.5 L617.8,1557.5 L621.5,1557.5 L625.2,1557.5 L628.9,1557.5 L632.5,1557.5 L636.2,1557.4 L639.9,1557.4 L643.5,1557.3 L647.2,1557.3 L650.9,1557.3 L654.6,1557.2 L658.2,1557.2 L661.9,1557.3 L665.6,1557.4 L669.3,1557.6 L673.0,1557.9 L676.6,1558.4 L680.3,1559.0 L684.0,1560.0 L687.6,1561.4 L691.3,1563.6 L695.0,1569.0 L695.0,1569.0 L691.3,1574.8 L687.6,1577.4 L684.0,1579.1 L680.3,1580.4 L676.6,1581.4 L673.0,1582.1 L669.3,1582.7 L665.6,1583.2 L661.9,1583.5 L658.2,1583.8 L654.6,1583.9 L650.9,1584.1 L647.2,1584.2 L643.5,1584.3 L639.9,1584.4 L636.2,1584.4 L632.5,1584.5 L628.9,1584.5 L625.2,1584.5 L621.5,1584.5 L617.8,1584.5 L614.1,1584.5 L610.5,1584.5 L606.8,1584.4 L603.1,1584.4 L599.5,1584.3 L595.8,1584.2 L592.1,1584.1 L588.4,1583.9 L584.8,1583.8 L581.1,1583.5 L577.4,1583.2 L573.7,1582.7 L570.0,1582.1 L566.4,1581.4 L562.7,1580.4 L559.0,1579.1 L555.4,1577.4 L551.7,1574.8 L548.0,1569.0 Z" fill="#3a3a3a" filter="url(#b6)" opacity="0.5"/>
<path d="M554.0,1567.0 L557.4,1564.1 L560.8,1562.9 L564.1,1562.2 L567.5,1561.8 L570.9,1561.5 L574.2,1561.3 L577.6,1561.2 L581.0,1561.1 L584.4,1561.1 L587.8,1561.1 L591.1,1561.2 L594.5,1561.2 L597.9,1561.3 L601.2,1561.3 L604.6,1561.4 L608.0,1561.4 L611.4,1561.5 L614.8,1561.5 L618.1,1561.5 L621.5,1561.5 L624.9,1561.5 L628.2,1561.5 L631.6,1561.5 L635.0,1561.4 L638.4,1561.4 L641.8,1561.3 L645.1,1561.3 L648.5,1561.2 L651.9,1561.2 L655.2,1561.1 L658.6,1561.1 L662.0,1561.1 L665.4,1561.2 L668.8,1561.3 L672.1,1561.5 L675.5,1561.8 L678.9,1562.2 L682.2,1562.9 L685.6,1564.1 L689.0,1567.0 L689.0,1567.0 L685.6,1570.3 L682.2,1571.8 L678.9,1572.9 L675.5,1573.7 L672.1,1574.3 L668.8,1574.8 L665.4,1575.1 L662.0,1575.4 L658.6,1575.7 L655.2,1575.9 L651.9,1576.0 L648.5,1576.1 L645.1,1576.2 L641.8,1576.3 L638.4,1576.4 L635.0,1576.4 L631.6,1576.5 L628.2,1576.5 L624.9,1576.5 L621.5,1576.5 L618.1,1576.5 L614.8,1576.5 L611.4,1576.5 L608.0,1576.4 L604.6,1576.4 L601.2,1576.3 L597.9,1576.2 L594.5,1576.1 L591.1,1576.0 L587.8,1575.9 L584.4,1575.7 L581.0,1575.4 L577.6,1575.1 L574.2,1574.8 L570.9,1574.3 L567.5,1573.7 L564.1,1572.9 L560.8,1571.8 L557.4,1570.3 L554.0,1567.0 Z" fill="#1c1c1c" filter="url(#b3)" opacity="1.0"/>
</g>
<clipPath id="cL3"><rect x="227.2" y="1667.5" width="488.5" height="153.5"/></clipPath>
<rect x="227.2" y="1667.5" width="488.5" height="153.5" fill="#d9d9d9"/>
<g clip-path="url(#cL3)">
<rect x="227.2" y="1700.0" width="488.5" height="75.0" fill="#c2c2c2" filter="url(#b12)"/>
<path d="M247.0,1738.0 L258.1,1729.7 L269.3,1726.2 L280.5,1723.8 L291.6,1722.2 L302.8,1720.9 L313.9,1720.1 L325.0,1719.4 L336.2,1718.9 L347.4,1718.6 L358.5,1718.4 L369.6,1718.2 L380.8,1718.1 L391.9,1718.1 L403.1,1718.0 L414.2,1718.0 L425.4,1718.0 L436.6,1718.0 L447.7,1718.0 L458.8,1718.0 L470.0,1718.0 L481.2,1718.0 L492.3,1718.0 L503.4,1718.0 L514.6,1718.0 L525.8,1718.0 L536.9,1718.0 L548.1,1718.1 L559.2,1718.1 L570.4,1718.2 L581.5,1718.4 L592.6,1718.6 L603.8,1718.9 L615.0,1719.4 L626.1,1720.1 L637.2,1720.9 L648.4,1722.2 L659.5,1723.8 L670.7,1726.2 L681.9,1729.7 L693.0,1738.0 L693.0,1738.0 L681.9,1746.3 L670.7,1749.8 L659.5,1752.2 L648.4,1753.8 L637.2,1755.1 L626.1,1755.9 L615.0,1756.6 L603.8,1757.1 L592.6,1757.4 L581.5,1757.6 L570.4,1757.8 L559.2,1757.9 L548.1,1757.9 L536.9,1758.0 L525.8,1758.0 L514.6,1758.0 L503.4,1758.0 L492.3,1758.0 L481.2,1758.0 L470.0,1758.0 L458.8,1758.0 L447.7,1758.0 L436.6,1758.0 L425.4,1758.0 L414.2,1758.0 L403.1,1758.0 L391.9,1757.9 L380.8,1757.9 L369.6,1757.8 L358.5,1757.6 L347.4,1757.4 L336.2,1757.1 L325.0,1756.6 L313.9,1755.9 L302.8,1755.1 L291.6,1753.8 L280.5,1752.2 L269.3,1749.8 L258.1,1746.3 L247.0,1738.0 Z" fill="#444" filter="url(#b6)" opacity="0.55"/>
<path d="M246.0,1737.0 L249.8,1731.3 L253.6,1729.1 L257.4,1727.7 L261.2,1726.8 L265.0,1726.2 L268.8,1725.8 L272.6,1725.5 L276.4,1725.4 L280.2,1725.4 L284.0,1725.4 L287.8,1725.4 L291.6,1725.5 L295.4,1725.6 L299.2,1725.7 L303.0,1725.8 L306.8,1725.9 L310.6,1725.9 L314.4,1726.0 L318.2,1726.0 L322.0,1726.0 L325.8,1726.0 L329.6,1726.0 L333.4,1725.9 L337.2,1725.9 L341.0,1725.8 L344.8,1725.7 L348.6,1725.6 L352.4,1725.5 L356.2,1725.4 L360.0,1725.4 L363.8,1725.4 L367.6,1725.4 L371.4,1725.5 L375.2,1725.8 L379.0,1726.2 L382.8,1726.8 L386.6,1727.7 L390.4,1729.1 L394.2,1731.3 L398.0,1737.0 L398.0,1737.0 L394.2,1743.4 L390.4,1746.2 L386.6,1748.2 L382.8,1749.7 L379.0,1750.9 L375.2,1751.8 L371.4,1752.5 L367.6,1753.1 L363.8,1753.5 L360.0,1753.9 L356.2,1754.1 L352.4,1754.4 L348.6,1754.5 L344.8,1754.7 L341.0,1754.8 L337.2,1754.9 L333.4,1754.9 L329.6,1755.0 L325.8,1755.0 L322.0,1755.0 L318.2,1755.0 L314.4,1755.0 L310.6,1754.9 L306.8,1754.9 L303.0,1754.8 L299.2,1754.7 L295.4,1754.5 L291.6,1754.4 L287.8,1754.1 L284.0,1753.9 L280.2,1753.5 L276.4,1753.1 L272.6,1752.5 L268.8,1751.8 L265.0,1750.9 L261.2,1749.7 L257.4,1748.2 L253.6,1746.2 L249.8,1743.4 L246.0,1737.0 Z" fill="#010101" filter="url(#b2)" opacity="1.0"/>
<path d="M393.0,1736.0 L396.8,1730.3 L400.6,1728.1 L404.4,1726.7 L408.2,1725.8 L412.0,1725.2 L415.8,1724.8 L419.6,1724.5 L423.4,1724.4 L427.2,1724.4 L431.0,1724.4 L434.8,1724.4 L438.6,1724.5 L442.4,1724.6 L446.2,1724.7 L450.0,1724.8 L453.8,1724.9 L457.6,1724.9 L461.4,1725.0 L465.2,1725.0 L469.0,1725.0 L472.8,1725.0 L476.6,1725.0 L480.4,1724.9 L484.2,1724.9 L488.0,1724.8 L491.8,1724.7 L495.6,1724.6 L499.4,1724.5 L503.2,1724.4 L507.0,1724.4 L510.8,1724.4 L514.6,1724.4 L518.4,1724.5 L522.2,1724.8 L526.0,1725.2 L529.8,1725.8 L533.6,1726.7 L537.4,1728.1 L541.2,1730.3 L545.0,1736.0 L545.0,1736.0 L541.2,1742.4 L537.4,1745.2 L533.6,1747.2 L529.8,1748.7 L526.0,1749.9 L522.2,1750.8 L518.4,1751.5 L514.6,1752.1 L510.8,1752.5 L507.0,1752.9 L503.2,1753.1 L499.4,1753.4 L495.6,1753.5 L491.8,1753.7 L488.0,1753.8 L484.2,1753.9 L480.4,1753.9 L476.6,1754.0 L472.8,1754.0 L469.0,1754.0 L465.2,1754.0 L461.4,1754.0 L457.6,1753.9 L453.8,1753.9 L450.0,1753.8 L446.2,1753.7 L442.4,1753.5 L438.6,1753.4 L434.8,1753.1 L431.0,1752.9 L427.2,1752.5 L423.4,1752.1 L419.6,1751.5 L415.8,1750.8 L412.0,1749.9 L408.2,1748.7 L404.4,1747.2 L400.6,1745.2 L396.8,1742.4 L393.0,1736.0 Z" fill="#010101" filter="url(#b2)" opacity="1.0" transform="rotate(-2 469 1736)"/>
<path d="M541.0,1734.5 L544.8,1729.2 L548.6,1727.1 L552.4,1725.8 L556.2,1724.9 L560.0,1724.3 L563.8,1723.9 L567.6,1723.7 L571.4,1723.5 L575.2,1723.5 L579.0,1723.5 L582.8,1723.5 L586.6,1723.6 L590.4,1723.7 L594.2,1723.7 L598.0,1723.8 L601.8,1723.9 L605.6,1723.9 L609.4,1724.0 L613.2,1724.0 L617.0,1724.0 L620.8,1724.0 L624.6,1724.0 L628.4,1723.9 L632.2,1723.9 L636.0,1723.8 L639.8,1723.7 L643.6,1723.7 L647.4,1723.6 L651.2,1723.5 L655.0,1723.5 L658.8,1723.5 L662.6,1723.5 L666.4,1723.7 L670.2,1723.9 L674.0,1724.3 L677.8,1724.9 L681.6,1725.8 L685.4,1727.1 L689.2,1729.2 L693.0,1734.5 L693.0,1734.5 L689.2,1740.4 L685.4,1743.1 L681.6,1744.9 L677.8,1746.3 L674.0,1747.3 L670.2,1748.1 L666.4,1748.8 L662.6,1749.3 L658.8,1749.7 L655.0,1750.0 L651.2,1750.2 L647.4,1750.4 L643.6,1750.6 L639.8,1750.7 L636.0,1750.8 L632.2,1750.9 L628.4,1750.9 L624.6,1751.0 L620.8,1751.0 L617.0,1751.0 L613.2,1751.0 L609.4,1751.0 L605.6,1750.9 L601.8,1750.9 L598.0,1750.8 L594.2,1750.7 L590.4,1750.6 L586.6,1750.4 L582.8,1750.2 L579.0,1750.0 L575.2,1749.7 L571.4,1749.3 L567.6,1748.8 L563.8,1748.1 L560.0,1747.3 L556.2,1746.3 L552.4,1744.9 L548.6,1743.1 L544.8,1740.4 L541.0,1734.5 Z" fill="#010101" filter="url(#b2)" opacity="1.0"/>
</g>
<clipPath id="cR1"><rect x="742.6" y="1331" width="493.4" height="150.5"/></clipPath>
<rect x="742.6" y="1331.0" width="493.4" height="150.5" fill="#d1d1d1"/>
<g clip-path="url(#cR1)">
<rect x="770.0" y="1420.0" width="440.0" height="62.0" fill="#c6c6c6" filter="url(#b12)"/>
<path d="M770.0,1407.0 L773.5,1402.0 L776.9,1400.1 L780.4,1398.8 L783.8,1398.0 L787.2,1397.4 L790.7,1397.1 L794.1,1396.8 L797.6,1396.7 L801.0,1396.6 L804.5,1396.6 L808.0,1396.6 L811.4,1396.7 L814.9,1396.7 L818.3,1396.8 L821.8,1396.9 L825.2,1396.9 L828.6,1396.9 L832.1,1397.0 L835.5,1397.0 L839.0,1397.0 L842.5,1397.0 L845.9,1397.0 L849.4,1396.9 L852.8,1396.9 L856.2,1396.9 L859.7,1396.8 L863.1,1396.7 L866.6,1396.7 L870.0,1396.6 L873.5,1396.6 L877.0,1396.6 L880.4,1396.7 L883.9,1396.8 L887.3,1397.1 L890.8,1397.4 L894.2,1398.0 L897.6,1398.8 L901.1,1400.1 L904.5,1402.0 L908.0,1407.0 L908.0,1407.0 L904.5,1412.5 L901.1,1414.9 L897.6,1416.5 L894.2,1417.8 L890.8,1418.8 L887.3,1419.5 L883.9,1420.1 L880.4,1420.5 L877.0,1420.9 L873.5,1421.1 L870.0,1421.4 L866.6,1421.5 L863.1,1421.7 L859.7,1421.8 L856.2,1421.8 L852.8,1421.9 L849.4,1421.9 L845.9,1422.0 L842.5,1422.0 L839.0,1422.0 L835.5,1422.0 L832.1,1422.0 L828.6,1421.9 L825.2,1421.9 L821.8,1421.8 L818.3,1421.8 L814.9,1421.7 L811.4,1421.5 L808.0,1421.4 L804.5,1421.1 L801.0,1420.9 L797.6,1420.5 L794.1,1420.1 L790.7,1419.5 L787.2,1418.8 L783.8,1417.8 L780.4,1416.5 L776.9,1414.9 L773.5,1412.5 L770.0,1407.0 Z" fill="#3a3a3a" filter="url(#b6)" opacity="0.4"/>
<path d="M776.0,1407.0 L779.1,1404.5 L782.3,1403.6 L785.5,1403.1 L788.6,1402.8 L791.8,1402.6 L794.9,1402.4 L798.0,1402.4 L801.2,1402.4 L804.4,1402.4 L807.5,1402.5 L810.6,1402.6 L813.8,1402.6 L817.0,1402.7 L820.1,1402.8 L823.2,1402.8 L826.4,1402.9 L829.5,1402.9 L832.7,1403.0 L835.9,1403.0 L839.0,1403.0 L842.1,1403.0 L845.3,1403.0 L848.5,1402.9 L851.6,1402.9 L854.8,1402.8 L857.9,1402.8 L861.0,1402.7 L864.2,1402.6 L867.4,1402.6 L870.5,1402.5 L873.6,1402.4 L876.8,1402.4 L880.0,1402.4 L883.1,1402.4 L886.2,1402.6 L889.4,1402.8 L892.5,1403.1 L895.7,1403.6 L898.9,1404.5 L902.0,1407.0 L902.0,1407.0 L898.9,1410.0 L895.7,1411.3 L892.5,1412.3 L889.4,1413.0 L886.2,1413.6 L883.1,1414.1 L880.0,1414.5 L876.8,1414.8 L873.6,1415.0 L870.5,1415.3 L867.4,1415.4 L864.2,1415.6 L861.0,1415.7 L857.9,1415.8 L854.8,1415.8 L851.6,1415.9 L848.5,1415.9 L845.3,1416.0 L842.1,1416.0 L839.0,1416.0 L835.9,1416.0 L832.7,1416.0 L829.5,1415.9 L826.4,1415.9 L823.2,1415.8 L820.1,1415.8 L817.0,1415.7 L813.8,1415.6 L810.6,1415.4 L807.5,1415.3 L804.4,1415.0 L801.2,1414.8 L798.0,1414.5 L794.9,1414.1 L791.8,1413.6 L788.6,1413.0 L785.5,1412.3 L782.3,1411.3 L779.1,1410.0 L776.0,1407.0 Z" fill="#101010" filter="url(#b2)" opacity="1.0"/>
<path d="M915.5,1407.0 L919.0,1400.4 L922.4,1397.7 L925.9,1396.0 L929.3,1394.8 L932.8,1394.0 L936.2,1393.5 L939.6,1393.1 L943.1,1392.9 L946.5,1392.7 L950.0,1392.7 L953.5,1392.7 L956.9,1392.7 L960.4,1392.7 L963.8,1392.8 L967.2,1392.9 L970.7,1392.9 L974.1,1392.9 L977.6,1393.0 L981.0,1393.0 L984.5,1393.0 L988.0,1393.0 L991.4,1393.0 L994.9,1392.9 L998.3,1392.9 L1001.8,1392.9 L1005.2,1392.8 L1008.6,1392.7 L1012.1,1392.7 L1015.5,1392.7 L1019.0,1392.7 L1022.5,1392.7 L1025.9,1392.9 L1029.3,1393.1 L1032.8,1393.5 L1036.2,1394.0 L1039.7,1394.8 L1043.2,1396.0 L1046.6,1397.7 L1050.0,1400.4 L1053.5,1407.0 L1053.5,1407.0 L1050.0,1414.1 L1046.6,1417.2 L1043.2,1419.4 L1039.7,1421.0 L1036.2,1422.2 L1032.8,1423.1 L1029.3,1423.8 L1025.9,1424.3 L1022.5,1424.8 L1019.0,1425.1 L1015.5,1425.3 L1012.1,1425.5 L1008.6,1425.6 L1005.2,1425.8 L1001.8,1425.8 L998.3,1425.9 L994.9,1425.9 L991.4,1426.0 L988.0,1426.0 L984.5,1426.0 L981.0,1426.0 L977.6,1426.0 L974.1,1425.9 L970.7,1425.9 L967.2,1425.8 L963.8,1425.8 L960.4,1425.6 L956.9,1425.5 L953.5,1425.3 L950.0,1425.1 L946.5,1424.8 L943.1,1424.3 L939.6,1423.8 L936.2,1423.1 L932.8,1422.2 L929.3,1421.0 L925.9,1419.4 L922.4,1417.2 L919.0,1414.1 L915.5,1407.0 Z" fill="#3a3a3a" filter="url(#b6)" opacity="0.45" transform="rotate(-2 984.5 1407)"/>
<path d="M921.5,1407.0 L924.6,1402.9 L927.8,1401.3 L931.0,1400.3 L934.1,1399.6 L937.2,1399.1 L940.4,1398.9 L943.5,1398.7 L946.7,1398.6 L949.9,1398.6 L953.0,1398.6 L956.1,1398.6 L959.3,1398.7 L962.5,1398.7 L965.6,1398.8 L968.8,1398.8 L971.9,1398.9 L975.0,1398.9 L978.2,1399.0 L981.4,1399.0 L984.5,1399.0 L987.6,1399.0 L990.8,1399.0 L994.0,1398.9 L997.1,1398.9 L1000.2,1398.8 L1003.4,1398.8 L1006.5,1398.7 L1009.7,1398.7 L1012.9,1398.6 L1016.0,1398.6 L1019.1,1398.6 L1022.3,1398.6 L1025.5,1398.7 L1028.6,1398.9 L1031.8,1399.1 L1034.9,1399.6 L1038.0,1400.3 L1041.2,1401.3 L1044.3,1402.9 L1047.5,1407.0 L1047.5,1407.0 L1044.3,1411.6 L1041.2,1413.7 L1038.0,1415.1 L1034.9,1416.2 L1031.8,1417.0 L1028.6,1417.7 L1025.5,1418.2 L1022.3,1418.6 L1019.1,1418.9 L1016.0,1419.2 L1012.9,1419.4 L1009.7,1419.5 L1006.5,1419.7 L1003.4,1419.8 L1000.2,1419.8 L997.1,1419.9 L994.0,1419.9 L990.8,1420.0 L987.6,1420.0 L984.5,1420.0 L981.4,1420.0 L978.2,1420.0 L975.0,1419.9 L971.9,1419.9 L968.8,1419.8 L965.6,1419.8 L962.5,1419.7 L959.3,1419.5 L956.1,1419.4 L953.0,1419.2 L949.9,1418.9 L946.7,1418.6 L943.5,1418.2 L940.4,1417.7 L937.2,1417.0 L934.1,1416.2 L931.0,1415.1 L927.8,1413.7 L924.6,1411.6 L921.5,1407.0 Z" fill="#050505" filter="url(#b2)" opacity="1.0" transform="rotate(-2 984.5 1407)"/>
<path d="M1058.0,1405.5 L1061.6,1398.9 L1065.2,1396.2 L1068.8,1394.5 L1072.4,1393.3 L1076.0,1392.5 L1079.6,1392.0 L1083.2,1391.6 L1086.8,1391.4 L1090.4,1391.2 L1094.0,1391.2 L1097.6,1391.2 L1101.2,1391.2 L1104.8,1391.2 L1108.4,1391.3 L1112.0,1391.4 L1115.6,1391.4 L1119.2,1391.4 L1122.8,1391.5 L1126.4,1391.5 L1130.0,1391.5 L1133.6,1391.5 L1137.2,1391.5 L1140.8,1391.4 L1144.4,1391.4 L1148.0,1391.4 L1151.6,1391.3 L1155.2,1391.2 L1158.8,1391.2 L1162.4,1391.2 L1166.0,1391.2 L1169.6,1391.2 L1173.2,1391.4 L1176.8,1391.6 L1180.4,1392.0 L1184.0,1392.5 L1187.6,1393.3 L1191.2,1394.5 L1194.8,1396.2 L1198.4,1398.9 L1202.0,1405.5 L1202.0,1405.5 L1198.4,1412.6 L1194.8,1415.7 L1191.2,1417.9 L1187.6,1419.5 L1184.0,1420.7 L1180.4,1421.6 L1176.8,1422.3 L1173.2,1422.8 L1169.6,1423.3 L1166.0,1423.6 L1162.4,1423.8 L1158.8,1424.0 L1155.2,1424.1 L1151.6,1424.3 L1148.0,1424.3 L1144.4,1424.4 L1140.8,1424.4 L1137.2,1424.5 L1133.6,1424.5 L1130.0,1424.5 L1126.4,1424.5 L1122.8,1424.5 L1119.2,1424.4 L1115.6,1424.4 L1112.0,1424.3 L1108.4,1424.3 L1104.8,1424.1 L1101.2,1424.0 L1097.6,1423.8 L1094.0,1423.6 L1090.4,1423.3 L1086.8,1422.8 L1083.2,1422.3 L1079.6,1421.6 L1076.0,1420.7 L1072.4,1419.5 L1068.8,1417.9 L1065.2,1415.7 L1061.6,1412.6 L1058.0,1405.5 Z" fill="#3a3a3a" filter="url(#b6)" opacity="0.45" transform="rotate(-1 1130 1405.5)"/>
<path d="M1064.0,1405.5 L1067.3,1401.4 L1070.6,1399.8 L1073.9,1398.8 L1077.2,1398.1 L1080.5,1397.6 L1083.8,1397.4 L1087.1,1397.2 L1090.4,1397.1 L1093.7,1397.1 L1097.0,1397.1 L1100.3,1397.1 L1103.6,1397.2 L1106.9,1397.2 L1110.2,1397.3 L1113.5,1397.3 L1116.8,1397.4 L1120.1,1397.4 L1123.4,1397.5 L1126.7,1397.5 L1130.0,1397.5 L1133.3,1397.5 L1136.6,1397.5 L1139.9,1397.4 L1143.2,1397.4 L1146.5,1397.3 L1149.8,1397.3 L1153.1,1397.2 L1156.4,1397.2 L1159.7,1397.1 L1163.0,1397.1 L1166.3,1397.1 L1169.6,1397.1 L1172.9,1397.2 L1176.2,1397.4 L1179.5,1397.6 L1182.8,1398.1 L1186.1,1398.8 L1189.4,1399.8 L1192.7,1401.4 L1196.0,1405.5 L1196.0,1405.5 L1192.7,1410.1 L1189.4,1412.2 L1186.1,1413.6 L1182.8,1414.7 L1179.5,1415.5 L1176.2,1416.2 L1172.9,1416.7 L1169.6,1417.1 L1166.3,1417.4 L1163.0,1417.7 L1159.7,1417.9 L1156.4,1418.0 L1153.1,1418.2 L1149.8,1418.3 L1146.5,1418.3 L1143.2,1418.4 L1139.9,1418.4 L1136.6,1418.5 L1133.3,1418.5 L1130.0,1418.5 L1126.7,1418.5 L1123.4,1418.5 L1120.1,1418.4 L1116.8,1418.4 L1113.5,1418.3 L1110.2,1418.3 L1106.9,1418.2 L1103.6,1418.0 L1100.3,1417.9 L1097.0,1417.7 L1093.7,1417.4 L1090.4,1417.1 L1087.1,1416.7 L1083.8,1416.2 L1080.5,1415.5 L1077.2,1414.7 L1073.9,1413.6 L1070.6,1412.2 L1067.3,1410.1 L1064.0,1405.5 Z" fill="#050505" filter="url(#b2)" opacity="1.0" transform="rotate(-1 1130 1405.5)"/>
</g>
<clipPath id="cR2"><rect x="742.6" y="1501.8" width="493.4" height="148"/></clipPath>
<rect x="742.6" y="1501.8" width="493.4" height="148.0" fill="#bababa"/>
<g clip-path="url(#cR2)">
<rect x="1060.0" y="1491.8" width="190.0" height="168.0" fill="#d0d0d0" filter="url(#b6)"/>
<rect x="737.6" y="1600.0" width="330.0" height="60.0" fill="#c6c6c6" filter="url(#b12)"/>
<rect x="732.6" y="1491.8" width="335.0" height="85.0" fill="#9a9a9a" filter="url(#b12)" opacity="0.55"/>
<rect x="742.6" y="1501.8" width="493.4" height="148.0" fill="#000" filter="url(#noise)"/>
<path d="M763.0,1581.0 L765.8,1577.1 L768.6,1575.5 L771.4,1574.3 L774.2,1573.5 L777.0,1572.9 L779.8,1572.4 L782.6,1572.1 L785.4,1571.8 L788.2,1571.6 L791.0,1571.4 L793.8,1571.3 L796.6,1571.2 L799.4,1571.2 L802.2,1571.1 L805.0,1571.1 L807.8,1571.0 L810.6,1571.0 L813.4,1571.0 L816.2,1571.0 L819.0,1571.0 L821.8,1571.0 L824.6,1571.0 L827.4,1571.0 L830.2,1571.0 L833.0,1571.1 L835.8,1571.1 L838.6,1571.2 L841.4,1571.2 L844.2,1571.3 L847.0,1571.4 L849.8,1571.6 L852.6,1571.8 L855.4,1572.1 L858.2,1572.4 L861.0,1572.9 L863.8,1573.5 L866.6,1574.3 L869.4,1575.5 L872.2,1577.1 L875.0,1581.0 L875.0,1581.0 L872.2,1584.7 L869.4,1586.1 L866.6,1587.1 L863.8,1587.8 L861.0,1588.2 L858.2,1588.6 L855.4,1588.8 L852.6,1588.9 L849.8,1589.0 L847.0,1589.1 L844.2,1589.1 L841.4,1589.1 L838.6,1589.1 L835.8,1589.1 L833.0,1589.1 L830.2,1589.0 L827.4,1589.0 L824.6,1589.0 L821.8,1589.0 L819.0,1589.0 L816.2,1589.0 L813.4,1589.0 L810.6,1589.0 L807.8,1589.0 L805.0,1589.1 L802.2,1589.1 L799.4,1589.1 L796.6,1589.1 L793.8,1589.1 L791.0,1589.1 L788.2,1589.0 L785.4,1588.9 L782.6,1588.8 L779.8,1588.6 L777.0,1588.2 L774.2,1587.8 L771.4,1587.1 L768.6,1586.1 L765.8,1584.7 L763.0,1581.0 Z" fill="#3a3a3a" filter="url(#b6)" opacity="0.3" transform="rotate(2 819 1581)"/>
<path d="M766.0,1581.0 L768.6,1578.4 L771.3,1577.3 L774.0,1576.5 L776.6,1575.9 L779.2,1575.4 L781.9,1575.1 L784.5,1574.8 L787.2,1574.6 L789.9,1574.5 L792.5,1574.4 L795.1,1574.3 L797.8,1574.2 L800.5,1574.1 L803.1,1574.1 L805.8,1574.1 L808.4,1574.0 L811.0,1574.0 L813.7,1574.0 L816.4,1574.0 L819.0,1574.0 L821.6,1574.0 L824.3,1574.0 L827.0,1574.0 L829.6,1574.0 L832.2,1574.1 L834.9,1574.1 L837.5,1574.1 L840.2,1574.2 L842.9,1574.3 L845.5,1574.4 L848.1,1574.5 L850.8,1574.6 L853.5,1574.8 L856.1,1575.1 L858.8,1575.4 L861.4,1575.9 L864.0,1576.5 L866.7,1577.3 L869.4,1578.4 L872.0,1581.0 L872.0,1581.0 L869.4,1583.4 L866.7,1584.4 L864.0,1585.0 L861.4,1585.4 L858.8,1585.7 L856.1,1585.9 L853.5,1586.0 L850.8,1586.1 L848.1,1586.1 L845.5,1586.1 L842.9,1586.1 L840.2,1586.1 L837.5,1586.1 L834.9,1586.1 L832.2,1586.1 L829.6,1586.0 L827.0,1586.0 L824.3,1586.0 L821.6,1586.0 L819.0,1586.0 L816.4,1586.0 L813.7,1586.0 L811.0,1586.0 L808.4,1586.0 L805.8,1586.1 L803.1,1586.1 L800.5,1586.1 L797.8,1586.1 L795.1,1586.1 L792.5,1586.1 L789.9,1586.1 L787.2,1586.1 L784.5,1586.0 L781.9,1585.9 L779.2,1585.7 L776.6,1585.4 L774.0,1585.0 L771.3,1584.4 L768.6,1583.4 L766.0,1581.0 Z" fill="#080808" filter="url(#b2)" opacity="1.0" transform="rotate(2 819 1581)"/>
<path d="M862.0,1584.0 L862.6,1583.0 L863.3,1582.5 L864.0,1582.2 L864.6,1582.0 L865.2,1581.9 L865.9,1581.8 L866.5,1581.7 L867.2,1581.6 L867.9,1581.6 L868.5,1581.5 L869.1,1581.5 L869.8,1581.5 L870.5,1581.5 L871.1,1581.5 L871.8,1581.5 L872.4,1581.5 L873.0,1581.5 L873.7,1581.5 L874.4,1581.5 L875.0,1581.5 L875.6,1581.5 L876.3,1581.5 L877.0,1581.5 L877.6,1581.5 L878.2,1581.5 L878.9,1581.5 L879.5,1581.5 L880.2,1581.5 L880.9,1581.5 L881.5,1581.5 L882.1,1581.6 L882.8,1581.6 L883.5,1581.7 L884.1,1581.8 L884.8,1581.9 L885.4,1582.0 L886.0,1582.2 L886.7,1582.5 L887.4,1583.0 L888.0,1584.0 L888.0,1584.0 L887.4,1585.0 L886.7,1585.5 L886.0,1585.8 L885.4,1586.0 L884.8,1586.1 L884.1,1586.2 L883.5,1586.3 L882.8,1586.4 L882.1,1586.4 L881.5,1586.5 L880.9,1586.5 L880.2,1586.5 L879.5,1586.5 L878.9,1586.5 L878.2,1586.5 L877.6,1586.5 L877.0,1586.5 L876.3,1586.5 L875.6,1586.5 L875.0,1586.5 L874.4,1586.5 L873.7,1586.5 L873.0,1586.5 L872.4,1586.5 L871.8,1586.5 L871.1,1586.5 L870.5,1586.5 L869.8,1586.5 L869.1,1586.5 L868.5,1586.5 L867.9,1586.4 L867.2,1586.4 L866.5,1586.3 L865.9,1586.2 L865.2,1586.1 L864.6,1586.0 L864.0,1585.8 L863.3,1585.5 L862.6,1585.0 L862.0,1584.0 Z" fill="#555" filter="url(#b3)" opacity="0.8"/>
<path d="M912.5,1585.0 L915.6,1581.2 L918.8,1579.7 L922.0,1578.7 L925.1,1578.0 L928.2,1577.6 L931.4,1577.2 L934.5,1577.0 L937.7,1576.9 L940.9,1576.8 L944.0,1576.8 L947.1,1576.8 L950.3,1576.8 L953.5,1576.8 L956.6,1576.9 L959.8,1576.9 L962.9,1576.9 L966.0,1577.0 L969.2,1577.0 L972.4,1577.0 L975.5,1577.0 L978.6,1577.0 L981.8,1577.0 L985.0,1577.0 L988.1,1576.9 L991.2,1576.9 L994.4,1576.9 L997.5,1576.8 L1000.7,1576.8 L1003.9,1576.8 L1007.0,1576.8 L1010.1,1576.8 L1013.3,1576.9 L1016.5,1577.0 L1019.6,1577.2 L1022.8,1577.6 L1025.9,1578.0 L1029.0,1578.7 L1032.2,1579.7 L1035.3,1581.2 L1038.5,1585.0 L1038.5,1585.0 L1035.3,1589.1 L1032.2,1590.9 L1029.0,1592.1 L1025.9,1593.1 L1022.8,1593.8 L1019.6,1594.3 L1016.5,1594.7 L1013.3,1595.0 L1010.1,1595.3 L1007.0,1595.4 L1003.9,1595.6 L1000.7,1595.7 L997.5,1595.8 L994.4,1595.9 L991.2,1595.9 L988.1,1595.9 L985.0,1596.0 L981.8,1596.0 L978.6,1596.0 L975.5,1596.0 L972.4,1596.0 L969.2,1596.0 L966.0,1596.0 L962.9,1595.9 L959.8,1595.9 L956.6,1595.9 L953.5,1595.8 L950.3,1595.7 L947.1,1595.6 L944.0,1595.4 L940.9,1595.3 L937.7,1595.0 L934.5,1594.7 L931.4,1594.3 L928.2,1593.8 L925.1,1593.1 L922.0,1592.1 L918.8,1590.9 L915.6,1589.1 L912.5,1585.0 Z" fill="#3a3a3a" filter="url(#b6)" opacity="0.3"/>
<path d="M915.5,1585.0 L918.5,1582.4 L921.5,1581.4 L924.5,1580.8 L927.5,1580.4 L930.5,1580.1 L933.5,1579.9 L936.5,1579.8 L939.5,1579.8 L942.5,1579.7 L945.5,1579.7 L948.5,1579.8 L951.5,1579.8 L954.5,1579.8 L957.5,1579.9 L960.5,1579.9 L963.5,1579.9 L966.5,1580.0 L969.5,1580.0 L972.5,1580.0 L975.5,1580.0 L978.5,1580.0 L981.5,1580.0 L984.5,1580.0 L987.5,1579.9 L990.5,1579.9 L993.5,1579.9 L996.5,1579.8 L999.5,1579.8 L1002.5,1579.8 L1005.5,1579.7 L1008.5,1579.7 L1011.5,1579.8 L1014.5,1579.8 L1017.5,1579.9 L1020.5,1580.1 L1023.5,1580.4 L1026.5,1580.8 L1029.5,1581.4 L1032.5,1582.4 L1035.5,1585.0 L1035.5,1585.0 L1032.5,1587.9 L1029.5,1589.1 L1026.5,1590.0 L1023.5,1590.7 L1020.5,1591.2 L1017.5,1591.6 L1014.5,1591.9 L1011.5,1592.2 L1008.5,1592.4 L1005.5,1592.5 L1002.5,1592.6 L999.5,1592.7 L996.5,1592.8 L993.5,1592.9 L990.5,1592.9 L987.5,1592.9 L984.5,1593.0 L981.5,1593.0 L978.5,1593.0 L975.5,1593.0 L972.5,1593.0 L969.5,1593.0 L966.5,1593.0 L963.5,1592.9 L960.5,1592.9 L957.5,1592.9 L954.5,1592.8 L951.5,1592.7 L948.5,1592.6 L945.5,1592.5 L942.5,1592.4 L939.5,1592.2 L936.5,1591.9 L933.5,1591.6 L930.5,1591.2 L927.5,1590.7 L924.5,1590.0 L921.5,1589.1 L918.5,1587.9 L915.5,1585.0 Z" fill="#080808" filter="url(#b2)" opacity="1.0"/>
<path d="M1071.5,1575.0 L1074.5,1571.4 L1077.6,1569.8 L1080.7,1568.7 L1083.7,1567.9 L1086.8,1567.3 L1089.8,1566.9 L1092.8,1566.5 L1095.9,1566.3 L1099.0,1566.1 L1102.0,1565.9 L1105.0,1565.8 L1108.1,1565.7 L1111.2,1565.6 L1114.2,1565.6 L1117.2,1565.6 L1120.3,1565.5 L1123.3,1565.5 L1126.4,1565.5 L1129.5,1565.5 L1132.5,1565.5 L1135.5,1565.5 L1138.6,1565.5 L1141.7,1565.5 L1144.7,1565.5 L1147.8,1565.6 L1150.8,1565.6 L1153.8,1565.6 L1156.9,1565.7 L1160.0,1565.8 L1163.0,1565.9 L1166.0,1566.1 L1169.1,1566.3 L1172.2,1566.5 L1175.2,1566.9 L1178.2,1567.3 L1181.3,1567.9 L1184.3,1568.7 L1187.4,1569.8 L1190.5,1571.4 L1193.5,1575.0 L1193.5,1575.0 L1190.5,1578.4 L1187.4,1579.8 L1184.3,1580.7 L1181.3,1581.4 L1178.2,1581.8 L1175.2,1582.1 L1172.2,1582.3 L1169.1,1582.5 L1166.0,1582.5 L1163.0,1582.6 L1160.0,1582.6 L1156.9,1582.6 L1153.8,1582.6 L1150.8,1582.6 L1147.8,1582.6 L1144.7,1582.5 L1141.7,1582.5 L1138.6,1582.5 L1135.5,1582.5 L1132.5,1582.5 L1129.5,1582.5 L1126.4,1582.5 L1123.3,1582.5 L1120.3,1582.5 L1117.2,1582.6 L1114.2,1582.6 L1111.2,1582.6 L1108.1,1582.6 L1105.0,1582.6 L1102.0,1582.6 L1099.0,1582.5 L1095.9,1582.5 L1092.8,1582.3 L1089.8,1582.1 L1086.8,1581.8 L1083.7,1581.4 L1080.7,1580.7 L1077.6,1579.8 L1074.5,1578.4 L1071.5,1575.0 Z" fill="#3a3a3a" filter="url(#b6)" opacity="0.3" transform="rotate(-1.5 1132.5 1575)"/>
<path d="M1074.5,1575.0 L1077.4,1572.6 L1080.3,1571.6 L1083.2,1570.8 L1086.1,1570.3 L1089.0,1569.9 L1091.9,1569.6 L1094.8,1569.3 L1097.7,1569.1 L1100.6,1569.0 L1103.5,1568.9 L1106.4,1568.8 L1109.3,1568.7 L1112.2,1568.6 L1115.1,1568.6 L1118.0,1568.6 L1120.9,1568.5 L1123.8,1568.5 L1126.7,1568.5 L1129.6,1568.5 L1132.5,1568.5 L1135.4,1568.5 L1138.3,1568.5 L1141.2,1568.5 L1144.1,1568.5 L1147.0,1568.6 L1149.9,1568.6 L1152.8,1568.6 L1155.7,1568.7 L1158.6,1568.8 L1161.5,1568.9 L1164.4,1569.0 L1167.3,1569.1 L1170.2,1569.3 L1173.1,1569.6 L1176.0,1569.9 L1178.9,1570.3 L1181.8,1570.8 L1184.7,1571.6 L1187.6,1572.6 L1190.5,1575.0 L1190.5,1575.0 L1187.6,1577.2 L1184.7,1578.1 L1181.8,1578.6 L1178.9,1579.0 L1176.0,1579.3 L1173.1,1579.4 L1170.2,1579.5 L1167.3,1579.6 L1164.4,1579.6 L1161.5,1579.6 L1158.6,1579.6 L1155.7,1579.6 L1152.8,1579.6 L1149.9,1579.6 L1147.0,1579.6 L1144.1,1579.5 L1141.2,1579.5 L1138.3,1579.5 L1135.4,1579.5 L1132.5,1579.5 L1129.6,1579.5 L1126.7,1579.5 L1123.8,1579.5 L1120.9,1579.5 L1118.0,1579.6 L1115.1,1579.6 L1112.2,1579.6 L1109.3,1579.6 L1106.4,1579.6 L1103.5,1579.6 L1100.6,1579.6 L1097.7,1579.6 L1094.8,1579.5 L1091.9,1579.4 L1089.0,1579.3 L1086.1,1579.0 L1083.2,1578.6 L1080.3,1578.1 L1077.4,1577.2 L1074.5,1575.0 Z" fill="#080808" filter="url(#b2)" opacity="1.0" transform="rotate(-1.5 1132.5 1575)"/>
</g>
<clipPath id="cR3"><rect x="742.6" y="1667.5" width="493.4" height="153.5"/></clipPath>
<rect x="742.6" y="1667.5" width="493.4" height="153.5" fill="#d8d8d8"/>
<g clip-path="url(#cR3)">
<rect x="742.6" y="1705.0" width="493.4" height="75.0" fill="#c8c8c8" filter="url(#b12)"/>
<path d="M757.0,1744.0 L768.6,1735.7 L780.3,1732.2 L792.0,1729.8 L803.6,1728.2 L815.2,1726.9 L826.9,1726.1 L838.5,1725.4 L850.2,1724.9 L861.9,1724.6 L873.5,1724.4 L885.1,1724.2 L896.8,1724.1 L908.5,1724.1 L920.1,1724.0 L931.8,1724.0 L943.4,1724.0 L955.0,1724.0 L966.7,1724.0 L978.4,1724.0 L990.0,1724.0 L1001.6,1724.0 L1013.3,1724.0 L1025.0,1724.0 L1036.6,1724.0 L1048.2,1724.0 L1059.9,1724.0 L1071.5,1724.1 L1083.2,1724.1 L1094.8,1724.2 L1106.5,1724.4 L1118.2,1724.6 L1129.8,1724.9 L1141.5,1725.4 L1153.1,1726.1 L1164.8,1726.9 L1176.4,1728.2 L1188.0,1729.8 L1199.7,1732.2 L1211.3,1735.7 L1223.0,1744.0 L1223.0,1744.0 L1211.3,1752.3 L1199.7,1755.8 L1188.0,1758.2 L1176.4,1759.8 L1164.8,1761.1 L1153.1,1761.9 L1141.5,1762.6 L1129.8,1763.1 L1118.2,1763.4 L1106.5,1763.6 L1094.8,1763.8 L1083.2,1763.9 L1071.5,1763.9 L1059.9,1764.0 L1048.2,1764.0 L1036.6,1764.0 L1025.0,1764.0 L1013.3,1764.0 L1001.6,1764.0 L990.0,1764.0 L978.4,1764.0 L966.7,1764.0 L955.0,1764.0 L943.4,1764.0 L931.8,1764.0 L920.1,1764.0 L908.5,1763.9 L896.8,1763.9 L885.1,1763.8 L873.5,1763.6 L861.9,1763.4 L850.2,1763.1 L838.5,1762.6 L826.9,1761.9 L815.2,1761.1 L803.6,1759.8 L792.0,1758.2 L780.3,1755.8 L768.6,1752.3 L757.0,1744.0 Z" fill="#444" filter="url(#b6)" opacity="0.5"/>
<path d="M769.0,1740.5 L772.9,1735.2 L776.7,1733.0 L780.5,1731.6 L784.4,1730.6 L788.2,1729.9 L792.1,1729.3 L796.0,1729.0 L799.8,1728.7 L803.6,1728.6 L807.5,1728.5 L811.4,1728.4 L815.2,1728.4 L819.0,1728.4 L822.9,1728.4 L826.8,1728.4 L830.6,1728.5 L834.5,1728.5 L838.3,1728.5 L842.1,1728.5 L846.0,1728.5 L849.9,1728.5 L853.7,1728.5 L857.5,1728.5 L861.4,1728.5 L865.2,1728.4 L869.1,1728.4 L873.0,1728.4 L876.8,1728.4 L880.6,1728.4 L884.5,1728.5 L888.4,1728.6 L892.2,1728.7 L896.0,1729.0 L899.9,1729.3 L903.8,1729.9 L907.6,1730.6 L911.5,1731.6 L915.3,1733.0 L919.1,1735.2 L923.0,1740.5 L923.0,1740.5 L919.1,1746.0 L915.3,1748.4 L911.5,1750.0 L907.6,1751.2 L903.8,1752.0 L899.9,1752.7 L896.0,1753.2 L892.2,1753.5 L888.4,1753.8 L884.5,1754.0 L880.6,1754.2 L876.8,1754.3 L873.0,1754.3 L869.1,1754.4 L865.2,1754.4 L861.4,1754.5 L857.5,1754.5 L853.7,1754.5 L849.9,1754.5 L846.0,1754.5 L842.1,1754.5 L838.3,1754.5 L834.5,1754.5 L830.6,1754.5 L826.8,1754.4 L822.9,1754.4 L819.0,1754.3 L815.2,1754.3 L811.4,1754.2 L807.5,1754.0 L803.6,1753.8 L799.8,1753.5 L796.0,1753.2 L792.1,1752.7 L788.2,1752.0 L784.4,1751.2 L780.5,1750.0 L776.7,1748.4 L772.9,1746.0 L769.0,1740.5 Z" fill="#010101" filter="url(#b2)" opacity="1.0" transform="rotate(4 846 1740.5)"/>
<path d="M913.0,1746.0 L917.0,1740.3 L921.0,1737.9 L925.0,1736.4 L929.0,1735.3 L933.0,1734.5 L937.0,1733.9 L941.0,1733.6 L945.0,1733.3 L949.0,1733.1 L953.0,1733.0 L957.0,1733.0 L961.0,1732.9 L965.0,1732.9 L969.0,1732.9 L973.0,1732.9 L977.0,1733.0 L981.0,1733.0 L985.0,1733.0 L989.0,1733.0 L993.0,1733.0 L997.0,1733.0 L1001.0,1733.0 L1005.0,1733.0 L1009.0,1733.0 L1013.0,1732.9 L1017.0,1732.9 L1021.0,1732.9 L1025.0,1732.9 L1029.0,1733.0 L1033.0,1733.0 L1037.0,1733.1 L1041.0,1733.3 L1045.0,1733.6 L1049.0,1733.9 L1053.0,1734.5 L1057.0,1735.3 L1061.0,1736.4 L1065.0,1737.9 L1069.0,1740.3 L1073.0,1746.0 L1073.0,1746.0 L1069.0,1751.9 L1065.0,1754.5 L1061.0,1756.2 L1057.0,1757.4 L1053.0,1758.4 L1049.0,1759.1 L1045.0,1759.6 L1041.0,1760.0 L1037.0,1760.3 L1033.0,1760.5 L1029.0,1760.6 L1025.0,1760.8 L1021.0,1760.8 L1017.0,1760.9 L1013.0,1760.9 L1009.0,1761.0 L1005.0,1761.0 L1001.0,1761.0 L997.0,1761.0 L993.0,1761.0 L989.0,1761.0 L985.0,1761.0 L981.0,1761.0 L977.0,1761.0 L973.0,1760.9 L969.0,1760.9 L965.0,1760.8 L961.0,1760.8 L957.0,1760.6 L953.0,1760.5 L949.0,1760.3 L945.0,1760.0 L941.0,1759.6 L937.0,1759.1 L933.0,1758.4 L929.0,1757.4 L925.0,1756.2 L921.0,1754.5 L917.0,1751.9 L913.0,1746.0 Z" fill="#010101" filter="url(#b2)" opacity="1.0"/>
<rect x="1100" y="1732.5" width="110" height="27" rx="11" fill="#010101" filter="url(#b2)"/>
<path d="M1092.0,1746.0 L1095.2,1740.2 L1098.3,1737.7 L1101.5,1736.1 L1104.6,1734.9 L1107.8,1734.1 L1110.9,1733.4 L1114.0,1733.0 L1117.2,1732.7 L1120.3,1732.4 L1123.5,1732.3 L1126.7,1732.2 L1129.8,1732.1 L1133.0,1732.0 L1136.1,1732.0 L1139.2,1732.0 L1142.4,1732.0 L1145.5,1732.0 L1148.7,1732.0 L1151.8,1732.0 L1155.0,1732.0 L1158.2,1732.0 L1161.3,1732.0 L1164.5,1732.0 L1167.6,1732.0 L1170.8,1732.0 L1173.9,1732.0 L1177.0,1732.0 L1180.2,1732.1 L1183.3,1732.2 L1186.5,1732.3 L1189.7,1732.4 L1192.8,1732.7 L1196.0,1733.0 L1199.1,1733.4 L1202.2,1734.1 L1205.4,1734.9 L1208.5,1736.1 L1211.7,1737.7 L1214.8,1740.2 L1218.0,1746.0 L1218.0,1746.0 L1214.8,1751.8 L1211.7,1754.3 L1208.5,1755.9 L1205.4,1757.1 L1202.2,1757.9 L1199.1,1758.6 L1196.0,1759.0 L1192.8,1759.3 L1189.7,1759.6 L1186.5,1759.7 L1183.3,1759.8 L1180.2,1759.9 L1177.0,1760.0 L1173.9,1760.0 L1170.8,1760.0 L1167.6,1760.0 L1164.5,1760.0 L1161.3,1760.0 L1158.2,1760.0 L1155.0,1760.0 L1151.8,1760.0 L1148.7,1760.0 L1145.5,1760.0 L1142.4,1760.0 L1139.2,1760.0 L1136.1,1760.0 L1133.0,1760.0 L1129.8,1759.9 L1126.7,1759.8 L1123.5,1759.7 L1120.3,1759.6 L1117.2,1759.3 L1114.0,1759.0 L1110.9,1758.6 L1107.8,1757.9 L1104.6,1757.1 L1101.5,1755.9 L1098.3,1754.3 L1095.2,1751.8 L1092.0,1746.0 Z" fill="#010101" filter="url(#b2)" opacity="1.0"/>
<path d="M1067.0,1744.0 L1067.8,1743.0 L1068.5,1742.5 L1069.2,1742.2 L1070.0,1742.0 L1070.8,1741.9 L1071.5,1741.8 L1072.2,1741.7 L1073.0,1741.6 L1073.8,1741.6 L1074.5,1741.5 L1075.2,1741.5 L1076.0,1741.5 L1076.8,1741.5 L1077.5,1741.5 L1078.2,1741.5 L1079.0,1741.5 L1079.8,1741.5 L1080.5,1741.5 L1081.2,1741.5 L1082.0,1741.5 L1082.8,1741.5 L1083.5,1741.5 L1084.2,1741.5 L1085.0,1741.5 L1085.8,1741.5 L1086.5,1741.5 L1087.2,1741.5 L1088.0,1741.5 L1088.8,1741.5 L1089.5,1741.5 L1090.2,1741.6 L1091.0,1741.6 L1091.8,1741.7 L1092.5,1741.8 L1093.2,1741.9 L1094.0,1742.0 L1094.8,1742.2 L1095.5,1742.5 L1096.2,1743.0 L1097.0,1744.0 L1097.0,1744.0 L1096.2,1745.0 L1095.5,1745.5 L1094.8,1745.8 L1094.0,1746.0 L1093.2,1746.1 L1092.5,1746.2 L1091.8,1746.3 L1091.0,1746.4 L1090.2,1746.4 L1089.5,1746.5 L1088.8,1746.5 L1088.0,1746.5 L1087.2,1746.5 L1086.5,1746.5 L1085.8,1746.5 L1085.0,1746.5 L1084.2,1746.5 L1083.5,1746.5 L1082.8,1746.5 L1082.0,1746.5 L1081.2,1746.5 L1080.5,1746.5 L1079.8,1746.5 L1079.0,1746.5 L1078.2,1746.5 L1077.5,1746.5 L1076.8,1746.5 L1076.0,1746.5 L1075.2,1746.5 L1074.5,1746.5 L1073.8,1746.4 L1073.0,1746.4 L1072.2,1746.3 L1071.5,1746.2 L1070.8,1746.1 L1070.0,1746.0 L1069.2,1745.8 L1068.5,1745.5 L1067.8,1745.0 L1067.0,1744.0 Z" fill="#222" filter="url(#b2)" opacity="1.0"/>
<path d="M1221.0,1746.0 L1221.3,1744.7 L1221.7,1744.2 L1222.0,1743.9 L1222.4,1743.6 L1222.8,1743.4 L1223.1,1743.3 L1223.5,1743.2 L1223.8,1743.1 L1224.2,1743.1 L1224.5,1743.1 L1224.8,1743.0 L1225.2,1743.0 L1225.5,1743.0 L1225.9,1743.0 L1226.2,1743.0 L1226.6,1743.0 L1227.0,1743.0 L1227.3,1743.0 L1227.7,1743.0 L1228.0,1743.0 L1228.3,1743.0 L1228.7,1743.0 L1229.0,1743.0 L1229.4,1743.0 L1229.8,1743.0 L1230.1,1743.0 L1230.5,1743.0 L1230.8,1743.0 L1231.2,1743.0 L1231.5,1743.1 L1231.8,1743.1 L1232.2,1743.1 L1232.5,1743.2 L1232.9,1743.3 L1233.2,1743.4 L1233.6,1743.6 L1234.0,1743.9 L1234.3,1744.2 L1234.7,1744.7 L1235.0,1746.0 L1235.0,1746.0 L1234.7,1747.3 L1234.3,1747.8 L1234.0,1748.1 L1233.6,1748.4 L1233.2,1748.6 L1232.9,1748.7 L1232.5,1748.8 L1232.2,1748.9 L1231.8,1748.9 L1231.5,1748.9 L1231.2,1749.0 L1230.8,1749.0 L1230.5,1749.0 L1230.1,1749.0 L1229.8,1749.0 L1229.4,1749.0 L1229.0,1749.0 L1228.7,1749.0 L1228.3,1749.0 L1228.0,1749.0 L1227.7,1749.0 L1227.3,1749.0 L1227.0,1749.0 L1226.6,1749.0 L1226.2,1749.0 L1225.9,1749.0 L1225.5,1749.0 L1225.2,1749.0 L1224.8,1749.0 L1224.5,1748.9 L1224.2,1748.9 L1223.8,1748.9 L1223.5,1748.8 L1223.1,1748.7 L1222.8,1748.6 L1222.4,1748.4 L1222.0,1748.1 L1221.7,1747.8 L1221.3,1747.3 L1221.0,1746.0 Z" fill="#555" filter="url(#b2)" opacity="1.0"/>
</g>
<text x="309.5" y="1305.3" font-family="'Liberation Serif', serif" font-size="42.5" text-anchor="middle" fill="#0a0a0a" stroke="#0a0a0a" stroke-width="0.7" word-spacing="-4">DMSO</text>
<text x="469.5" y="1305.3" font-family="'Liberation Serif', serif" font-size="42.5" text-anchor="middle" fill="#0a0a0a" stroke="#0a0a0a" stroke-width="0.7" word-spacing="-4">LEF 48 h</text>
<text x="642" y="1305.3" font-family="'Liberation Serif', serif" font-size="42.5" text-anchor="middle" fill="#0a0a0a" stroke="#0a0a0a" stroke-width="0.7" word-spacing="-4">LEF 72 h</text>
<text x="810.5" y="1305.3" font-family="'Liberation Serif', serif" font-size="42.5" text-anchor="middle" fill="#0a0a0a" stroke="#0a0a0a" stroke-width="0.7" word-spacing="-4">DMSO</text>
<text x="971" y="1305.3" font-family="'Liberation Serif', serif" font-size="42.5" text-anchor="middle" fill="#0a0a0a" stroke="#0a0a0a" stroke-width="0.7" word-spacing="-4">LEF 48 h</text>
<text x="1143.5" y="1305.3" font-family="'Liberation Serif', serif" font-size="42.5" text-anchor="middle" fill="#0a0a0a" stroke="#0a0a0a" stroke-width="0.7" word-spacing="-4">LEF 72 h</text>
<text x="141" y="1430" font-family="'Liberation Serif', serif" font-size="42.5" text-anchor="middle" fill="#0a0a0a" stroke="#0a0a0a" stroke-width="0.7">CCNA</text>
<text x="138.4" y="1585.2" font-family="'Liberation Serif', serif" font-size="43" text-anchor="middle" fill="#0a0a0a" stroke="#0a0a0a" stroke-width="0.7">CDK2</text>
<text x="135.2" y="1748" font-family="'Liberation Serif', serif" font-size="43" text-anchor="middle" fill="#0a0a0a" stroke="#0a0a0a" stroke-width="0.7">GAPDH</text>
<text x="480.5" y="1883.5" font-family="'Liberation Serif', serif" font-size="48.3" text-anchor="middle" fill="#0a0a0a" stroke="#0a0a0a" stroke-width="0.7">Tca8113</text>
<text x="999" y="1883.5" font-family="'Liberation Serif', serif" font-size="50" text-anchor="middle" fill="#0a0a0a" stroke="#0a0a0a" stroke-width="0.7">KB</text>
</g>
</svg>
</div></body></html>
